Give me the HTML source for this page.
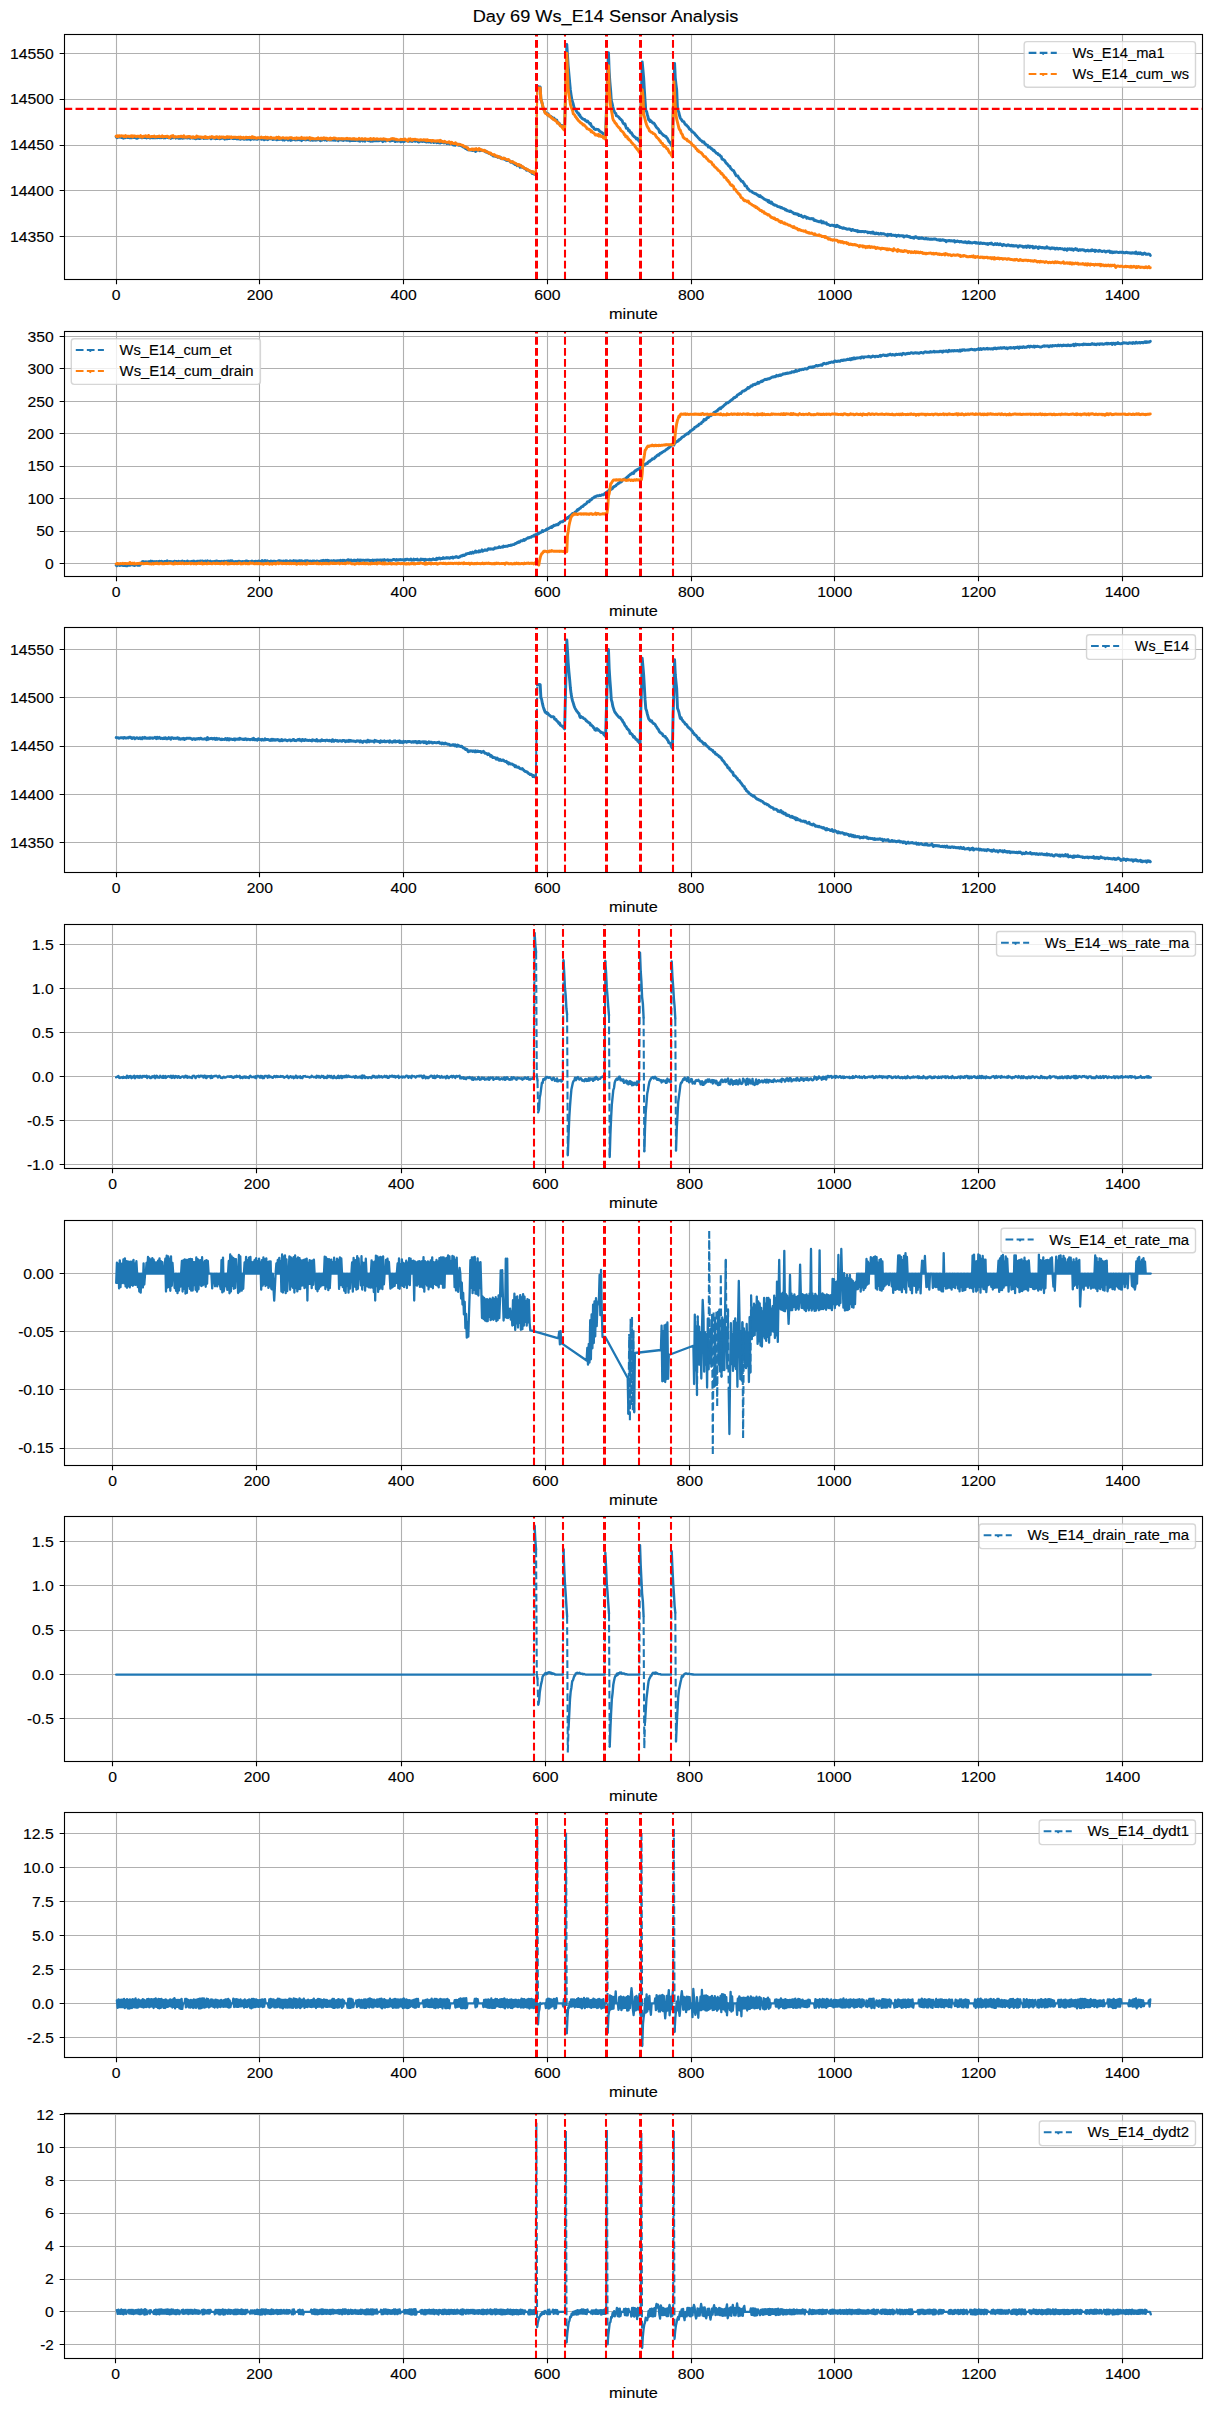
<!DOCTYPE html><html><head><meta charset="utf-8"><style>html,body{margin:0;padding:0;background:#fff;}svg{display:block;font-family:"Liberation Sans",sans-serif;} text{stroke:#000;stroke-width:0.12px;paint-order:stroke;}</style></head><body>
<svg width="1211" height="2411" viewBox="0 0 1211 2411">
<rect x="0" y="0" width="1211" height="2411" fill="#fff"/>
<text x="605.50" y="21.80" text-anchor="middle" font-size="16.67" textLength="265.62" lengthAdjust="spacingAndGlyphs" fill="#000">Day 69 Ws_E14 Sensor Analysis</text>
<g>
<defs><clipPath id="c0"><rect x="64.50" y="34.50" width="1138.00" height="245.00"/></clipPath></defs>
<path d="M116.50 34.50V279.50M259.50 34.50V279.50M403.50 34.50V279.50M547.50 34.50V279.50M691.50 34.50V279.50M834.50 34.50V279.50M978.50 34.50V279.50M1122.50 34.50V279.50M64.50 236.50H1202.50M64.50 190.50H1202.50M64.50 145.50H1202.50M64.50 99.50H1202.50M64.50 53.50H1202.50" stroke="#b0b0b0" stroke-width="1.111" fill="none"/>
<g clip-path="url(#c0)">
<path d="M116.2 136.6l.7 1.1 .7-.8 .8 .2 .7 .1 .7-.3 .7-.2 .7 .8 .7-.1 .8-.9 .7 1.7 .7-.5 .7-.7 .7 .7 .8-.6 .7 .2 .7 .3 .7-.8 .7 .8 .8 .3 .7 0 .7-.7 .7 .5 .7-1 .7 .6 .8 .3 .7-.8 .7 .6 .7 .7 .7 .3 .8-.7 .7 0 .7-.7 .7-.1 .7 0 .8 .8 .7 0 .7-.5 .7-.2 .7 .6 .7 0 .8-.2 .7 .6 .7-.5 .7 0 .7-.4 .8 .5 .7 .5 .7-.5 .7 0 .7 .1 .8 0 .7 .1 .7 0 .7 0 .7-.5 .7 .4 .8-.8 .7 .8 .7-.6 .7 .5 .7 .2 .8-.3 .7 .2 .7-.7 .7 .3 .7 .6 .7-.7 .8 .7 .7-.8 .7 .2 .7-.1 .7 .5 .8 .2 .7-.6 .7 .3 .7 .8 .7-.8 .8-.2 .7 .5 .7-.2 .7-.2 .7-.5 .7 1.1 .8-.6 .7 .3 .7-.4 .7 .9 .7-.2 .8 .1 .7-.4 .7 .2 .7 .2 .7 0 .8-.2 .7-.2 .7-.1 .7-.1 .7-.1 .7 .5 .8-.2 .7-.7 .7 .7 .7 .5 .7-.5 .8-.6 .7 .7 .7 .3 .7-.2 .7-.2 .8 .9 .7 0 .7-.8 .7 .4 .7-.2 .7 .2 .8 .3 .7-.3 .7-.2 .7-.3 .7-.1 .8 .3 .7 .5 .7-.3 .7-.1 .7 .1 .7-.1 .8 .2 .7-.6 .7-.3 .7 .6 .7-.3 .8 1.1 .7-.7 .7 0 .7-.5 .7 .7 .8-.3 .7 .7 .7-.1 .7-.6 .7 .4 .7-1.2 .8 .8 .7 .8 .7-.2 .7-.2 .7-.1 .8-.5 .7 0 .7 .7 .7 .6 .7-1.6 .8 1.2 .7 0 .7 .1 .7-.7 .7 .2 .7 .2 .8-.4 .7-.1 .7 .2 .7 .3 .7 .2 .8-.2 .7 .1 .7-.3 .7 0 .7 .7 .8-.4 .7 0 .7 .4 .7 .1 .7 .1 .7-.4 .8-.1 .7 .1 .7 0 .7 .5 .7-.5 .8 .2 .7-.3 .7 .6 .7-1.4 .7 1 .7 .2 .8-.8 .7 1.4 .7-.9 .7 0 .7-.4 .8 .8 .7-.2 .7-.4 .7 .4 .7 .2 .8 .2 .7-.4 .7-.5 .7 .2 .7-.7 .7 .7 .8 .6 .7-.1 .7-.2 .7-.1 .7 .8 .8-.5 .7 .2 .7-.2 .7-.4 .7 .9 .8-1.1 .7 0 .7 .3 .7-.1 .7 .1 .7 0 .8 .7 .7-.4 .7 .1 .7-.7 .7 .3 .8 .8 .7-.9 .7 .9 .7-.9 .7 .6 .7-.5 .8 .5 .7-.5 .7 .3 .7 .8 .7-.8 .8 1 .7-1 .7-.3 .7 .5 .7-.2 .8 .9 .7-.3 .7 .1 .7-.2 .7 .7 .7-.6 .8-.1 .7-.5 .7-.1 .7 .5 .7 .3 .8 .1 .7-.8 .7 .6 .7-.2 .7-.5 .8 .7 .7-1.1 .7 1 .7 .9 .7-1.4 .7 .4 .8-.7 .7 .5 .7 .6 .7-.7 .7 .4 .8-.1 .7 0 .7 .2 .7 .1 .7 .3 .8-.1 .7-.6 .7 .8 .7 0 .7-1.1 .7 .9 .8 0 .7 .1 .7-.2 .7-.7 .7 .4 .8-.7 .7 .8 .7 .9 .7-.5 .7 0 .7-.5 .8-.2 .7 0 .7 .5 .7-.4 .7 .1 .8 .7 .7-1.1 .7 .2 .7 .3 .7 .2 .8 0 .7-.5 .7 .6 .7-.1 .7 .2 .7-.6 .8 .6 .7 0 .7-.4 .7 .2 .7-.1 .8 .8 .7-1.8 .7 .7 .7-.1 .7 .5 .8-.1 .7 .1 .7 .5 .7-1 .7 .4 .7 .2 .8-.4 .7 .7 .7 0 .7-.4 .7-.5 .8 1.4 .7-.4 .7 0 .7-.2 .7 0 .8 .3 .7-.3 .7-.2 .7 .5 .7-.2 .7-.3 .8-.1 .7 .8 .7-.2 .7 .6 .7-1 .8-.1 .7 .5 .7 .4 .7-.3 .7-.1 .7 .6 .8-1 .7-.2 .7 .2 .7 .2 .7 .3 .8 .2 .7-.2 .7 .5 .7-1 .7 1.1 .8-1.1 .7 .8 .7-.8 .7 .5 .7-.1 .7 .2 .8 .1 .7-.3 .7 0 .7 .2 .7-.7 .8 .3 .7-.4 .7 .7 .7 .9 .7-.6 .8-.6 .7 0 .7 .7 .7-.5 .7-.5 .7 .3 .8 0 .7 0 .7 .7 .7-.3 .7-.6 .8 .4 .7-.2 .7 0 .7-.1 .7 1.3 .8-.8 .7 .3 .7 .1 .7-.4 .7 .3 .7 0 .8-.1 .7 .8 .7-.7 .7-.2 .7 .3 .8 .5 .7-.3 .7-.6 .7-.1 .7-.1 .7 .2 .8 .4 .7 .2 .7-1.2 .7 .9 .7-.5 .8 .8 .7 .1 .7-.7 .7 .1 .7-.2 .8 .6 .7-.8 .7 .2 .7 .2 .7 .8 .7 .4 .8-.9 .7-.5 .7 .6 .7-.4 .7 .6 .8-.6 .7 .4 .7 .1 .7 .3 .7-.2 .8 .6 .7-.4 .7-.8 .7 1.2 .7-.5 .7-.1 .8 .9 .7-.9 .7 .4 .7-.3 .7 .9 .8-.6 .7 .2 .7-.6 .7 1.2 .7-1 .8 .9 .7 .1 .7 .1 .7 .3 .7-1.2 .7 .7 .8-.1 .7 .2 .7 .3 .7-.4 .7-.3 .8 .5 .7 .7 .7-.9 .7 .6 .7-.3 .7 1 .8-1 .7 .7 .7 .2 .7 .2 .7 1 .8-.2 .7-.9 .7 1.4 .7-1.2 .7-.1 .8 .3 .7 .8 .7 .2 .7-.9 .7 1.2 .7-.2 .8 .9 .7-.1 .7 1 .7 .2 .7-.3 .8 1.5 .7-.1 .7 .6 .7 .6 .7-.5 .8 .8 .7-.3 .7 0 .7 .5 .7 0 .7 .4 .8 0 .7-.5 .7-.3 .7 1.6 .7-.4 .8-.9 .7-.3 .7 .2 .7 .3 .7 .4 .8-.1 .7-.2 .7-.2 .7 .2 .7 0 .7 .5 .8 .3 .7 .7 .7-.6 .7 1 .7 .4 .8 0 .7 .8 .7 0 .7 .5 .7 .6 .7 .4 .8 .1 .7 1 .7-.1 .7 .2 .7 .3 .8-.2 .7 .2 .7 .9 .7-.2 .7-.3 .8 0 .7 1.3 .7-.2 .7 .5 .7 .1 .7 .3 .8 .3 .7-.2 .7 .8 .7 .6 .7 .1 .8-.6 .7 .5 .7 .3 .7 .7 .7 .8 .8 .1 .7-.5 .7 1 .7 .7 .7-.2 .7 1.3 .8-.8 .7 1.1 .7 .8 .7-1.1 .7 .7 .8 .6 .7 1.4 .7-1.6 .7 1.4 .7 .2 .8 .2 .7 .2 .7 .5 .7 .5 .7 0 .7 1.5 .8-.6 .7 .6 .7 .3 .7 .5 .7 .6 .8 .1 .7 .6 .7 1.2 .7 .1 .7-.1 .7 .8 .8-.2 .7 .6M537.3 86.3l.7 .2 .8 .8 .7-.4 .7 .1 .7 12 .7 2.4 .8 2.8 .7 3.7 .7 1.4 .7 1.9 .7 .7 .7 1.4 .8 .6 .7 .3 .7-.4 .7 1.9 .7 .1 .8 .4 .7 .5 .7 .3 .7 1.3 .7 .4 .8-.7 .7 1 .7 .6 .7 1.1 .7-.7 .7 2.1 .8 1 .7-.1 .7 .9 .7 1.5 .7 0 .8 0 .7 .7 .7 .7 .7 .5 .7 1.2 .8-29 .7-27.3 .7-27.8 .7 10.7 .7 11 .7 7.7 .8 8.8 .7 7.3 .7 5 .7 4.4 .7 2.4 .8 2.6 .7 3 .7 1.6 .7 .3 .7 1.4 .7 1.1 .8 1.2 .7 0 .7 2.1 .7-.2 .7 1.9 .8 .7 .7 .8 .7 .6 .7 .4 .7 .3 .8 0 .7 1.2 .7 0 .7 1.1 .7-.7 .7 1.1 .8 .6 .7 1.1 .7-.3 .7 2 .7 .8 .8 .7 .7 .2 .7 1.5 .7 .2 .7 .6 .8-.3 .7 .1 .7 0 .7 .2 .7 1 .7 .7 .8 .5 .7 .3 .7 .5 .7 .5 .7 1 .8-.1 .7 .7 .7 1.1 .7-22.5 .7-21.4 .7-21.9 .8-17.2 .7 19 .7 10.4 .7 7.7 .7 10.4 .8 3 .7 3.3 .7 2.7 .7 2.1 .7 1.4 .8 .4 .7 2.7 .7 0 .7 .5 .7 .5 .7 .8 .8 1.1 .7 .4 .7 .8 .7 .6 .7 1.9 .8 1.1 .7 .6 .7-.2 .7 2.3 .7 2 .8-.2 .7 .5 .7 2.1 .7-.4 .7 1.6 .7 .9 .8 0 .7 1.5 .7 1.2 .7 .6 .7 .7 .8 .3 .7 1 .7 .9 .7-.6 .7 1 .8 1.3 .7 .8 .7 .7 .7-29.8 .7-21.3 .7-29.1 .8 8.5 .7 7.8 .7 12 .7 10.7 .7 9.4 .8 1.1 .7 2.9 .7 2.5 .7 3.1 .7-.5 .7 1.9 .8-.6 .7 1 .7 .7 .7 .6 .7-.1 .8 .9 .7 1.4 .7 1.1 .7 1.1 .7 .7 .8 .7 .7 .8 .7 2.7 .7-.9 .7 1.4 .7 .5 .8 .8 .7 .7 .7 .7 .7 .1 .7 .8 .8-.1 .7 1.4 .7 .6 .7 1.4 .7 1.6 .8 .6 .7 1.4 .7 .1 .7 2.3 .7 .6 .7-31.1 .8-22.2 .7-29.7 .7 14.7 .7 6.2 .7 5.7 .8 19.3 .7 1.5 .7 2 .7 3 .7 2.2 .8 1.2 .7 .8 .7 1.4 .7 0 .7 .4 .7 1.4 .8 1.4 .7 0 .7 1.2 .7 .4 .7 .8 .8 1.3 .7 1 .7 .2 .7 .5 .7 1.6 .7 .1 .8 .7 .7 .6 .7 .6 .7 1.2 .7 .6 .8 1 .7 .6 .7 1 .7 .4 .7 1.1 .8 .6 .7 .5 .7 .6 .7 .9 .7-.3 .7 .2 .8 1.7 .7 .2 .7 1.2 .7 0 .7 .1 .8 1.9 .7-.1 .7 .2 .7 .5 .7 1.1 .8 0 .7 1 .7 .9 .7-.4 .7 1 .7 .9 .8 1 .7 .3 .7 0 .7 1.3 .7-.1 .8 .7 .7 .9 .7 .3 .7 2.5 .7 .1 .8 .5 .7 .5 .7 .6 .7 1.5 .7 .9 .7 .5 .8 .9 .7 1.1 .7 .6 .7 .2 .7 1.8 .8 .7 .7 1 .7 .3 .7 .3 .7 1.2 .7 1.5 .8 1.5 .7 1 .7 0 .7 .2 .7 1.3 .8 1.1 .7 .9 .7 .7 .7 1.3 .7 0 .8 .3 .7 1.4 .7 .7 .7 2.2 .7-.1 .7 .3 .8 1.7 .7 1 .7 .5 .7 1 .7 .7 .8 .2 .7-.1 .7 1 .7 .5 .7 .2 .8 .6 .7 .3 .7 .1 .7 .5 .7 .7 .7 0 .8 1.1 .7 .4 .7-.9 .7 1.2 .7 .2 .8 .5 .7 .7 .7 .3 .7 .7 .7 .3 .8 .5 .7-.1 .7 .6 .7 1.1 .7-1.1 .7 2.1 .8-.5 .7 1.1 .7-1.1 .7 1.3 .7 .9 .8 .2 .7 .7 .7-.3 .7 .4 .7 .3 .7 .7 .8 .3 .7 .1 .7 .2 .7 .3 .7 .5 .8-.2 .7 .7 .7 .3 .7 .1 .7 .3 .8 1.1 .7-.5 .7 .7 .7 .6 .7 .1 .7 0 .8 .7 .7-.7 .7 .4 .7 .6 .7 .4 .8 .3 .7 1.1 .7 .2 .7-.4 .7 .5 .8-.2 .7 .8 .7-.4 .7 1.4 .7-.5 .7 .6 .8-.4 .7 1.3 .7-.1 .7 .8 .7-.5 .8-.5 .7 .6 .7 0 .7 1.4 .7-.7 .8 .2 .7 .7 .7 .1 .7 .3 .7-.1 .7-.4 .8 .5 .7-.1 .7 1.6 .7 .1 .7-.3 .8 .6 .7 .2 .7 .3 .7 .1 .7 .4 .7-.1 .8-.7 .7 0 .7 1.9 .7-.1 .7-1 .8 1.3 .7-.2 .7 .3 .7-.5 .7 1.5 .8-.1 .7 .6 .7 .2 .7 .4 .7 .3 .7-.4 .8 .1 .7-.2 .7 .7 .7-.2 .7-.2 .8 1.2 .7-.1 .7-1.2 .7 .5 .7 .9 .8-.3 .7 1.2 .7-.3 .7 .3 .7 .4 .7 .3 .8-.5 .7 .5 .7 .1 .7 .3 .7 .1 .8 .5 .7-.2 .7-.2 .7 .4 .7-.3 .8 .7 .7 .7 .7-.7 .7-.3 .7 .8 .7 0 .8 .4 .7-.1 .7 .5 .7-.4 .7 1.2 .8-.7 .7 .4 .7 .2 .7-.3 .7 .3 .7-.2 .8 0 .7 .2 .7 .3 .7-.6 .7 .2 .8 .2 .7 .1 .7 .8 .7-.4 .7 0 .8 .2 .7 .5 .7-.7 .7 .8 .7-1.2 .7 .6 .8 1.1 .7 .1 .7-.5 .7-.2 .7 .6 .8-.4 .7 .9 .7-.1 .7-.1 .7-.6 .8 .8 .7-.4 .7 .1 .7 0 .7 .2 .7 .4 .8 .2 .7 .1 .7 1.1 .7-1.5 .7 .7 .8-.6 .7 .2 .7-.3 .7 1.1 .7-.3 .7 0 .8 0 .7 .5 .7-.5 .7 .4 .7 .9 .8-.9 .7-.2 .7 0 .7 .8 .7-.2 .8-.3 .7 .1 .7 .4 .7-.3 .7 1.3 .7-.9 .8 .1 .7 .1 .7-.6 .7 .2 .7 .6 .8 .2 .7-.4 .7 1.2 .7-.4 .7 .4 .8 .1 .7-.5 .7 1.1 .7-.8 .7-.8 .7-.1 .8 1 .7 .4 .7-.2 .7 .7 .7-.7 .8 .4 .7 .1 .7-.6 .7 .6 .7 .1 .8 .4 .7 .1 .7-.1 .7-.6 .7 .7 .7 .2 .8-.4 .7 .4 .7 .1 .7 .2 .7-.4 .8 .3 .7-.1 .7 0 .7-.2 .7 .2 .7-.2 .8 .4 .7 .4 .7 .1 .7 .1 .7-.3 .8 .7 .7-.7 .7 .6 .7-.1 .7-.4 .8 .1 .7 .6 .7-.2 .7 .2 .7 1.2 .7-1 .8-.1 .7 .3 .7-.4 .7 .2 .7 .3 .8-.4 .7 .4 .7 0 .7 .1 .7-.6 .8 1.5 .7-.7 .7 .3 .7-.6 .7 0 .7 .6 .8-.1 .7 .5 .7-.6 .7 0 .7 .6 .8 .2 .7 .2 .7-.4 .7 .2 .7-.4 .8 .9 .7 0 .7 0 .7-1 .7 1.1 .7-.6 .8 .5 .7 0 .7 .4 .7-.5 .7 0 .8-.2 .7-.1 .7 .8 .7-.5 .7 .6 .7-.3 .8-.1 .7 .7 .7 0 .7-.7 .7 .4 .8 .1 .7 .3 .7-.5 .7 .2 .7 .2 .8 .4 .7 .1 .7-.5 .7 .9 .7-.4 .7-.5 .8-.2 .7 .5 .7-.7 .7 1 .7 .2 .8 .4 .7-.3 .7-.8 .7 .6 .7 .4 .8-1 .7 .5 .7 .7 .7-.2 .7-.8 .7 .7 .8 .2 .7 .9 .7-.9 .7-.2 .7 .5 .8 .1 .7 .2 .7 .4 .7-.6 .7-.4 .8 .6 .7 0 .7 .4 .7 0 .7-.5 .7 .6 .8 .2 .7-.5 .7 .6 .7-.3 .7 0 .8 0 .7 .4 .7 .9 .7-1 .7-.5 .7 .4 .8-.1 .7 .4 .7-.1 .7 1.1 .7-.7 .8 .5 .7-.9 .7 .2 .7 1 .7-1.5 .8 .8 .7-.6 .7 1.3 .7-1.1 .7 .4 .7 .2 .8-.6 .7 1.7 .7-1 .7 .8 .7-.9 .8-.3 .7 .8 .7 0 .7 1.2 .7-1.6 .8-.1 .7 .4 .7 .4 .7 .2 .7-.5 .7 .2 .8 .4 .7 .2 .7-.6 .7 .3 .7-1.1 .8 .8 .7 .6 .7-.2 .7 0 .7 .8 .8-.7 .7-.3 .7 .5 .7 .1 .7-.5 .7 .9 .8 .3 .7-.9 .7 0 .7 .3 .7 .6 .8-.7 .7 0 .7 .1 .7 .4 .7 0 .7-.1 .8 .6 .7 .4 .7-1 .7 .7 .7-.3 .8 1.1 .7-1.5 .7 .3 .7 .2 .7-.6 .8 .5 .7 .5 .7-.9 .7 .7 .7 .7 .7-.9 .8-.1 .7-.6 .7 1 .7-.5 .7 .9 .8 .5 .7-.4 .7-.5 .7 .6 .7-.4 .8-.2 .7 .3 .7 .3 .7-.2 .7 .4 .7 .7 .8-.6 .7 .1 .7-.5 .7 .8 .7-.3 .8 .3 .7-.7 .7 .5 .7-1 .7 .8 .8-.1 .7-.1 .7 1.2 .7-1.3 .7 .6 .7 .1 .8 .3 .7 .2 .7-1 .7 .5 .7-.1 .8 .6 .7 .2 .7-.5 .7 0 .7-.2 .7 .6 .8 .6 .7-.5 .7-.4 .7 0 .7 .1 .8-.3 .7 1.4 .7-.7 .7-.1 .7 1.1 .8-.8 .7 .6 .7-.5 .7 .4 .7-.4 .7-.1 .8 .4 .7 .1 .7 .2 .7-.3 .7-.1 .8 0 .7 .3 .7-.3 .7 .1 .7 .4 .8 .1 .7 0 .7-.5 .7-.2 .7 .7 .7 0 .8-.1 .7 .2 .7 .3 .7-.3 .7 .3 .8-.5 .7 .3 .7-.2 .7-.2 .7 .8 .8-1.3 .7 1.2 .7 .4 .7-.1 .7-.8 .7 .8 .8-.8 .7 .4 .7 1 .7-.4 .7 .4 .8-.9 .7-.3 .7 .6 .7 .8 .7-.1 .7 .1 .8-.4 .7 .1 .7 0 .7 1.3" fill="none" stroke="#1f77b4" stroke-width="2.90" stroke-linejoin="round" stroke-linecap="round"/>
<path d="M535.9 174.7l.7-47.1M536.6 127.6l.7-41.3" fill="none" stroke="#1f77b4" stroke-width="2.083" stroke-dasharray="7.71 3.33"/>
<path d="M116.2 136l.7 .7 .7-.8 .8 .7 .7-1 .7 .2 .7 .4 .7-.4 .7 .1 .8 .1 .7-.1 .7 .8 .7-.1 .7-1 .8 1.2 .7-.7 .7 0 .7 0 .7 .4 .8 0 .7-.5 .7 .2 .7-.5 .7 1.2 .7-1 .8 0 .7 0 .7 .4 .7 .3 .7-.5 .8 .2 .7-.2 .7 .7 .7-.4 .7-.8 .8 1.3 .7-.4 .7 .6 .7-1 .7 0 .7 .2 .8-.5 .7 .4 .7 .7 .7-.2 .7-1.3 .8 1.5 .7-.3 .7 .2 .7-.3 .7 0 .8 0 .7 0 .7-.4 .7 .8 .7-.3 .7 .1 .8-.1 .7-.2 .7 .1 .7-.5 .7 .6 .8 .1 .7-.2 .7-.6 .7 1.2 .7-.6 .7 .1 .8-.1 .7-.1 .7 .1 .7-.3 .7 .2 .8 1.1 .7-.4 .7 .4 .7-1.1 .7-.5 .8 .2 .7-.5 .7 1.5 .7 .1 .7-.4 .7 .1 .8 0 .7-.2 .7 .3 .7-.6 .7 .2 .8 .1 .7-.6 .7 .3 .7 .6 .7 0 .8-1.2 .7 1.4 .7-.2 .7 .2 .7-.4 .7 .3 .8-.7 .7 .4 .7-.3 .7 .2 .7 .7 .8 .2 .7-.7 .7-.1 .7 .5 .7-.2 .8 .6 .7-.5 .7-1.2 .7 1 .7-.1 .7-.2 .8 .4 .7-.1 .7-.1 .7 .7 .7-.4 .8 0 .7-.1 .7 .5 .7-1 .7 1 .7-.6 .8 .7 .7 0 .7-.4 .7-.3 .7 .3 .8 0 .7-.7 .7 .4 .7-.1 .7 .8 .8 .2 .7-1 .7 .1 .7-.3 .7 .6 .7 .3 .8 .4 .7-1.3 .7 .9 .7-.4 .7-.2 .8 .1 .7-.1 .7 .5 .7-.2 .7 .5 .8-.7 .7-.5 .7 .4 .7 .5 .7-.7 .7 .3 .8 .5 .7-.8 .7 .9 .7-.2 .7-.3 .8 .2 .7-.2 .7 .1 .7 0 .7 .2 .8-.1 .7-.2 .7-.1 .7 1.2 .7-1.2 .7 .3 .8 .6 .7-.1 .7-.7 .7 1.1 .7 0 .8-.9 .7-.3 .7 .7 .7-.3 .7 0 .7-.2 .8 .1 .7 .3 .7 .3 .7-1.2 .7-.1 .8 1.3 .7-.7 .7 .6 .7-.2 .7 .5 .8-.1 .7-.5 .7 0 .7 .2 .7 .2 .7-.5 .8-.4 .7 .7 .7-.1 .7 0 .7-.3 .8 .6 .7-.9 .7 .5 .7 .7 .7-.9 .8 .6 .7 0 .7 0 .7-.8 .7 1.1 .7-.4 .8 .2 .7-.1 .7-.1 .7 .5 .7 .1 .8-1.3 .7 .4 .7 .3 .7-.8 .7 1.4 .7-.8 .8 .5 .7-.1 .7-.2 .7-.3 .7 .3 .8 .2 .7 .2 .7-.3 .7-.1 .7 .1 .8 .6 .7-.4 .7-.4 .7-.2 .7 .3 .7-.2 .8 .3 .7 .7 .7-.3 .7-.2 .7 .1 .8 .6 .7-1.2 .7 .7 .7-.3 .7 .2 .8-.1 .7-.1 .7 .3 .7-1 .7 1 .7 .1 .8-.6 .7 0 .7 1.1 .7-1.1 .7 .3 .8-.2 .7 .1 .7 0 .7-.6 .7 1.8 .8-1.2 .7 .4 .7-.2 .7 .6 .7-.2 .7 .2 .8 0 .7-.1 .7-.4 .7 .4 .7-1 .8 1 .7 0 .7-.2 .7-.6 .7 1 .7-.8 .8 .6 .7-1 .7 .7 .7-.2 .7-.1 .8 .1 .7 1 .7-.7 .7 .1 .7 .8 .8-1.5 .7 1.2 .7-.7 .7-.1 .7 .1 .7-.6 .8 .2 .7 .1 .7 .3 .7 .5 .7 .1 .8-.5 .7 .3 .7 0 .7-.2 .7 .1 .8-.3 .7 .5 .7-.3 .7 .1 .7 .1 .7 0 .8-.4 .7-.2 .7 .5 .7-.2 .7 .1 .8 .1 .7-.2 .7 .5 .7 0 .7-.5 .8 .5 .7-.6 .7 .7 .7 0 .7-.2 .7 .3 .8 .1 .7-.2 .7-.9 .7 .8 .7 0 .8 .2 .7-.7 .7 .7 .7-.1 .7 0 .7-.6 .8 .1 .7 .8 .7-.1 .7-.3 .7 .4 .8-.3 .7-.2 .7-.5 .7 1.1 .7-.5 .8 .2 .7-.8 .7 .5 .7 .3 .7-.2 .7-.2 .8-.1 .7 .5 .7-.2 .7 0 .7 .1 .8-.2 .7 .2 .7-.1 .7 .2 .7-.5 .8 .1 .7 .4 .7 0 .7 .1 .7 .8 .7-.5 .8 .1 .7-.2 .7-.2 .7-.3 .7-.4 .8 .2 .7-.4 .7 .5 .7-.2 .7 .3 .8 .4 .7-.2 .7 .5 .7 .1 .7 0 .7 0 .8-.3 .7-.3 .7 .4 .7-.2 .7 0 .8 .2 .7-.5 .7-.2 .7 .7 .7 .6 .7-.2 .8 1 .7-2 .7 .3 .7-.6 .7 .5 .8 1.1 .7-.1 .7-1 .7 .3 .7-.2 .8-.2 .7 .4 .7 0 .7 .2 .7 .1 .7 .2 .8 .2 .7-.5 .7 0 .7 .1 .7 .2 .8-.1 .7-.3 .7 .2 .7 .5 .7-.6 .8 .8 .7-.9 .7 .9 .7 0 .7-.2 .7 .1 .8 0 .7 .8 .7-.8 .7-.1 .7 .5 .8 .3 .7-.2 .7-.2 .7 .5 .7-.6 .8 0 .7-.1 .7 1 .7-1.3 .7 .4 .7 .7 .8 .1 .7 .6 .7-.5 .7-.3 .7 .7 .8 .1 .7 .2 .7 .1 .7 0 .7-.7 .7 .3 .8 1.4 .7-.6 .7-.6 .7 .9 .7 .5 .8-.1 .7 0 .7-.8 .7 1.1 .7 .1 .8 .9 .7-.6 .7 .2 .7 0 .7 .2 .7 .3 .8 .2 .7 .2 .7 .3 .7 .9 .7 .2 .8 .4 .7-.1 .7 .7 .7 0 .7 1.5 .8 .7 .7-.3 .7-.2 .7 .2 .7-.7 .7 0 .8 1.1 .7-.9 .7 .4 .7-.2 .7-.7 .8 .7 .7 .6 .7 .2 .7-1.5 .7 .4 .8 .4 .7 .7 .7 .1 .7 .1 .7 .5 .7-.5 .8 .1 .7 1.2 .7-.1 .7 .4 .7 .2 .8 .4 .7 .9 .7-.4 .7 0 .7 .8 .7 .7 .8 .1 .7 .4 .7-.5 .7 .6 .7 1.1 .8-.3 .7 0 .7 1 .7-.4 .7 .7 .8 0 .7 .4 .7 .4 .7 .8 .7-.2 .7-.6 .8 .1 .7 .6 .7 .3 .7 .6 .7 0 .8 .3 .7-.4 .7 1 .7 .6 .7 .8 .8-.1 .7 .1 .7-.2 .7 .8 .7 .3 .7 .3 .8 .5 .7 .4 .7 .4 .7 1 .7-.9 .8 .1 .7 1 .7-.2 .7 .8 .7 .5 .8 .1 .7 1 .7 .3 .7 .2 .7 .6 .7 .5 .8-.1 .7 .8 .7 .2 .7 .3 .7 .2 .8 1.3 .7-.2 .7-.3 .7 1.2 .7-.9 .7 1.6 .8 .5 .7 .5M537.3 87.2l.7 1.1 .8-.2 .7 .2 .7-.4 .7 11.8 .7 1.4 .8 3.6 .7 2.4 .7 2.1 .7 2.2 .7 1.7 .7 .5 .8 0 .7 1.4 .7 .2 .7-.2 .7 1.2 .8 .1 .7 1.2 .7 .6 .7 0 .7 1.1 .8 .5 .7-.1 .7 1 .7 .4 .7 .6 .7 1.5 .8-.3 .7 .9 .7 .8 .7 1.2 .7 .5 .8 .1 .7 1.6 .7 1 .7 .8 .7-.1 .8-28.9 .7-27.7 .7-19.7 .7 19.5 .7 17.2 .7 4.4 .8 4.6 .7 5.4 .7 2.3 .7 2 .7 1.6 .8 3.6 .7 .5 .7 .6 .7 1.6 .7 .7 .7 1 .8 1.1 .7 1.1 .7 .4 .7 .9 .7 .7 .8 .6 .7 .2 .7 1 .7 .8 .7-.4 .8 1 .7 .8 .7 .6 .7 1.4 .7 .4 .7 .1 .8 .5 .7 .2 .7 .7 .7 1.4 .7-.6 .8 1.4 .7 0 .7 .7 .7 .8 .7 1 .8-.4 .7 .3 .7 .4 .7-1 .7 1.8 .7-1.2 .8 .7 .7 .8 .7-.3 .7 .2 .7 1.6 .8-.1 .7 1 .7 .3 .7-19.9 .7-19 .7-20.5 .8-14.2 .7 24 .7 7.8 .7 8.8 .7 3.8 .8 3.9 .7 4.7 .7 1.9 .7 .6 .7 1.5 .8 .8 .7 .7 .7 1.5 .7 .8 .7 .8 .7 .6 .8 .8 .7 1.6 .7 .7 .7 .5 .7 .6 .8 .9 .7 1.8 .7-.1 .7 2.1 .7-.3 .8 .4 .7 2.1 .7-.2 .7 1.4 .7 .1 .7 .9 .8 1.4 .7 .4 .7 1.2 .7 .6 .7 .3 .8 1.7 .7 .6 .7 1 .7 1.1 .7 .2 .8 1.7 .7 .9 .7 1.1 .7-35.3 .7-25 .7-3.3 .8 6.7 .7 17.9 .7 2.4 .7 2.7 .7 2.9 .8 2.5 .7 1.8 .7 1.2 .7 .8 .7 2.3 .7 .3 .8 .8 .7 .4 .7 .1 .7 1 .7 .2 .8 .3 .7 .7 .7 1.5 .7 .9 .7 .7 .8 .6 .7 1 .7 1 .7 .4 .7 1.6 .7 .6 .8 .3 .7 1.8 .7 1 .7-.5 .7 1.2 .8 .5 .7 1.4 .7-.1 .7 1.2 .7 1.6 .8 1.4 .7-.1 .7 1.6 .7 1.3 .7 1.3 .7-39.9 .8-35.4 .7 11.4 .7 13.7 .7 8.1 .7 4.4 .8 3.1 .7 2.9 .7 2.9 .7 1.7 .7 .5 .8 2.5 .7 1 .7 1.1 .7 2.5 .7 .3 .7 .9 .8 .3 .7 .6 .7-.2 .7 1.6 .7-.1 .8 .8 .7 .5 .7 .4 .7 .5 .7 1.1 .7 1.3 .8-.1 .7 .7 .7 1 .7 .4 .7 1.4 .8 .4 .7 1.5 .7-.2 .7 1.4 .7-.1 .8 .7 .7 .2 .7 1 .7 .7 .7 1.1 .7 1 .8 0 .7 .3 .7 1.3 .7 .6 .7 .6 .8 1.2 .7 .8 .7 0 .7 .7 .7-.1 .8 1.5 .7 1.3 .7 0 .7 1.4 .7 .7 .7 .6 .8 .7 .7 .5 .7 1.1 .7 .7 .7 .4 .8 .6 .7 1.2 .7 1 .7-.2 .7 1.4 .8 .6 .7 1.8 .7-.2 .7 .7 .7 .8 .7 1.6 .8 0 .7 1.6 .7 .4 .7 1.6 .7 1 .8 .7 .7-.4 .7 1.1 .7 .3 .7 3 .7-.4 .8 .9 .7 1.1 .7 1.1 .7 .5 .7 1 .8 .8 .7 .4 .7 2.1 .7 .8 .7 .2 .8 .9 .7 1.2 .7 .7 .7-.5 .7 .7 .7 0 .8 .8 .7-.7 .7 .5 .7 1.6 .7 .2 .8 .7 .7 .3 .7 .7 .7 .3 .7 .3 .8 .7 .7 0 .7 1.3 .7-.5 .7 .6 .7 1 .8 0 .7 1 .7 .6 .7 .2 .7 0 .8 1.4 .7-.2 .7-.1 .7 1.7 .7-.3 .8 .6 .7 .6 .7-.1 .7 1 .7-.4 .7 .6 .8 .7 .7 1.4 .7-.1 .7 .6 .7-.1 .8 .8 .7-.6 .7 1.1 .7 .7 .7-.1 .7-.3 .8 .5 .7 1.2 .7 .6 .7-.4 .7 1.1 .8-.8 .7 1 .7 .2 .7 .6 .7-.7 .8 1.3 .7 0 .7-.1 .7 .5 .7 .4 .7 .5 .8-.1 .7 .3 .7 .7 .7 .2 .7 .5 .8 .5 .7-.8 .7 1 .7 .5 .7 .2 .8-.1 .7 1 .7 .7 .7-.4 .7 0 .7 .8 .8 0 .7 .3 .7 .2 .7 0 .7 .4 .8-.1 .7-.3 .7 1.4 .7-.1 .7 .1 .8 .8 .7-.4 .7 .7 .7 .1 .7-.2 .7-.2 .8 .9 .7 .1 .7 .5 .7-.8 .7 .8 .8 .4 .7 .2 .7 .1 .7 .3 .7-.8 .7 1 .8 .1 .7-.2 .7 .9 .7 0 .7-.1 .8 .1 .7 .9 .7-.9 .7 1.2 .7-.2 .8 .7 .7 1 .7-.3 .7-.2 .7 .9 .7 .3 .8-.2 .7 .5 .7-.4 .7 .3 .7-.1 .8 .1 .7 .3 .7-.1 .7 .4 .7 1.2 .8-.5 .7-.2 .7 1 .7 .1 .7-.9 .7 .4 .8 1.1 .7-.4 .7 .2 .7-.1 .7-.1 .8 1.1 .7-.6 .7 .7 .7 .8 .7-.4 .8-.1 .7 .5 .7 .2 .7-.3 .7 .5 .7-.4 .8 0 .7 .6 .7-.2 .7 .5 .7 .3 .8 .2 .7 .8 .7-1.1 .7 .3 .7 .1 .7-.2 .8 1.3 .7-1 .7 .3 .7 .1 .7 1.2 .8-1.1 .7-.1 .7 .9 .7-.7 .7-.5 .8 1.4 .7 0 .7-.8 .7 .1 .7 .6 .7-.3 .8-.2 .7 .3 .7 1.3 .7-.2 .7-.8 .8 .4 .7 .2 .7-.1 .7 .2 .7 .8 .8-.9 .7 .1 .7 .3 .7-.1 .7 .2 .7 0 .8-.1 .7 1 .7-.7 .7 .9 .7-.8 .8 0 .7 .6 .7-.1 .7 .5 .7 0 .7 .8 .8-2.1 .7 .9 .7 .5 .7 0 .7 .1 .8 1.2 .7-1.9 .7 1.3 .7-.3 .7 .2 .8 .5 .7-.4 .7 .5 .7 .3 .7 0 .7-1.2 .8 .6 .7-.2 .7 .3 .7 .3 .7 1.1 .8-1.1 .7 .2 .7 .2 .7 .8 .7-.8 .8 .5 .7 .2 .7 0 .7-1 .7 .4 .7 .8 .8-.9 .7 .7 .7-.5 .7 .8 .7-.1 .8-.6 .7 .6 .7-.3 .7 .3 .7 .8 .8-.4 .7 .1 .7 .5 .7-.5 .7 .5 .7-.3 .8 0 .7-.2 .7-.1 .7-.1 .7 .1 .8 .7 .7 0 .7-.5 .7 .9 .7-.7 .7 .2 .8-.4 .7 .3 .7 .7 .7-.1 .7-.4 .8 .8 .7-.5 .7 .2 .7 .4 .7-.2 .8-.3 .7-.2 .7 1 .7-1.4 .7 .7 .7-.4 .8 .5 .7 .7 .7-.5 .7 .1 .7 .2 .8 .8 .7-.2 .7-.4 .7-.3 .7 .2 .8 .3 .7-.2 .7 .1 .7-.3 .7-.1 .7 .2 .8 .6 .7-.4 .7 1.4 .7-.7 .7 .1 .8 .2 .7-.8 .7 0 .7 .4 .7 .4 .8 .1 .7 .5 .7-.1 .7-.1 .7 .1 .7-.3 .8 .3 .7-.4 .7 0 .7 .6 .7-1 .8 1.3 .7 .3 .7-.9 .7 .5 .7-.1 .7-.5 .8 .6 .7 .2 .7 .2 .7-.5 .7 .3 .8-.3 .7 .7 .7-.4 .7 .5 .7-.6 .8 .4 .7-.4 .7 .1 .7 .8 .7-.4 .7 .1 .8 .3 .7-.5 .7 1.1 .7-1 .7 .2 .8 1.1 .7-1.5 .7 1.4 .7-.5 .7 .1 .8-.5 .7 .5 .7-.5 .7 .9 .7-.4 .7-.1 .8 .1 .7 .2 .7 .5 .7-.2 .7-.4 .8 0 .7 0 .7 .8 .7-.1 .7-.6 .8-.1 .7 .6 .7-.1 .7 .5 .7-.2 .7 .2 .8 .3 .7 .1 .7-.5 .7 .5 .7-.5 .8-.2 .7 .6 .7 .5 .7 .1 .7-.5 .7-.6 .8 .8 .7-.1 .7 .4 .7 .2 .7-.6 .8 0 .7 .2 .7-.1 .7-.1 .7 .6 .8-.4 .7 .3 .7 0 .7-.1 .7 .6 .7-.4 .8 .2 .7 .4 .7-.3 .7-.5 .7 .5 .8 0 .7 .5 .7 .5 .7-.6 .7 0 .8 .7 .7-.9 .7 .5 .7 .1 .7-.2 .7 0 .8 .2 .7 .6 .7-.4 .7-.4 .7 .4 .8 .3 .7 .4 .7-.4 .7-.2 .7 .6 .8-.2 .7-.2 .7-.3 .7 .3 .7 .4 .7-.8 .8-.1 .7 .9 .7-.8 .7 .1 .7 .5 .8 0 .7 .2 .7 .1 .7 .2 .7-.3 .7-.2 .8-.8 .7 1.7 .7-.1 .7-.1 .7-.2 .8-.3 .7 .6 .7-.2 .7-.4 .7 1 .8-1 .7 .5 .7 .9 .7-1 .7 .4 .7 .4 .8-.4 .7-.5 .7 .4 .7 .3 .7-.6 .8 1.2 .7-.4 .7 .2 .7-.1 .7 .1 .8-.3 .7-.4 .7 .9 .7-.2 .7 .7 .7-1.1 .8 .6 .7 .8 .7-1.3 .7 .1 .7 .6 .8 .6 .7-1.1 .7 .5 .7 0 .7-.1 .8 .1 .7 .7 .7-.4 .7-.6 .7 .4 .7 .3 .8-.6 .7 .4 .7 .1 .7-.6 .7 1.6 .8-1.3 .7 .7 .7-.1 .7-.1 .7 .8 .7-.5 .8-.3 .7 .9 .7-.2 .7-.6 .7-.2 .8 1 .7-.3 .7-.5 .7 .8 .7-.7 .8 .3 .7 0 .7-.4 .7 1.1 .7 1.2 .7-1.1 .8-.1 .7-.2 .7 .1 .7 .2 .7 .2 .8-.4 .7 .2 .7 0 .7 .3 .7 .2 .8 .1 .7-.6 .7 0 .7 .5 .7-.4 .7 .1 .8 .3 .7 0 .7 .4 .7-1 .7 1 .8-.6 .7 .4 .7-.7 .7 .5 .7-.2 .8 1 .7-1.1 .7 .9 .7-.8 .7-.1 .7 .6 .8 .4 .7-.4 .7 .2 .7-.1 .7-.1 .8 .6 .7-.5 .7 .4 .7-.8 .7 .4 .7 .5 .8-.5 .7-.7 .7 1.2 .7 0" fill="none" stroke="#ff7f0e" stroke-width="2.90" stroke-linejoin="round" stroke-linecap="round"/>
<path d="M535.9 174.5l.7-46.2M536.6 128.3l.7-41.1" fill="none" stroke="#ff7f0e" stroke-width="2.083" stroke-dasharray="7.71 3.33"/>
<line x1="536.50" y1="279.50" x2="536.50" y2="34.50" stroke="#ff0000" stroke-width="3.00" stroke-dasharray="7.71 3.33"/>
<line x1="565.00" y1="279.50" x2="565.00" y2="34.50" stroke="#ff0000" stroke-width="2.08" stroke-dasharray="7.71 3.33"/>
<line x1="606.50" y1="279.50" x2="606.50" y2="34.50" stroke="#ff0000" stroke-width="3.00" stroke-dasharray="7.71 3.33"/>
<line x1="640.50" y1="279.50" x2="640.50" y2="34.50" stroke="#ff0000" stroke-width="3.00" stroke-dasharray="7.71 3.33"/>
<line x1="673.00" y1="279.50" x2="673.00" y2="34.50" stroke="#ff0000" stroke-width="2.08" stroke-dasharray="7.71 3.33"/>
<line x1="64.50" y1="108.90" x2="1202.50" y2="108.90" stroke="#ff0000" stroke-width="2.08" stroke-dasharray="7.71 3.33"/>
</g>
<rect x="64.50" y="34.50" width="1138.00" height="245.00" fill="none" stroke="#000" stroke-width="1.111" stroke-linejoin="miter"/>
<text x="116.20" y="300.00" text-anchor="middle" font-size="13.89" textLength="8.75" lengthAdjust="spacingAndGlyphs" fill="#000">0</text>
<text x="259.93" y="300.00" text-anchor="middle" font-size="13.89" textLength="26.25" lengthAdjust="spacingAndGlyphs" fill="#000">200</text>
<text x="403.66" y="300.00" text-anchor="middle" font-size="13.89" textLength="26.25" lengthAdjust="spacingAndGlyphs" fill="#000">400</text>
<text x="547.38" y="300.00" text-anchor="middle" font-size="13.89" textLength="26.38" lengthAdjust="spacingAndGlyphs" fill="#000">600</text>
<text x="691.11" y="300.00" text-anchor="middle" font-size="13.89" textLength="26.38" lengthAdjust="spacingAndGlyphs" fill="#000">800</text>
<text x="834.84" y="300.00" text-anchor="middle" font-size="13.89" textLength="35.12" lengthAdjust="spacingAndGlyphs" fill="#000">1000</text>
<text x="978.57" y="300.00" text-anchor="middle" font-size="13.89" textLength="35.12" lengthAdjust="spacingAndGlyphs" fill="#000">1200</text>
<text x="1122.30" y="300.00" text-anchor="middle" font-size="13.89" textLength="35.12" lengthAdjust="spacingAndGlyphs" fill="#000">1400</text>
<text x="53.80" y="241.70" text-anchor="end" font-size="13.89" textLength="43.88" lengthAdjust="spacingAndGlyphs" fill="#000">14350</text>
<text x="53.80" y="195.95" text-anchor="end" font-size="13.89" textLength="43.88" lengthAdjust="spacingAndGlyphs" fill="#000">14400</text>
<text x="53.80" y="150.20" text-anchor="end" font-size="13.89" textLength="43.88" lengthAdjust="spacingAndGlyphs" fill="#000">14450</text>
<text x="53.80" y="104.45" text-anchor="end" font-size="13.89" textLength="43.88" lengthAdjust="spacingAndGlyphs" fill="#000">14500</text>
<text x="53.80" y="58.70" text-anchor="end" font-size="13.89" textLength="43.88" lengthAdjust="spacingAndGlyphs" fill="#000">14550</text>
<path d="M116.50 279.50v4.86M259.50 279.50v4.86M403.50 279.50v4.86M547.50 279.50v4.86M691.50 279.50v4.86M834.50 279.50v4.86M978.50 279.50v4.86M1122.50 279.50v4.86M64.50 236.50h-4.86M64.50 190.50h-4.86M64.50 145.50h-4.86M64.50 99.50h-4.86M64.50 53.50h-4.86" stroke="#000" stroke-width="1.111" fill="none"/>
<text x="633.50" y="319.00" text-anchor="middle" font-size="13.89" textLength="48.88" lengthAdjust="spacingAndGlyphs" fill="#000">minute</text>
<rect x="1024.17" y="41.60" width="171.32" height="45.70" rx="2.8" ry="2.8" fill="#fff" fill-opacity="0.8" stroke="#cccccc" stroke-opacity="0.8" stroke-width="1.39"/>
<line x1="1028.67" y1="52.85" x2="1056.77" y2="52.85" stroke="#1f77b4" stroke-width="2.083" stroke-dasharray="7.71 3.33"/>
<circle cx="1043.17" cy="53.85" r="1.15" fill="#1f77b4"/>
<text x="1072.47" y="58.00" text-anchor="start" font-size="13.89" textLength="92.25" lengthAdjust="spacingAndGlyphs" fill="#000">Ws_E14_ma1</text>
<line x1="1028.67" y1="73.95" x2="1056.77" y2="73.95" stroke="#ff7f0e" stroke-width="2.083" stroke-dasharray="7.71 3.33"/>
<circle cx="1043.17" cy="74.95" r="1.15" fill="#ff7f0e"/>
<text x="1072.47" y="79.10" text-anchor="start" font-size="13.89" textLength="116.62" lengthAdjust="spacingAndGlyphs" fill="#000">Ws_E14_cum_ws</text>
</g>
<g>
<defs><clipPath id="c1"><rect x="64.50" y="331.50" width="1138.00" height="245.00"/></clipPath></defs>
<path d="M116.50 331.50V576.50M259.50 331.50V576.50M403.50 331.50V576.50M547.50 331.50V576.50M691.50 331.50V576.50M834.50 331.50V576.50M978.50 331.50V576.50M1122.50 331.50V576.50M64.50 563.50H1202.50M64.50 531.50H1202.50M64.50 498.50H1202.50M64.50 466.50H1202.50M64.50 433.50H1202.50M64.50 401.50H1202.50M64.50 368.50H1202.50M64.50 336.50H1202.50" stroke="#b0b0b0" stroke-width="1.111" fill="none"/>
<g clip-path="url(#c1)">
<path d="M116.2 565.2l.7 .5 .7-.4 .8-.3 .7 .1 .7 .4 .7-.5 .7-.1 .7 .3 .8 .1 .7 .3 .7-.2 .7 .1 .7-.4 .8 .7 .7 .1 .7-1 .7 .4 .7-.2 .8 .2 .7-.3 .7-.1 .7-.2 .7 .3 .7 .1 .8 .4 .7-.2 .7-.3 .7-.1 .7-.3 .8 .7 .7-.2 .7 .2 .7 0 .7-1.1 .8-1.3 .7-1.1 .7-.3 .7 .1 .7 .4 .7 .6 .8-.9 .7 .2 .7 1 .7-1 .7-.2 .8 .1 .7-.1 .7-.6 .7 1 .7-.9 .8 .4 .7 0 .7 .3 .7-.2 .7-.1 .7-.1 .8 .3 .7-.2 .7-.1 .7-.2 .7 .1 .8 .4 .7-.6 .7 .6 .7 0 .7 .3 .7-.6 .8-.1 .7 .3 .7-.1 .7-.8 .7 1.3 .8-.3 .7-.1 .7-.3 .7 .4 .7-.2 .8 .6 .7-.3 .7 .3 .7-1 .7 .2 .7 .1 .8-.1 .7 .8 .7-.4 .7-.5 .7 .3 .8 .7 .7-.8 .7 .4 .7-.9 .7 .4 .8 .2 .7-.1 .7 .1 .7 .1 .7 .3 .7-1 .8 .6 .7 .3 .7-.2 .7 .3 .7-.4 .8-.2 .7-.1 .7 .6 .7-.8 .7 .3 .8 .2 .7 .2 .7-.3 .7-.3 .7 .6 .7-.6 .8 .1 .7-.4 .7 .7 .7 0 .7-.7 .8 .6 .7 .2 .7-.4 .7-.3 .7 .5 .7 .2 .8-.8 .7 .9 .7-.3 .7 .3 .7-.7 .8 .7 .7-.2 .7 .2 .7-.3 .7 .3 .8-.4 .7-.1 .7-.2 .7-.2 .7 .6 .7-.1 .8 0 .7 0 .7 .2 .7-.1 .7-.2 .8 .4 .7 .5 .7-1 .7 .1 .7 .3 .8-.4 .7 .6 .7-.6 .7-.2 .7 .1 .7 .7 .8-1.1 .7 .8 .7-.8 .7 1 .7-.1 .8 .1 .7 .5 .7-.8 .7 .4 .7-.2 .8 .2 .7-.6 .7 .6 .7-.5 .7 .7 .7-.2 .8-.3 .7 .2 .7-.1 .7-.1 .7 .9 .8-1.2 .7-.2 .7 0 .7 .4 .7 0 .7 .3 .8 .1 .7-.3 .7 0 .7-.4 .7 .7 .8 .1 .7-.5 .7 .3 .7-.5 .7 .2 .8 .1 .7 .2 .7-.8 .7 .5 .7 .3 .7-.2 .8 .1 .7-1.1 .7 .6 .7 .1 .7-.1 .8-.5 .7 1.1 .7-.2 .7-.8 .7 .5 .8 .2 .7 .3 .7-.1 .7-.6 .7 .1 .7 .3 .8 .3 .7-.5 .7-.1 .7 .4 .7-.1 .8 .4 .7-.3 .7 .2 .7-1.1 .7 .2 .7 0 .8 .3 .7 .3 .7-.2 .7 .3 .7-.5 .8 .6 .7 0 .7-.9 .7 .2 .7 .1 .8 .5 .7 0 .7 .4 .7-1.2 .7 .6 .7-.1 .8-.1 .7 .1 .7-.7 .7 .8 .7-.2 .8-.3 .7 .9 .7-.7 .7 .3 .7-.3 .8-.4 .7 .4 .7 .3 .7-.5 .7 .5 .7 .5 .8-.2 .7-.6 .7-.2 .7 .6 .7-.8 .8 .1 .7 1 .7-.5 .7 .1 .7-.3 .8 1.1 .7 .1 .7-1.2 .7 .3 .7-.4 .7 .3 .8 .3 .7 0 .7-.6 .7 .3 .7 .8 .8-.7 .7 .2 .7-.3 .7-.3 .7-.3 .7 0 .8-.3 .7 .2 .7 .1 .7 .6 .7-.9 .8 .7 .7-.8 .7 1.6 .7-1.1 .7 .2 .8 .6 .7-.7 .7 .1 .7 0 .7 .1 .7-.4 .8 .8 .7-.2 .7-.4 .7 .4 .7-.5 .8-.1 .7 .1 .7 .2 .7-.7 .7 .4 .8 .3 .7-.6 .7 .5 .7-.5 .7 .4 .7-.1 .8 .2 .7-.4 .7-.5 .7-.2 .7 2.2 .8-1.8 .7 .2 .7-.3 .7 1.1 .7-.3 .8 0 .7-.7 .7 .8 .7-.7 .7 .7 .7-.4 .8-.8 .7 .7 .7-.3 .7 1.2 .7-1.3 .8 .3 .7 0 .7-.2 .7 0 .7 .3 .7 .1 .8-.3 .7 .1 .7 0 .7-.3 .7 .2 .8 .1 .7 .4 .7-.2 .7 0 .7 .1 .8-.6 .7 .7 .7-.6 .7 .1 .7-.1 .7 .4 .8-.5 .7 .4 .7-.3 .7-.1 .7 .3 .8-.4 .7 .7 .7-.7 .7 .1 .7 .6 .8-1 .7 .8 .7-.3 .7 0 .7 0 .7-.4 .8 .9 .7-.4 .7 .1 .7 0 .7 .1 .8-.3 .7-.4 .7-.2 .7 0 .7 .3 .8 .5 .7-.8 .7 .3 .7 .3 .7-.3 .7 0 .8-.3 .7 .4 .7-.2 .7-.1 .7 .1 .8 .3 .7 .2 .7-.8 .7 .6 .7-.6 .7-.3 .8 .4 .7 .3 .7-.1 .7 .2 .7-.9 .8 1.2 .7-.2 .7 0 .7-.9 .7 .8 .8-.4 .7 0 .7 .2 .7-.6 .7 .9 .7 0 .8-.1 .7 .2 .7-1.1 .7 .5 .7 0 .8-.3 .7 .7 .7 .6 .7-1.3 .7 .6 .8-.2 .7 0 .7 0 .7 .2 .7-.5 .7 .1 .8 .7 .7-.6 .7 0 .7-.7 .7 .7 .8 0 .7-.2 .7 .4 .7-1.4 .7 1 .8-1 .7 .1 .7-.4 .7 1 .7-.4 .7-.2 .8 .1 .7-.9 .7 .5 .7 .2 .7-.3 .8 .1 .7-.6 .7 .5 .7-.2 .7 .1 .7 .4 .8-.6 .7-.3 .7 .3 .7-.6 .7 .9 .8-.7 .7-.1 .7 .1 .7-.7 .7 .4 .8-.1 .7 .7 .7-.4 .7-.1 .7-.9 .7-.2 .8 .1 .7-.8 .7-.3 .7 .6 .7-.6 .8-.2 .7-1 .7 .2 .7-.3 .7-.3 .8 .2 .7-.7 .7-.3 .7 .8 .7-.7 .7-.7 .8 1 .7-.7 .7-.2 .7-1.2 .7 1.4 .8-.6 .7 .2 .7 .1 .7-1.2 .7 1 .8-.5 .7-.4 .7-1 .7 1.4 .7-.7 .7-.1 .8-.7 .7 .5 .7-.2 .7 .2 .7-1 .8-.5 .7 .4 .7-.3 .7 .3 .7-.3 .7 0 .8 .3 .7 0 .7-.7 .7-.7 .7 .4 .8-.2 .7-.1 .7-.2 .7-.1 .7-.9 .8 .9 .7-.2 .7-.2 .7-.3 .7 .3 .7-1.1 .8 .4 .7 .1 .7-.4 .7 0 .7 .2 .8-.5 .7-.4 .7 0 .7 .1 .7-.6 .8 .3 .7-.5 .7-.2 .7 0 .7-.3 .7-.6 .8-.2 .7-.1 .7-.9 .7 .1 .7-.8 .8 .5 .7-.7 .7-.8 .7 0 .7 .1 .8-.4 .7-1 .7 .9 .7-.9 .7-.2 .7-.6 .8-.4 .7-.6 .7 .3 .7-.4 .7-.4 .8 .1 .7-.5 .7-.7 .7-.1 .7 .2 .7-1.2 .8 .9 .7-1.3 .7 .9 .7-1.1 .7-1.1 .8 .3 .7-.5 .7-.5 .7-.2 .7-.4 .8-1.5 .7 1 .7-.7 .7-.2 .7-.2 .7-.6 .8-.8 .7 .4 .7-.8 .7-.1 .7-.7 .8-.2 .7-.7 .7 .6 .7-1.3 .7 .3 .8-1.3 .7 .4 .7-.6 .7 .1 .7-.6 .7 .3 .8-.1 .7-1.6 .7 .1 .7-1 .7-.3 .8-.1 .7 0 .7-.5 .7-.8 .7 .1 .8-1.3 .7-.5 .7-.2 .7-1.2 .7 .5 .7-1 .8-.7 .7-.3 .7-1.1 .7-.2 .7-1.1 .8 0 .7-.5 .7 0 .7-1.1 .7-.1 .7-1.1 .8-1.1 .7 .3 .7-.8 .7-.8 .7 0 .8-1.3 .7-.3 .7-.2 .7-.5 .7-1.1 .8-.2 .7-.6 .7-.4 .7-.9 .7-1.2 .7 .1 .8 .1 .7-1.4 .7-.3 .7-.2 .7-1 .8-.8 .7-.2 .7-.6 .7-.5 .7 0 .8-.6 .7-.3 .7-.1 .7 .1 .7-.2 .7-.5 .8 .4 .7-.4 .7-.4 .7 .1 .7-.1 .8-.5 .7-1.1 .7 0 .7-.4 .7-.8 .7-.7 .8-.4 .7-.5 .7-1.3 .7 .7 .7-1.1 .8 .2 .7-1.2 .7-.9 .7 .1 .7-.8 .8-.2 .7-1 .7-.5 .7-.6 .7-.6 .7-.1 .8-1.1 .7 0 .7-.2 .7-1.3 .7-.3 .8-.7 .7-.4 .7-.3 .7-.3 .7-.5 .8-1 .7-.1 .7-1 .7-.7 .7-.4 .7-.9 .8 .2 .7-1.2 .7 .2 .7 .3 .7-1.8 .8-.9 .7 .3 .7-1 .7-.2 .7-.5 .8-.4 .7 .2 .7-1.3 .7-.4 .7-.7 .7-.7 .8-.5 .7-.6 .7 .2 .7-.9 .7-.2 .8-.6 .7 .1 .7-1.3 .7-.2 .7-1 .7 .2 .8-1 .7-.4 .7-1 .7 .1 .7-.1 .8-.6 .7-1.3 .7 .1 .7-1 .7-.8 .8-.4 .7 .4 .7-1.1 .7-.8 .7 0 .7-.5 .8-.7 .7-.2 .7-.8 .7 0 .7-.6 .8-.8 .7-.4 .7-.3 .7-.9 .7-.2 .8-.8 .7-.5 .7-1.1 .7-.3 .7-.4 .7-.2 .8 .4 .7-1.8 .7-.4 .7-.9 .7-.2 .8-.5 .7-.2 .7-1.3 .7 .1 .7-.7 .8-.7 .7-.9 .7-.5 .7-.3 .7-.3 .7-.8 .8-.8 .7-.2 .7-1 .7 .1 .7 .2 .8-1.8 .7 0 .7-1.3 .7-.2 .7-.4 .7-.3 .8-1 .7-.1 .7-1.4 .7-.2 .7-.5 .8-.5 .7-.7 .7 .2 .7-1.4 .7-.1 .8-.7 .7 0 .7-1.4 .7-.2 .7-.6 .7-1.9 .8 .7 .7-.3 .7-.4 .7-1.5 .7-.3 .8 0 .7-1.4 .7-.4 .7 .1 .7-.7 .8-.3 .7-.6 .7-.9 .7-1 .7-.3 .7-.4 .8-.4 .7-.6 .7-.3 .7-1.1 .7-.4 .8-.8 .7 .6 .7-1.3 .7-.1 .7-.5 .8-.8 .7-.7 .7-.7 .7-.4 .7-1.1 .7-.1 .8-.1 .7-.7 .7-.3 .7-.6 .7-.5 .8-.8 .7-.5 .7-.3 .7-1 .7-.8 .7 .2 .8-.8 .7-.2 .7-1.1 .7-.9 .7 0 .8-.7 .7-.7 .7 .4 .7-.9 .7-1 .8-.7 .7 0 .7-.2 .7-.6 .7-.2 .7-.8 .8-.5 .7-1.2 .7 .7 .7-1 .7 .1 .8-1.3 .7-.2 .7 .3 .7-1.3 .7 .1 .8-.6 .7 .3 .7-.7 .7 0 .7-.7 .7-.9 .8 1 .7-1.1 .7-.1 .7-.3 .7-.8 .8 .5 .7-.7 .7-.7 .7-.2 .7-.6 .8 .3 .7-.1 .7-.5 .7 0 .7-.4 .7 .1 .8-.5 .7-.3 .7-.5 .7-.4 .7-.2 .8 .2 .7-.6 .7 .4 .7-.4 .7-1 .7 .5 .8 .1 .7-.8 .7 .4 .7-.8 .7 .6 .8-.6 .7-.4 .7-.7 .7 .4 .7-.4 .8 .2 .7-.7 .7 .3 .7-.5 .7 .2 .7-.1 .8-.4 .7-.1 .7 .1 .7-.9 .7 .3 .8-.3 .7 .3 .7-.8 .7 .2 .7-1.1 .8 .9 .7-.5 .7-.2 .7 0 .7-.9 .7 .2 .8-.1 .7-.3 .7-.3 .7 .4 .7-.5 .8-.3 .7-.1 .7 .3 .7 0 .7-.5 .8-.4 .7-.8 .7 .1 .7-.3 .7-.2 .7 .6 .8-.8 .7 .5 .7-.6 .7-.3 .7-.2 .8-.6 .7 .2 .7 .3 .7-.3 .7-.3 .7 0 .8-.4 .7-.1 .7 .5 .7-.9 .7-.9 .8-.3 .7 .3 .7 .2 .7 .1 .7-.6 .8-.1 .7 0 .7-.7 .7 .1 .7-.1 .7-.3 .8-.3 .7 .4 .7 .1 .7-.5 .7-1 .8 .4 .7 0 .7 .2 .7-.4 .7-.1 .8 .4 .7-.1 .7-.5 .7-.5 .7-.2 .7 .5 .8-.6 .7 .2 .7-.2 .7 0 .7-.1 .8-.6 .7 0 .7 .2 .7-.2 .7-.6 .8 1.1 .7-1.3 .7 .7 .7-1 .7 .8 .7-1.1 .8 .8 .7-.4 .7 .1 .7-.6 .7 .2 .8-.1 .7-.1 .7-.3 .7 .6 .7-1.2 .7 0 .8 0 .7 .9 .7-.9 .7 0 .7 0 .8 0 .7 0 .7-.1 .7-.5 .7 .6 .8-.2 .7 .5 .7-.5 .7-.2 .7-.5 .7 .4 .8 .1 .7 .4 .7-.6 .7 .1 .7-.1 .8 .3 .7-.3 .7-.4 .7-.6 .7 1 .8-.6 .7-.4 .7-.3 .7-.1 .7 .6 .7-.2 .8 .1 .7 .3 .7-.8 .7 .3 .7-.4 .8-.1 .7-.6 .7 .5 .7 .5 .7-.6 .7 .2 .8-.1 .7 .6 .7-.2 .7-.9 .7 .1 .8 .4 .7-.3 .7-.2 .7 .4 .7-.3 .8-.2 .7 1 .7-1 .7-.7 .7 .6 .7-.1 .8 .5 .7-.5 .7-.4 .7 .3 .7-.6 .8 .2 .7 .3 .7-.5 .7-.5 .7 .3 .8 .1 .7 .4 .7-.4 .7 .1 .7-.4 .7 .3 .8-.2 .7 .3 .7-.1 .7 .4 .7-.4 .8-.4 .7-.2 .7 .3 .7 .2 .7 .2 .8-.8 .7-.3 .7-.2 .7 .2 .7 .3 .7-.1 .8 0 .7 0 .7 .1 .7-.8 .7 .6 .8-.1 .7-.1 .7-.1 .7-.6 .7 .8 .7-.4 .8 .1 .7 .1 .7-.1 .7 .1 .7-.1 .8-.5 .7-.1 .7 .7 .7-.6 .7 .9 .8-1.2 .7 .4 .7-.1 .7 .1 .7-.5 .7 .4 .8 .6 .7-1 .7-.6 .7 1 .7-.2 .8 .1 .7-.6 .7 .4 .7 .1 .7-.5 .8 .2 .7 .1 .7 0 .7-.4 .7 .1 .7 .6 .8 0 .7-1.1 .7 1.1 .7-1 .7 .5 .8-.9 .7 .3 .7-.2 .7 .5 .7-.2 .8 0 .7-.1 .7-.1 .7 .2 .7-.3 .7-.1 .8-.3 .7-.1 .7 .1 .7 .3 .7 .2 .8-.5 .7 .7 .7-.3 .7-.4 .7 0 .7-.1 .8-.7 .7 .9 .7-.2 .7-.7 .7 .8 .8-.5 .7 .1 .7-.6 .7 .6 .7 .1 .8-.3 .7 .1 .7-.7 .7 .8 .7-.2 .7-.1 .8 .2 .7 .1 .7-.4 .7 .3 .7 .3 .8-1 .7 .3 .7-.6 .7 .7 .7 .3 .8-.6 .7-.4 .7 .2 .7 .3 .7-.7 .7 0 .8 .6 .7-.6 .7 .4 .7-.4 .7-.2 .8 .8 .7 .1 .7-.7 .7 1 .7-.8 .8 .1 .7-.1 .7-.5 .7 .7 .7-.3 .7 .1 .8-.2 .7-.2 .7 .9 .7-.7 .7-.3 .8 .3 .7-.7 .7 .5 .7 .8 .7-1.2 .7 .4 .8-.6 .7 .4 .7 .3 .7-.8 .7 0 .8 .7 .7-.3 .7 .1 .7-.1 .7-.7 .8-.2 .7-.1 .7 .9 .7-.8 .7-.1 .7 .4 .8 .1 .7 .1 .7-.8 .7 1.1 .7-.8 .8 .3 .7-.1 .7-.3 .7 .4 .7 0 .8 .2 .7 .3 .7 0 .7-.5 .7-.1 .7-.4 .8-.4 .7 .6 .7-.4 .7 .1 .7-.1 .8 .3 .7-.3 .7 .9 .7-.5 .7-.6 .8 .3 .7 .3 .7-.9 .7 .5 .7-.3 .7 .1 .8-.2 .7 .2 .7 .1 .7 0 .7-.8 .8 .8 .7-.3 .7-.3 .7 .2 .7 .6 .7-.7 .8-.3 .7 .6 .7-.4 .7 .3 .7-.2 .8 .4 .7-.7 .7 0 .7 .5 .7 .2 .8-.5 .7 .3 .7-.3 .7-.2 .7-.6 .7 1.3 .8-.4 .7-1.2 .7 1 .7-.5 .7-.2 .8 .2 .7 .4 .7-.3 .7-.1 .7 0 .8-.1 .7 .3 .7-.9 .7 .2 .7 .4 .7-.4 .8 .4 .7-.2 .7 .3 .7-.3 .7 .3 .8-.3 .7 .3 .7-.4 .7-.6 .7 .6 .8 0 .7-.2 .7 .5 .7-.2 .7 .4 .7-.7 .8-.1 .7 .3 .7 .3 .7-.8 .7 .4 .8-.2 .7-.1 .7 .4 .7 0 .7-.1 .7-.5 .8 .2 .7-.6 .7 .7 .7-.7 .7 .4 .8 .3 .7-.4 .7 .1 .7-.3 .7 1.2 .8-1.4 .7 .2 .7 .1 .7 1 .7-1.2 .7 .2 .8 .2 .7-1 .7 1 .7-.2 .7 .4 .8 0 .7-.4 .7 .2 .7-.7 .7-.2 .8 .3 .7 .1 .7-.2 .7 .3 .7 0 .7 .4 .8-.7 .7-.1 .7 .3 .7-.2 .7 .1 .8 .4 .7-.9 .7 .5 .7 .2 .7 0 .8-1 .7 .3 .7 .6 .7-.5 .7 .1 .7-.2 .8 .5 .7-.4 .7-.2 .7 .1 .7 .4 .8-.4 .7-.7 .7-.2 .7 .9 .7-.8 .7 .6 .8-.4 .7 .3 .7-.3 .7-.6" fill="none" stroke="#1f77b4" stroke-width="2.90" stroke-linejoin="round" stroke-linecap="round"/>
<path d="M116.2 563.9l.7-.4 .7 0 .8 .5 .7-.3 .7 .1 .7-.3 .7 .1 .7 0 .8-.3 .7 .5 .7-.2 .7-.2 .7 0 .8 .4 .7-.3 .7 .1 .7 0 .7-.1 .8-1 .7 1.1 .7 .2 .7-.5 .7 0 .7 .5 .8-.7 .7 .8 .7-.2 .7 .2 .7-.4 .8 0 .7 .1 .7-.5 .7 .2 .7 .5 .8-.5 .7-.1 .7 .4 .7 .3 .7-.4 .7-.1 .8 .1 .7 .1 .7-.6 .7 .6 .7 0 .8 .2 .7 0 .7-.1 .7 .4 .7-.6 .8 0 .7 .5 .7-.4 .7-.3 .7 .1 .7 .1 .8-.4 .7 .7 .7-.2 .7 .3 .7-.7 .8 .2 .7-.1 .7 .4 .7-.1 .7 .1 .7 0 .8-.5 .7 .4 .7-.1 .7 0 .7 .2 .8-.7 .7 .3 .7 .1 .7-.1 .7-.1 .8 .6 .7 0 .7 .2 .7-.8 .7-.4 .7 .9 .8-.3 .7-.2 .7 .5 .7-.2 .7-.5 .8 .5 .7-.5 .7 .7 .7-.6 .7-.1 .8 .7 .7 .1 .7-.4 .7-.3 .7 .6 .7-.2 .8 .1 .7-.2 .7-.4 .7 .3 .7 .6 .8-.6 .7 .1 .7 .1 .7 .3 .7-.2 .8-.2 .7 .6 .7-.5 .7 .1 .7-.3 .7-.3 .8 .6 .7-.2 .7 .2 .7-.8 .7 1.2 .8-.5 .7 .2 .7-.5 .7 .3 .7 0 .7 .3 .8-.1 .7-.8 .7 .7 .7-.1 .7-.1 .8 .2 .7 .1 .7 .1 .7-.7 .7 .1 .8 .3 .7 .2 .7-.5 .7 .3 .7-.4 .7 .4 .8-.1 .7 .2 .7 .3 .7-.6 .7 .3 .8-.6 .7 .6 .7 .4 .7-1 .7 .3 .8-.8 .7 1.1 .7 .5 .7-.9 .7 .4 .7 .3 .8-.6 .7 .3 .7-.3 .7 .1 .7 .1 .8 .3 .7-.2 .7-.1 .7-.1 .7 .4 .8-.2 .7 0 .7-.7 .7 .5 .7-.2 .7 .8 .8-.3 .7 .2 .7-.6 .7-.3 .7 .3 .8 .4 .7-.4 .7 .4 .7 .2 .7-.5 .7 .4 .8-1 .7 .3 .7 .2 .7 .1 .7-.3 .8 .3 .7 .4 .7 0 .7-.2 .7-.4 .8 .7 .7-.2 .7-.5 .7 .6 .7-.4 .7 .3 .8-.1 .7 .1 .7 .3 .7 .3 .7-.7 .8 0 .7-.1 .7 .2 .7 0 .7-.6 .8 .5 .7 .6 .7-.4 .7 .1 .7-.4 .7 .7 .8-.5 .7-.3 .7-.1 .7 .4 .7 .4 .8-.8 .7-.1 .7-.4 .7 .9 .7-.5 .7 .1 .8-.1 .7 .1 .7 .5 .7-.5 .7 .3 .8-.3 .7 .1 .7 .3 .7 0 .7-.5 .8 .3 .7-.3 .7 .5 .7-.4 .7-.1 .7 .6 .8-.5 .7 .2 .7 .2 .7-.4 .7 .1 .8 .3 .7 .5 .7-.5 .7 0 .7-.2 .8 0 .7 .5 .7-.7 .7 0 .7 .7 .7-.7 .8-.2 .7 .6 .7 .1 .7 .2 .7 .2 .8-1.4 .7 .6 .7 0 .7 .2 .7-.3 .8 .2 .7 .1 .7 0 .7-.3 .7 .3 .7-.4 .8 .1 .7 .1 .7 .3 .7-.8 .7 .6 .8 .4 .7-.3 .7-.3 .7 .3 .7 .4 .7-.5 .8-.2 .7 .4 .7-.3 .7-.1 .7 .5 .8-.5 .7 .1 .7 .5 .7-.3 .7 .3 .8-.9 .7 0 .7 .3 .7 .2 .7-.6 .7 .7 .8-.3 .7 0 .7 .2 .7-.1 .7-.3 .8 .3 .7-.3 .7 .8 .7-.5 .7 0 .8-.1 .7 .2 .7 .1 .7-.1 .7-.3 .7 .6 .8-.3 .7-.6 .7-.1 .7 .4 .7-.1 .8-.1 .7 .2 .7 .4 .7 .3 .7-.3 .8 0 .7 .2 .7 .4 .7-.4 .7-.1 .7-.2 .8-.3 .7 .4 .7 .3 .7-.3 .7-.3 .8 .4 .7-.2 .7-.2 .7-.4 .7 .8 .7-.4 .8 .5 .7-.5 .7 .2 .7-.2 .7 .7 .8-.1 .7-.4 .7 .4 .7-.8 .7 .6 .8-.4 .7 .2 .7-.1 .7 .3 .7-.7 .7 .4 .8 .5 .7-1.1 .7 .6 .7-.3 .7-.4 .8 .9 .7-.2 .7 .5 .7-1 .7 .7 .8 .4 .7-1.1 .7 .8 .7 0 .7-.1 .7 .3 .8-.2 .7-.4 .7 0 .7 .2 .7 .5 .8-.5 .7 .3 .7-.3 .7 .2 .7 0 .8 .2 .7 .2 .7-.7 .7-.2 .7 .3 .7 0 .8 .1 .7 .2 .7-.4 .7 .1 .7 0 .8 .4 .7-.5 .7 .5 .7 .2 .7-.6 .7 .5 .8-.3 .7-.2 .7 .6 .7-.2 .7-.5 .8 .3 .7-.4 .7-.2 .7 .8 .7-.4 .8 .5 .7-.4 .7 0 .7-.1 .7 .1 .7-.3 .8 .2 .7-.5 .7 0 .7 .1 .7 .2 .8 .2 .7 0 .7 .4 .7 .4 .7-1.5 .8 1.2 .7-.2 .7-.5 .7 .3 .7-.7 .7 .6 .8 .5 .7-.8 .7 .1 .7 .3 .7 .1 .8-.2 .7-.1 .7 .3 .7-.4 .7 .9 .8-.3 .7-.3 .7-.3 .7 0 .7 0 .7 .1 .8 .2 .7-.5 .7 .5 .7-.1 .7-.3 .8 .7 .7-.2 .7-.1 .7-.3 .7 0 .7 .2 .8-.4 .7 .5 .7-.4 .7 .3 .7 .2 .8-.3 .7-.1 .7 0 .7 .2 .7-.3 .8 .3 .7 .3 .7-.9 .7 .4 .7 .3 .7-.4 .8 0 .7-.1 .7 .7 .7-1 .7 .7 .8-.1 .7 .1 .7-.2 .7 .2 .7-.2 .8-.1 .7 1.1 .7-.5 .7-.6 .7 .1 .7 .3 .8 .3 .7-.5 .7 .3 .7-.2 .7 .3 .8-.5 .7 0 .7 .3 .7 0 .7-.1 .8 .4 .7-.2 .7-.2 .7-.4 .7 .6 .7 0 .8-.4 .7 .2 .7-.3 .7 .3 .7-.1 .8-.4 .7 .5 .7-.1 .7 0 .7 .4 .7-.2 .8 .2 .7-.4 .7 .5 .7-.6 .7 .4 .8-.7 .7 .6 .7-.4 .7-.1 .7 .6 .8-.1 .7 0 .7-.1 .7 .1 .7-.1 .7-.1 .8 .1 .7 .7 .7-1 .7-.2 .7 .2 .8 .1 .7 .4 .7 .1 .7 0 .7-.4 .8 .3 .7 .4 .7-.4 .7 .2 .7-.7 .7 .6 .8 0 .7-.7 .7 .4 .7 .2 .7-.5 .8 .6 .7 0 .7-.2 .7-.1 .7 0 .8 .1 .7 .3 .7-.8 .7 .5 .7 0 .7-.4 .8-.1 .7 .3 .7-.4 .7 .6 .7-.2 .8-.2 .7 .3 .7-.3 .7 .1 .7 .6 .7-.6 .8-.6 .7 .9 .7-.4 .7 0 .7 .8 .8 1 .7-4.1 .7-3.3 .7-2.2 .7-1.7 .8-.5 .7-1.1 .7-.9 .7 .3 .7-.4 .7 .2 .8 .2 .7 .4 .7-.6 .7 .5 .7-.9 .8 .4 .7 .1 .7-.8 .7 .4 .7 .1 .8 .3 .7-.3 .7 .1 .7-.1 .7 .3 .7-.1 .8 0 .7-.1 .7 .3 .7-.4 .7 .2 .8 0 .7 .1 .7 .2 .7-.2 .7-.5 .8 .7 .7 .1 .7 0 .7-16.4 .7-4 .7-5.1 .8-3.9 .7-2.7 .7-2.4 .7-1.1 .7-1.1 .8 0 .7-1.3 .7 .3 .7 .3 .7-.6 .7 .7 .8 .2 .7-.4 .7-.3 .7 0 .7-.2 .8 .5 .7-.5 .7 .4 .7-.4 .7 .5 .8-.6 .7 .4 .7-.2 .7 .5 .7-.4 .7 .1 .8 .4 .7-.7 .7 0 .7 .3 .7-.3 .8 .8 .7-.4 .7 0 .7-.2 .7-.8 .8 1.3 .7-.4 .7-.6 .7 .3 .7 .3 .7 .4 .8-.3 .7 0 .7 0 .7-.4 .7 .1 .8 .2 .7-.4 .7 .4 .7 .2 .7-.9 .7-5.5 .8-11.9 .7-2.4 .7-4.3 .7-5.6 .7-.2 .8-1.6 .7-1 .7-.9 .7 .2 .7-.1 .8 .2 .7-.5 .7 .1 .7 .2 .7 .2 .7-.6 .8 .3 .7-.1 .7 .3 .7 .2 .7-.7 .8 .1 .7 .2 .7-.2 .7 .7 .7 .1 .8-.3 .7 0 .7-.5 .7 0 .7 .4 .7 .4 .8-.6 .7 .2 .7 .4 .7 0 .7-.8 .8 .4 .7 .1 .7-.7 .7 .4 .7 .2 .8-.3 .7 .4 .7-.3 .7-.4 .7 .1 .7-6 .8-12 .7-2.2 .7-4.2 .7-5.1 .7-.5 .8-1.8 .7-.9 .7-.9 .7 .5 .7-.5 .7-.2 .8 .1 .7-.4 .7-.4 .7 .7 .7-.3 .8 .3 .7-.6 .7 .1 .7 .4 .7-.2 .8 .2 .7-.5 .7 .1 .7 .2 .7 0 .7-.3 .8 0 .7-.1 .7-.1 .7 0 .7 .1 .8-.5 .7 .3 .7-.3 .7 .2 .7-.1 .8 .1 .7-.2 .7 0 .7-.4 .7 .8 .7-.9 .8-.2 .7-3.3 .7-7.3 .7-5.4 .7-4.3 .8-3.5 .7-1.6 .7-2.2 .7 .4 .7-2.1 .8-.6 .7 .2 .7-.1 .7 .3 .7-.4 .7 .2 .8-.4 .7 .8 .7-.4 .7-.2 .7 .3 .8 .2 .7-.1 .7-.3 .7 .2 .7 .1 .7 0 .8-.2 .7 .3 .7-.6 .7 .4 .7-.3 .8 .3 .7-.2 .7 .4 .7-.3 .7 .4 .8-.6 .7 .6 .7-.6 .7-.5 .7 .5 .7 .5 .8-.2 .7 .1 .7-.2 .7 .2 .7-.4 .8 .8 .7 0 .7-.4 .7-.3 .7 0 .8 .4 .7-.1 .7-.4 .7 .5 .7 .1 .7-.1 .8-.1 .7 0 .7-.1 .7-.1 .7-.1 .8 .6 .7-.9 .7 .5 .7 .3 .7 .4 .8-.8 .7 .5 .7 0 .7-.1 .7 .3 .7-1.1 .8 .8 .7-.3 .7 .2 .7-.2 .7-.2 .8-.3 .7 .7 .7-.2 .7-.4 .7 .4 .7-.3 .8 .1 .7 .3 .7 .2 .7-.9 .7 .6 .8 .2 .7-.6 .7 .3 .7 .2 .7 .2 .8-.6 .7-.2 .7 .3 .7 .1 .7 .1 .7 0 .8-.6 .7 .8 .7-.7 .7 .6 .7 .1 .8-.1 .7 0 .7 0 .7-.3 .7 0 .8 .8 .7-.1 .7-.1 .7-.1 .7-.8 .7 1.1 .8-.7 .7 .1 .7 .2 .7-.4 .7 .6 .8-1.1 .7 1.1 .7-.2 .7-.5 .7 .6 .8 .1 .7-.2 .7 .1 .7-.4 .7 .4 .7 0 .8 .1 .7-.2 .7-.7 .7 .7 .7-.6 .8 .2 .7 .2 .7 0 .7-.1 .7 .2 .7 0 .8-.1 .7 0 .7 .1 .7 .1 .7-.5 .8-.2 .7 .8 .7-.3 .7-.7 .7 1 .8 0 .7-.9 .7 .2 .7 .2 .7-.2 .7 .2 .8 .1 .7 .4 .7-1.1 .7 .8 .7 .3 .8-1.1 .7 .9 .7-.2 .7-.1 .7 .4 .8 .2 .7-.1 .7 .3 .7-.8 .7-.5 .7 .5 .8 .2 .7 .3 .7-.2 .7-.3 .7 .6 .8-.3 .7 0 .7-.2 .7 .2 .7 .1 .8-.2 .7-.7 .7 .4 .7 .4 .7 .4 .7-.2 .8 0 .7 .2 .7-.3 .7 .2 .7-.1 .8-.2 .7-.4 .7-.2 .7 .6 .7-.5 .7 .4 .8 .2 .7-.4 .7 .5 .7-.3 .7-.3 .8 .5 .7 0 .7-.3 .7 .3 .7-.5 .8 .3 .7 .1 .7-.4 .7 .3 .7 .5 .7-.7 .8-.1 .7-.1 .7 .2 .7-.1 .7-.2 .8 .5 .7 .1 .7-.4 .7 .3 .7 .3 .8-.2 .7 0 .7 .1 .7-.4 .7 .5 .7 .3 .8-.8 .7-.4 .7 .4 .7-.1 .7 .4 .8 .3 .7-.2 .7 .4 .7-.4 .7-.2 .8-.6 .7 .7 .7-.3 .7 .1 .7 0 .7 .6 .8-.2 .7-.3 .7-.4 .7 .3 .7 0 .8 .4 .7-.1 .7 0 .7-.5 .7 .6 .7 .6 .8-1.3 .7 .1 .7 .3 .7 .3 .7-.2 .8 0 .7 .4 .7-.8 .7-.3 .7 .1 .8 .8 .7 0 .7-.4 .7-.3 .7 .1 .7 .4 .8 .2 .7-.5 .7-.1 .7 0 .7 .1 .8 .4 .7-.1 .7 0 .7-.1 .7 .1 .8-.5 .7 .1 .7 .4 .7 0 .7 .2 .7-.3 .8-.3 .7 .2 .7 0 .7 .3 .7-.3 .8 .3 .7 0 .7 0 .7 0 .7-.5 .7 .7 .8 .1 .7-.2 .7 .2 .7-.3 .7-.3 .8 .3 .7-.2 .7 0 .7 .5 .7-.7 .8 .6 .7-.5 .7-.4 .7 .8 .7-.2 .7 0 .8 0 .7 .3 .7-.2 .7-.2 .7 0 .8 .2 .7-.3 .7 .3 .7-.7 .7 .5 .8 .1 .7 .2 .7-.6 .7 .3 .7 .2 .7 .7 .8-.8 .7 .2 .7-.4 .7 .8 .7-.7 .8 0 .7 .1 .7-.4 .7 .1 .7 .2 .8-.2 .7 .6 .7-.5 .7 .8 .7-.6 .7-.3 .8 .3 .7 .2 .7-.2 .7 .1 .7-.2 .8-.2 .7 .2 .7 .6 .7-.7 .7 .1 .7-.4 .8 .2 .7 .3 .7-.2 .7 .5 .7-.1 .8-.4 .7 .1 .7 .2 .7-.1 .7-.2 .8-.4 .7 .9 .7-.4 .7 .1 .7-.3 .7 .7 .8-.5 .7 .1 .7-.7 .7 .5 .7 .1 .8 .1 .7 .1 .7-.2 .7 .3 .7-.3 .8 0 .7 0 .7-.5 .7-.1 .7 1.2 .7-1.1 .8 .3 .7 .4 .7-.4 .7 .5 .7-.9 .8 .6 .7 .2 .7 .5 .7-.3 .7-.6 .8 .5 .7-.2 .7-.5 .7 .3 .7 .4 .7-.4 .8-.2 .7 .1 .7-.2 .7-.1 .7 .6 .8 0 .7 .2 .7-.8 .7 .2 .7 .4 .7-.1 .8-.1 .7-.3 .7 .3 .7-.3 .7 .8 .8-.2 .7-.5 .7 .7 .7-.7 .7 .5 .8-.2 .7-.1 .7 .5 .7-.9 .7 .4 .7 0 .8-.4 .7 0 .7 .5 .7 .1 .7-.4 .8 .4 .7 0 .7 .1 .7-.3 .7 .1 .8 .2 .7-.4 .7-.1 .7-.1 .7 .5 .7 .3 .8-1 .7 .5 .7 .3 .7 .2 .7-.3 .8-.3 .7 .4 .7 .5 .7-.6 .7 .1 .8 .3 .7-.9 .7 .7 .7 .2 .7-.2 .7-.2 .8-.2 .7 0 .7-.2 .7 .2 .7-.2 .8 .3 .7 0 .7-.1 .7 0 .7 .2 .7-.4 .8 .5 .7-.1 .7 .1 .7-.3 .7 .1 .8 .1 .7 0 .7-.2 .7 0 .7 0 .8 0 .7-.1 .7 0 .7-.1 .7 .7 .7-.6 .8 .2 .7-.2 .7 .3 .7 .3 .7-.6 .8 .3 .7-.1 .7 .3 .7-.3 .7 0 .8 0 .7-.5 .7 .8 .7 .2 .7-.7 .7 .5 .8-.3 .7 .5 .7-.6 .7 .3 .7 .2 .8-.2 .7-.1 .7-.1 .7-.1 .7 .2 .8-.3 .7 .7 .7-.3 .7-.2 .7-.4 .7 .8 .8 0 .7-.2 .7 .1 .7 0 .7-.2 .8-.1 .7 .1 .7 .3 .7-.5 .7-.3 .7 .5 .8 0 .7-.1 .7 .1 .7-.4 .7 .1 .8 .2 .7 0 .7 .2 .7 .1 .7-.2 .8-.1 .7-.2 .7 .1 .7-.3 .7 .3 .7 .3 .8 0 .7-.4 .7 .6 .7-1 .7 .8 .8-.1 .7-.1 .7 .2 .7-.3 .7 .8 .8-.8 .7 .1 .7 .1 .7-.6 .7 .5 .7-.4 .8 .8 .7-.5 .7 .1 .7-.5 .7 1.1 .8-1 .7 0 .7 .2 .7-.4 .7 .3 .8 .2 .7 .4 .7 0 .7-.6 .7 .2 .7 .3 .8 .2 .7-.6 .7 .2 .7 0 .7 .1 .8-.1 .7 .5 .7-.5 .7 .4 .7-.2 .7 .8 .8-.5 .7-1 .7 .7 .7-.7 .7 .9 .8-.4 .7-.6 .7 .3 .7 .2 .7 .5 .8-.3 .7 .1 .7-.4 .7 .1 .7-.3 .7 .3 .8 0 .7 .1 .7-.2 .7 .1 .7 0 .8 .2 .7-.3 .7 0 .7-.1 .7 .1 .8 .1 .7-.2 .7 .6 .7 0 .7-.2 .7 .1 .8-.6 .7 .2 .7 .1 .7 .2 .7 .1 .8 0 .7-.6 .7 .4 .7 .3 .7-.4 .8 .2 .7-.6 .7 .5 .7-.1 .7-.5 .7 .8 .8 .2 .7-.2 .7-.3 .7 .1 .7-.2 .8 .4 .7-.1 .7 .3 .7-.4 .7 .3 .7-.4 .8-.1 .7 .2 .7-.3 .7 0" fill="none" stroke="#ff7f0e" stroke-width="2.90" stroke-linejoin="round" stroke-linecap="round"/>
<line x1="536.50" y1="576.50" x2="536.50" y2="331.50" stroke="#ff0000" stroke-width="3.00" stroke-dasharray="7.71 3.33"/>
<line x1="565.00" y1="576.50" x2="565.00" y2="331.50" stroke="#ff0000" stroke-width="2.08" stroke-dasharray="7.71 3.33"/>
<line x1="606.50" y1="576.50" x2="606.50" y2="331.50" stroke="#ff0000" stroke-width="3.00" stroke-dasharray="7.71 3.33"/>
<line x1="640.50" y1="576.50" x2="640.50" y2="331.50" stroke="#ff0000" stroke-width="3.00" stroke-dasharray="7.71 3.33"/>
<line x1="673.00" y1="576.50" x2="673.00" y2="331.50" stroke="#ff0000" stroke-width="2.08" stroke-dasharray="7.71 3.33"/>
</g>
<rect x="64.50" y="331.50" width="1138.00" height="245.00" fill="none" stroke="#000" stroke-width="1.111" stroke-linejoin="miter"/>
<text x="116.20" y="597.00" text-anchor="middle" font-size="13.89" textLength="8.75" lengthAdjust="spacingAndGlyphs" fill="#000">0</text>
<text x="259.93" y="597.00" text-anchor="middle" font-size="13.89" textLength="26.25" lengthAdjust="spacingAndGlyphs" fill="#000">200</text>
<text x="403.66" y="597.00" text-anchor="middle" font-size="13.89" textLength="26.25" lengthAdjust="spacingAndGlyphs" fill="#000">400</text>
<text x="547.38" y="597.00" text-anchor="middle" font-size="13.89" textLength="26.38" lengthAdjust="spacingAndGlyphs" fill="#000">600</text>
<text x="691.11" y="597.00" text-anchor="middle" font-size="13.89" textLength="26.38" lengthAdjust="spacingAndGlyphs" fill="#000">800</text>
<text x="834.84" y="597.00" text-anchor="middle" font-size="13.89" textLength="35.12" lengthAdjust="spacingAndGlyphs" fill="#000">1000</text>
<text x="978.57" y="597.00" text-anchor="middle" font-size="13.89" textLength="35.12" lengthAdjust="spacingAndGlyphs" fill="#000">1200</text>
<text x="1122.30" y="597.00" text-anchor="middle" font-size="13.89" textLength="35.12" lengthAdjust="spacingAndGlyphs" fill="#000">1400</text>
<text x="53.80" y="568.70" text-anchor="end" font-size="13.89" textLength="8.75" lengthAdjust="spacingAndGlyphs" fill="#000">0</text>
<text x="53.80" y="536.27" text-anchor="end" font-size="13.89" textLength="17.50" lengthAdjust="spacingAndGlyphs" fill="#000">50</text>
<text x="53.80" y="503.84" text-anchor="end" font-size="13.89" textLength="26.38" lengthAdjust="spacingAndGlyphs" fill="#000">100</text>
<text x="53.80" y="471.41" text-anchor="end" font-size="13.89" textLength="26.38" lengthAdjust="spacingAndGlyphs" fill="#000">150</text>
<text x="53.80" y="438.99" text-anchor="end" font-size="13.89" textLength="26.25" lengthAdjust="spacingAndGlyphs" fill="#000">200</text>
<text x="53.80" y="406.56" text-anchor="end" font-size="13.89" textLength="26.25" lengthAdjust="spacingAndGlyphs" fill="#000">250</text>
<text x="53.80" y="374.13" text-anchor="end" font-size="13.89" textLength="26.25" lengthAdjust="spacingAndGlyphs" fill="#000">300</text>
<text x="53.80" y="341.70" text-anchor="end" font-size="13.89" textLength="26.25" lengthAdjust="spacingAndGlyphs" fill="#000">350</text>
<path d="M116.50 576.50v4.86M259.50 576.50v4.86M403.50 576.50v4.86M547.50 576.50v4.86M691.50 576.50v4.86M834.50 576.50v4.86M978.50 576.50v4.86M1122.50 576.50v4.86M64.50 563.50h-4.86M64.50 531.50h-4.86M64.50 498.50h-4.86M64.50 466.50h-4.86M64.50 433.50h-4.86M64.50 401.50h-4.86M64.50 368.50h-4.86M64.50 336.50h-4.86" stroke="#000" stroke-width="1.111" fill="none"/>
<text x="633.50" y="616.00" text-anchor="middle" font-size="13.89" textLength="48.88" lengthAdjust="spacingAndGlyphs" fill="#000">minute</text>
<rect x="71.30" y="338.70" width="189.10" height="45.70" rx="2.8" ry="2.8" fill="#fff" fill-opacity="0.8" stroke="#cccccc" stroke-opacity="0.8" stroke-width="1.39"/>
<line x1="75.80" y1="349.95" x2="103.90" y2="349.95" stroke="#1f77b4" stroke-width="2.083" stroke-dasharray="7.71 3.33"/>
<circle cx="90.30" cy="350.95" r="1.15" fill="#1f77b4"/>
<text x="119.60" y="355.10" text-anchor="start" font-size="13.89" textLength="112.12" lengthAdjust="spacingAndGlyphs" fill="#000">Ws_E14_cum_et</text>
<line x1="75.80" y1="371.05" x2="103.90" y2="371.05" stroke="#ff7f0e" stroke-width="2.083" stroke-dasharray="7.71 3.33"/>
<circle cx="90.30" cy="372.05" r="1.15" fill="#ff7f0e"/>
<text x="119.60" y="376.20" text-anchor="start" font-size="13.89" textLength="134.00" lengthAdjust="spacingAndGlyphs" fill="#000">Ws_E14_cum_drain</text>
</g>
<g>
<defs><clipPath id="c2"><rect x="64.50" y="627.50" width="1138.00" height="245.00"/></clipPath></defs>
<path d="M116.50 627.50V872.50M259.50 627.50V872.50M403.50 627.50V872.50M547.50 627.50V872.50M691.50 627.50V872.50M834.50 627.50V872.50M978.50 627.50V872.50M1122.50 627.50V872.50M64.50 842.50H1202.50M64.50 794.50H1202.50M64.50 746.50H1202.50M64.50 697.50H1202.50M64.50 649.50H1202.50" stroke="#b0b0b0" stroke-width="1.111" fill="none"/>
<g clip-path="url(#c2)">
<path d="M116.2 737.6l.7 .2 .7-.2 .8 .4 .7 .3 .7-.4 .7-.1 .7-.2 .7 .2 .8-.2 .7 .7 .7-.9 .7 .2 .7 .4 .8 0 .7 0 .7-.3 .7 .3 .7-.7 .8-.1 .7 .1 .7 .8 .7 .4 .7-.8 .7 0 .8 .1 .7 1 .7-.7 .7-.1 .7-.3 .8 .5 .7 .4 .7-.5 .7-.4 .7 .9 .8-.6 .7 .8 .7-1.2 .7 .4 .7 .2 .7-.9 .8 .8 .7 .3 .7-.4 .7 .3 .7-.1 .8-.5 .7 .7 .7-.6 .7 .2 .7-.2 .8 .6 .7-.5 .7 0 .7-.7 .7 .8 .7 .6 .8-1.3 .7 1.1 .7-.2 .7-.8 .7 .6 .8 .6 .7-.4 .7 .2 .7 .3 .7-.6 .7 .5 .8-.9 .7 .2 .7 1 .7 0 .7-.2 .8-1.1 .7 .6 .7-.3 .7 1.3 .7-1.5 .8 .1 .7 .3 .7 .4 .7-.4 .7 .1 .7 .3 .8-.1 .7-.8 .7 .2 .7 1.3 .7-.7 .8 .8 .7-.1 .7-.2 .7-.4 .7 .6 .8-.8 .7 1.2 .7-.7 .7 0 .7-.5 .7 0 .8 .1 .7-.1 .7-.1 .7-.1 .7 .5 .8 .5 .7 .4 .7-.6 .7-.3 .7 .3 .8 .5 .7-.7 .7 .4 .7-.3 .7-.1 .7-.3 .8 .6 .7-.7 .7-.1 .7 .7 .7 .2 .8 0 .7 0 .7-.5 .7 .1 .7 .6 .7 .4 .8-2.1 .7 1.7 .7-.4 .7-.1 .7-.3 .8 .1 .7-.3 .7 .7 .7-.5 .7 .3 .8-.6 .7 1.3 .7-.3 .7-.8 .7 .8 .7-.4 .8-.2 .7 .4 .7 .4 .7 .3 .7-.6 .8 .5 .7-.2 .7 0 .7 .1 .7-1 .8 .4 .7 .9 .7-1.3 .7 .3 .7 1.2 .7-1.3 .8 .5 .7 .1 .7-.2 .7 .5 .7 0 .8-.7 .7 1.1 .7-1.1 .7 .2 .7 .1 .8 .2 .7-.6 .7 .6 .7-1.1 .7 .8 .7-.2 .8 .1 .7 .3 .7 .2 .7-.5 .7 .4 .8-.7 .7 .5 .7 .6 .7-.7 .7 .2 .7 .1 .8 .4 .7-.2 .7-.2 .7-.4 .7 .6 .8-1.4 .7 1.5 .7-.5 .7 .6 .7-.3 .8 .7 .7-.9 .7-.6 .7 .9 .7-.2 .7 .2 .8 .6 .7-1 .7 .7 .7 .2 .7 0 .8-1.3 .7 1 .7-.4 .7 .2 .7-.2 .8 .2 .7 .6 .7 .3 .7-.4 .7-.8 .7 1.1 .8-1.1 .7 .4 .7 .6 .7-.7 .7 .6 .8-.4 .7-.4 .7 .6 .7-.3 .7 1 .7 .1 .8-.2 .7-1.1 .7 1.3 .7-.7 .7 .1 .8-.1 .7-.3 .7 .3 .7 .3 .7 .4 .8-.5 .7-.2 .7-.2 .7 .1 .7 .8 .7-.4 .8-.1 .7-.9 .7 0 .7 1.1 .7 0 .8 .2 .7-.4 .7-.4 .7-.4 .7 .4 .8-.7 .7 1.2 .7 .1 .7 .4 .7-1.4 .7 .2 .8 .9 .7-.1 .7-1 .7 .5 .7 .4 .8-.2 .7 .4 .7-.2 .7-.2 .7 .4 .8-.2 .7 .6 .7-1.2 .7 .6 .7-.2 .7 .2 .8 .3 .7 .1 .7-1.2 .7 1.4 .7-.2 .8 0 .7-.2 .7 .4 .7-.2 .7-1 .7 .5 .8 .2 .7-.1 .7 0 .7 .5 .7-.8 .8 .2 .7-.1 .7 .5 .7 .2 .7-.6 .8 .6 .7-.4 .7 .9 .7-1.7 .7 1 .7 .6 .8-.7 .7-.3 .7 .1 .7 .6 .7-.4 .8 .7 .7-.5 .7-.2 .7 .1 .7 .4 .8 .2 .7-.8 .7-.1 .7 0 .7 .7 .7 .6 .8-1 .7 .5 .7-.4 .7 .6 .7-1.1 .8 1 .7-.9 .7 .2 .7 .6 .7-.3 .8 .1 .7 .3 .7-.2 .7 .6 .7-.3 .7-.7 .8 .4 .7-.2 .7 0 .7 1 .7-1.1 .8 .9 .7 .1 .7 .6 .7-1.2 .7 .1 .7 0 .8-.2 .7 .9 .7 .1 .7-1.9 .7 .9 .8 .7 .7-1 .7 .2 .7 .3 .7 0 .8-.1 .7 .1 .7 .9 .7-1.9 .7 .8 .7-.3 .8 .7 .7-.3 .7 .4 .7-.2 .7 1.1 .8-1.7 .7 .4 .7 .6 .7-.5 .7 .2 .8-.7 .7 1 .7-.4 .7 .4 .7-.7 .7 .2 .8-.2 .7 1.2 .7-1.5 .7 1 .7-.1 .8 .5 .7-.5 .7-.6 .7 .7 .7-1 .8 1.3 .7-.5 .7-.3 .7 .1 .7 .5 .7-1 .8 1.6 .7-1.1 .7 1 .7-.6 .7 .8 .8-1.4 .7 .9 .7-.4 .7-.2 .7 .7 .7-.5 .8-.2 .7 .2 .7-.2 .7 .2 .7 .1 .8 .5 .7-.5 .7-.3 .7 .7 .7-.5 .8-.2 .7-.1 .7 1.3 .7-.8 .7 .8 .7-1.2 .8 0 .7 1.2 .7-.8 .7 .1 .7 0 .8-.3 .7 .9 .7-.9 .7 .9 .7-.8 .8 1.7 .7-.8 .7 .2 .7-1.2 .7 1 .7-.4 .8-.1 .7 .1 .7 .8 .7-.3 .7-.3 .8 0 .7 .1 .7 .1 .7 .1 .7-.3 .8 .1 .7-.5 .7 1 .7 .3 .7-.4 .7 .9 .8-1 .7 .4 .7 .6 .7-.4 .7-.4 .8 .7 .7-.2 .7 .8 .7 0 .7-.3 .7 .5 .8 .7 .7-.2 .7 0 .7-.3 .7 0 .8 0 .7 1 .7-.9 .7 .9 .7 .6 .8-1.3 .7 1 .7-.4 .7 .5 .7 .4 .7-.5 .8 .3 .7 .9 .7 .7 .7 .1 .7 .2 .8 1.2 .7-.4 .7 .2 .7 1.2 .7 1.3 .8-.8 .7 .2 .7-.4 .7 .2 .7-.2 .7 .7 .8-.5 .7 0 .7 .8 .7-1.1 .7 1.1 .8-.4 .7-.4 .7 .5 .7-.1 .7 .2 .8-.2 .7 1 .7-.4 .7 .1 .7-.8 .7 .8 .8 1.1 .7 .1 .7 .1 .7 .4 .7 .9 .8-1 .7 .9 .7 .2 .7 1.5 .7-.7 .7 .9 .8 1 .7-.4 .7 .5 .7 .1 .7 .6 .8 .9 .7-1.2 .7 .7 .7 1.1 .7 .5 .8-.9 .7 1 .7-.1 .7 .3 .7-.7 .7 .2 .8 1 .7 .2 .7 .2 .7-.2 .7 1.4 .8-.3 .7 1.6 .7-1 .7 .6 .7 .5 .8-.1 .7 0 .7 .6 .7 .6 .7 .1 .7 1.4 .8-.8 .7 1 .7 .3 .7 .1 .7-.3 .8 1.1 .7 .5 .7 .1 .7 .4 .7-.6 .8 .9 .7 .8 .7 .6 .7 .7 .7-.1 .7 .7 .8-.2 .7 1.2 .7 .5 .7 0 .7 .9 .8-.2 .7 .4 .7 .5 .7 1.4 .7-1.2 .7 1.3 .8 .1 .7 .5M537.3 684.9l.7 0 .8-.5 .7 0 .7 .2 .7 13.2 .7 1.4 .8 4.2 .7 3 .7 2.2 .7 1.8 .7 1.9 .7-.2 .8 1.3 .7-.5 .7 .6 .7 1.4 .7 .5 .8 .4 .7 .9 .7 .1 .7 .1 .7-.2 .8 .3 .7 2 .7 .4 .7 .1 .7 1.4 .7 .4 .8 .9 .7 1.2 .7-.4 .7 2 .7 .5 .8 .3 .7 .9 .7 0 .7 1.3 .7 .9 .8-30.3 .7-29.8 .7-28.9 .7 10.6 .7 12.4 .7 8.8 .8 8.1 .7 8.2 .7 5.8 .7 4 .7 2.9 .8 2.4 .7 2.4 .7 2 .7 1.5 .7 1 .7 1.2 .8 .8 .7 1.2 .7 .4 .7 2.6 .7 1.3 .8-.9 .7 .8 .7 0 .7 .7 .7 .5 .8 .2 .7 .9 .7 1.1 .7 .2 .7 1 .7 .2 .8 .6 .7 .3 .7 1.8 .7-.2 .7 1.1 .8 .4 .7 1.5 .7 .1 .7 1.8 .7 .7 .8-.7 .7-1 .7 1.5 .7-.3 .7 .8 .7 .5 .8 .9 .7 .5 .7 .1 .7 .1 .7 1 .8 1.3 .7-.4 .7 1.8 .7-23.9 .7-21.9 .7-22.9 .8-18.2 .7 19.3 .7 11 .7 8.8 .7 11 .8 2.6 .7 4.1 .7 2.1 .7 2.1 .7 1.6 .8 1.2 .7 .8 .7 1.2 .7 .4 .7 1.1 .7 .7 .8-.2 .7 1 .7 1.1 .7 .5 .7 1.7 .8 .9 .7 1.3 .7 1.6 .7 .8 .7 .8 .8 1.9 .7 .1 .7 1.1 .7 .6 .7 2.7 .7-.3 .8 1 .7 .4 .7 1.4 .7 1.3 .7-.6 .8 1.3 .7 1.2 .7 .7 .7-.1 .7 1.6 .8-.2 .7 2 .7 .5 .7-32.3 .7-21.6 .7-31.6 .8 8.9 .7 8.3 .7 12.1 .7 12.5 .7 8.9 .8 1.9 .7 3.2 .7 2.4 .7 2.6 .7 .7 .7 1.2 .8 .5 .7-.6 .7 1.7 .7 .5 .7 .7 .8 .2 .7 .9 .7 1.4 .7 .8 .7 1.3 .8 .9 .7 1.2 .7 1.5 .7 .6 .7 .7 .7 .4 .8 .5 .7 1.7 .7 .3 .7 .4 .7 .1 .8 1.6 .7 .2 .7 1.5 .7 .9 .7 2.1 .8 0 .7 .6 .7 1.6 .7 2.2 .7 1.1 .7-33.7 .8-23.5 .7-31.5 .7 14.9 .7 7.5 .7 6.3 .8 20.1 .7 1.6 .7 2.2 .7 3.3 .7 3 .8-.9 .7 1.9 .7 .7 .7 1.3 .7 .4 .7 .9 .8 1.6 .7-.2 .7 .9 .7 1.2 .7 1 .8 .5 .7 .8 .7 .6 .7 .4 .7 1.1 .7 .7 .8 1.8 .7 .2 .7 1.3 .7 .3 .7 .5 .8 1.3 .7 .8 .7 1.4 .7-.8 .7 1.9 .8 .8 .7 0 .7 1 .7 .4 .7 1.4 .7 .6 .8-1 .7 .9 .7 .9 .7 1 .7 .5 .8 .5 .7 1.1 .7 .7 .7 .3 .7 .4 .8 .7 .7 .2 .7 1.4 .7 .6 .7-.2 .7 1.7 .8-.1 .7 1 .7 .2 .7 .6 .7 1 .8-.1 .7 1.1 .7 .4 .7 1.7 .7 .6 .8 .8 .7 .8 .7 1.5 .7 .7 .7 .7 .7 .7 .8 2 .7 .7 .7-.3 .7 2 .7 .6 .8 .8 .7 .9 .7 .1 .7 2.6 .7 .8 .7-.1 .8 .9 .7 1 .7 .5 .7 1.4 .7 .7 .8 .4 .7 1.2 .7 .8 .7 .9 .7 1 .8 1.3 .7 .5 .7 .3 .7 2.3 .7 0 .7 1.8 .8 .3 .7 1.1 .7 .2 .7 1.4 .7 .2 .8 .6 .7 .7 .7 .1 .7 .9 .7-.5 .8 .6 .7 1.1 .7 .5 .7 .7 .7 .7 .7-.1 .8 .6 .7 .2 .7 .4 .7 .3 .7 .5 .8 .2 .7 .6 .7 .9 .7 .3 .7 .7 .8-.3 .7 .5 .7 .8 .7-.1 .7 .4 .7 1.1 .8 .1 .7 .9 .7 .1 .7 .2 .7 .2 .8 1.5 .7-.2 .7 0 .7 .1 .7 .4 .7 .7 .8 1.1 .7-.7 .7 .9 .7 .3 .7-1.3 .8 1.2 .7 1.3 .7-1 .7 1.7 .7-.2 .8-.4 .7 1.9 .7-.6 .7 1.1 .7-.3 .7-.1 .8 1.1 .7 .7 .7 0 .7-.8 .7 1.2 .8-.5 .7 .5 .7 1.2 .7-.9 .7 2.1 .8-1.5 .7 .4 .7 1.2 .7-.1 .7 .4 .7-.2 .8 1.1 .7 0 .7 .1 .7-.1 .7-.1 .8 .9 .7-.7 .7 .9 .7 .8 .7 .3 .8-.3 .7-.7 .7 1.6 .7 .4 .7-.1 .7 .8 .8 .1 .7-1 .7 .9 .7 .1 .7 1.2 .8 0 .7-.2 .7 .4 .7 .4 .7-.5 .7 .5 .8 .3 .7 .1 .7 .3 .7 .5 .7-.5 .8 .3 .7 1.1 .7 .6 .7 .4 .7-1.4 .8 1.2 .7-.3 .7 .2 .7 .4 .7 .5 .7 .2 .8-1.2 .7 1.1 .7 .9 .7-.3 .7-.6 .8 .5 .7 .2 .7 1.1 .7 .5 .7-1.2 .8 1 .7-.2 .7 .5 .7-.2 .7-.2 .7 .4 .8 .2 .7 1.1 .7-.8 .7 .8 .7-.5 .8 .3 .7 .5 .7-.1 .7 1.3 .7-.1 .8-1 .7 1 .7 .6 .7-1.1 .7 .6 .7 1 .8-.9 .7 .9 .7-.1 .7 .2 .7-.5 .8 .5 .7-.1 .7 1.1 .7-.4 .7-.2 .7 .1 .8 .4 .7-1 .7 .4 .7 .1 .7 .1 .8-.3 .7 1.1 .7-.4 .7 .9 .7-.6 .8 0 .7 .5 .7 0 .7-.2 .7 .5 .7 .4 .8-.7 .7 .9 .7-.6 .7 .5 .7-.3 .8-.1 .7 .4 .7-.5 .7-.2 .7 .8 .8 0 .7-.3 .7 1.6 .7-.7 .7-.5 .7 .7 .8 .1 .7-.4 .7 .2 .7-.7 .7 1.1 .8 .8 .7-.3 .7 .1 .7-.7 .7-.1 .7 1 .8-.2 .7-.2 .7 .1 .7 .6 .7 0 .8-.5 .7 .3 .7-.6 .7 .3 .7 .9 .8-.4 .7-.1 .7 .6 .7 .5 .7-.9 .7 .4 .8 .1 .7 1.3 .7-.6 .7-.2 .7-.7 .8 1 .7 0 .7-.2 .7-.2 .7 .2 .8-.4 .7 .6 .7 .1 .7-.1 .7 .3 .7-.5 .8 1.3 .7-.5 .7-.4 .7 1 .7-.1 .8-.4 .7-.3 .7 .7 .7 .3 .7 .1 .8 .2 .7 .1 .7-1 .7 .8 .7-.9 .7 1.4 .8-.2 .7 .3 .7-.3 .7 0 .7-.1 .8-1 .7 1.3 .7 1.3 .7-.5 .7-.6 .7 .3 .8 .1 .7-.4 .7 .4 .7 .2 .7-.3 .8 .5 .7 .4 .7-.1 .7-.2 .7-.1 .8 .5 .7-.5 .7 0 .7 .9 .7-.6 .7-.4 .8 1.1 .7 0 .7 .2 .7-.4 .7 .6 .8-.5 .7-.3 .7 .4 .7 .3 .7-.5 .8 .4 .7 .3 .7-.2 .7 .3 .7 0 .7-.3 .8 .6 .7 .2 .7-1.1 .7 .6 .7 .8 .8-.1 .7-1 .7 1 .7 .6 .7-.2 .8 0 .7-.4 .7 .2 .7-.5 .7 .6 .7 1.1 .8-1 .7-.4 .7 .7 .7-1.1 .7 2 .8-.7 .7-.3 .7 0 .7-.2 .7 .5 .7 0 .8-.6 .7 1.2 .7-.6 .7-.2 .7 .9 .8 0 .7-.5 .7 0 .7 .8 .7-.6 .8 .3 .7 .6 .7-1.1 .7-.1 .7 .4 .7 .2 .8 .3 .7 .5 .7-.6 .7 1 .7-.6 .8-.9 .7 .9 .7 .4 .7 .2 .7-.7 .8 .3 .7 1.1 .7-.9 .7-.4 .7-.2 .7 .5 .8 .4 .7-.6 .7 1.2 .7-.9 .7-.5 .8 1.2 .7-.2 .7-.1 .7 .8 .7-.8 .8 .6 .7-.5 .7 1.1 .7-.7 .7 .1 .7 .3 .8-.3 .7 .3 .7-.2 .7 .4 .7-.2 .8-.2 .7 .5 .7 .1 .7-.7 .7 .4 .7-.5 .8 .8 .7 .4 .7 .8 .7-.9 .7 .4 .8 .2 .7-.3 .7-1.1 .7 .7 .7 .4 .8 0 .7 0 .7-.4 .7-.4 .7 1.1 .7 .4 .8-.7 .7 .5 .7-.4 .7 .2 .7-.1 .8 .7 .7-.7 .7 .5 .7 .4 .7-.4 .8-.4 .7 .7 .7-.2 .7-.4 .7 .5 .7 0 .8 .4 .7-.4 .7 .3 .7 .3 .7-1.1 .8 1.3 .7-.4 .7-.4 .7 .6 .7 .4 .8-.7 .7 .1 .7 .9 .7 .2 .7 .2 .7-.8 .8-.4 .7 0 .7 .3 .7-.2 .7 .7 .8 .4 .7-1 .7 1.2 .7-1.1 .7 .2 .7-.3 .8 1 .7-.3 .7 .1 .7-1.3 .7 1.1 .8 .4 .7-1.3 .7 2.2 .7-.7 .7 .4 .8-.6 .7 .6 .7 .2 .7 .6 .7-1.5 .7 1.4 .8-1.4 .7 .6 .7-.2 .7 .2 .7-.8 .8 .8 .7-.3 .7 .5 .7 .2 .7 0 .8-.1 .7 .8 .7-.5 .7 .2 .7 .4 .7-.6 .8 .1 .7 .3 .7-.4 .7 .8 .7-.8 .8 .2 .7 .1 .7-.1 .7 .2 .7-.1 .8-.9 .7 1.7 .7-.7 .7 .6 .7-.8 .7 .8 .8-.8 .7 1.3 .7-.7 .7-.1 .7-1 .8 .3 .7 .8 .7 0 .7 0 .7 .1 .7 .7 .8-.5 .7 0 .7-.1 .7-.1 .7 .7 .8-.3 .7 0 .7 .4 .7-.1 .7 .4 .8 0 .7-.8 .7 .2 .7 .9 .7-.6 .7 .5 .8-.6 .7-.7 .7 .2 .7 .7 .7 .2 .8 1.3 .7-.7 .7 0 .7 .2 .7-1.1 .8 .8 .7-.1 .7 1 .7-1.1 .7-.3 .7 .7 .8 0 .7 .1 .7 .1 .7 .1 .7-.3 .8 .1 .7 1.3 .7-1.3 .7 .6 .7-.7 .8-.2 .7 1.2 .7-.3 .7 .6 .7-.1 .7-.3 .8-.4 .7 1.3 .7-.8 .7 1 .7-.6 .8 .1 .7-.1 .7 0 .7-.2 .7 1.2 .7-1.4 .8-.2 .7 .8 .7-.4 .7 .8" fill="none" stroke="#1f77b4" stroke-width="2.90" stroke-linejoin="round" stroke-linecap="round"/>
<path d="M535.9 777.3l.7-49.7M536.6 727.6l.7-42.7" fill="none" stroke="#1f77b4" stroke-width="2.083" stroke-dasharray="7.71 3.33"/>
<line x1="536.50" y1="872.50" x2="536.50" y2="627.50" stroke="#ff0000" stroke-width="3.00" stroke-dasharray="7.71 3.33"/>
<line x1="565.00" y1="872.50" x2="565.00" y2="627.50" stroke="#ff0000" stroke-width="2.08" stroke-dasharray="7.71 3.33"/>
<line x1="606.50" y1="872.50" x2="606.50" y2="627.50" stroke="#ff0000" stroke-width="3.00" stroke-dasharray="7.71 3.33"/>
<line x1="640.50" y1="872.50" x2="640.50" y2="627.50" stroke="#ff0000" stroke-width="3.00" stroke-dasharray="7.71 3.33"/>
<line x1="673.00" y1="872.50" x2="673.00" y2="627.50" stroke="#ff0000" stroke-width="2.08" stroke-dasharray="7.71 3.33"/>
</g>
<rect x="64.50" y="627.50" width="1138.00" height="245.00" fill="none" stroke="#000" stroke-width="1.111" stroke-linejoin="miter"/>
<text x="116.20" y="893.00" text-anchor="middle" font-size="13.89" textLength="8.75" lengthAdjust="spacingAndGlyphs" fill="#000">0</text>
<text x="259.93" y="893.00" text-anchor="middle" font-size="13.89" textLength="26.25" lengthAdjust="spacingAndGlyphs" fill="#000">200</text>
<text x="403.66" y="893.00" text-anchor="middle" font-size="13.89" textLength="26.25" lengthAdjust="spacingAndGlyphs" fill="#000">400</text>
<text x="547.38" y="893.00" text-anchor="middle" font-size="13.89" textLength="26.38" lengthAdjust="spacingAndGlyphs" fill="#000">600</text>
<text x="691.11" y="893.00" text-anchor="middle" font-size="13.89" textLength="26.38" lengthAdjust="spacingAndGlyphs" fill="#000">800</text>
<text x="834.84" y="893.00" text-anchor="middle" font-size="13.89" textLength="35.12" lengthAdjust="spacingAndGlyphs" fill="#000">1000</text>
<text x="978.57" y="893.00" text-anchor="middle" font-size="13.89" textLength="35.12" lengthAdjust="spacingAndGlyphs" fill="#000">1200</text>
<text x="1122.30" y="893.00" text-anchor="middle" font-size="13.89" textLength="35.12" lengthAdjust="spacingAndGlyphs" fill="#000">1400</text>
<text x="53.80" y="847.80" text-anchor="end" font-size="13.89" textLength="43.88" lengthAdjust="spacingAndGlyphs" fill="#000">14350</text>
<text x="53.80" y="799.50" text-anchor="end" font-size="13.89" textLength="43.88" lengthAdjust="spacingAndGlyphs" fill="#000">14400</text>
<text x="53.80" y="751.20" text-anchor="end" font-size="13.89" textLength="43.88" lengthAdjust="spacingAndGlyphs" fill="#000">14450</text>
<text x="53.80" y="702.90" text-anchor="end" font-size="13.89" textLength="43.88" lengthAdjust="spacingAndGlyphs" fill="#000">14500</text>
<text x="53.80" y="654.60" text-anchor="end" font-size="13.89" textLength="43.88" lengthAdjust="spacingAndGlyphs" fill="#000">14550</text>
<path d="M116.50 872.50v4.86M259.50 872.50v4.86M403.50 872.50v4.86M547.50 872.50v4.86M691.50 872.50v4.86M834.50 872.50v4.86M978.50 872.50v4.86M1122.50 872.50v4.86M64.50 842.50h-4.86M64.50 794.50h-4.86M64.50 746.50h-4.86M64.50 697.50h-4.86M64.50 649.50h-4.86" stroke="#000" stroke-width="1.111" fill="none"/>
<text x="633.50" y="912.00" text-anchor="middle" font-size="13.89" textLength="48.88" lengthAdjust="spacingAndGlyphs" fill="#000">minute</text>
<rect x="1086.55" y="634.80" width="108.95" height="24.60" rx="2.8" ry="2.8" fill="#fff" fill-opacity="0.8" stroke="#cccccc" stroke-opacity="0.8" stroke-width="1.39"/>
<line x1="1091.05" y1="646.05" x2="1119.15" y2="646.05" stroke="#1f77b4" stroke-width="2.083" stroke-dasharray="7.71 3.33"/>
<circle cx="1105.55" cy="647.05" r="1.15" fill="#1f77b4"/>
<text x="1134.85" y="651.20" text-anchor="start" font-size="13.89" textLength="54.25" lengthAdjust="spacingAndGlyphs" fill="#000">Ws_E14</text>
</g>
<g>
<defs><clipPath id="c3"><rect x="64.50" y="924.50" width="1138.00" height="244.00"/></clipPath></defs>
<path d="M112.50 924.50V1168.50M256.50 924.50V1168.50M401.50 924.50V1168.50M545.50 924.50V1168.50M689.50 924.50V1168.50M834.50 924.50V1168.50M978.50 924.50V1168.50M1122.50 924.50V1168.50M64.50 1164.50H1202.50M64.50 1120.50H1202.50M64.50 1076.50H1202.50M64.50 1032.50H1202.50M64.50 988.50H1202.50M64.50 944.50H1202.50" stroke="#b0b0b0" stroke-width="1.111" fill="none"/>
<g clip-path="url(#c3)">
<path d="M116.2 1077.3l.7-.4 .8-.5 .7-.5 .7 1.8 .7 .3 .7-.4 .8-.2 .7-.1 .7 .7 .7-1.3 .7 1 .8-.4 .7 .4 .7 .3 .7-2.3 .8 1 .7 1 .7-1.5 .7 .7 .7-.9 .8 2.2 .7-1.3 .7 .7 .7-1.5 .7-.3 .8 2.4 .7-1.8 .7 .6 .7-1 .8 1.5 .7-1.3 .7 1.5 .7-1.8 .7 .3 .8 1.4 .7 0 .7-1.7 .7 .5 .7-.5 .8 .8 .7 .1 .7-1.1 .7 2.3 .8-1.5 .7 .1 .7-.2 .7 1.6 .7 .1 .8-.8 .7-1.1 .7 1.1 .7-.5 .7-1 .8 2.4 .7-1 .7-1.4 .7 .3 .8 1.5 .7-.1 .7 .2 .7-1.9 .7 .7 .8 1 .7 .2 .7-1.8 .7 1.9 .7-.7 .8-1.2 .7 2 .7-1.1 .7 .1 .8-.6 .7-.1 .7 .6 .7 .5 .7-1.5 .8 2.1 .7-.4 .7-1.7 .7 1.5 .7 .7 .8-1.9 .7 .7 .7-.6 .7 1.5 .8-1.5 .7 .2 .7 1.4 .7 0 .7-.7 .8-.4 .7-.3 .7 0 .7 1.2 .7-.5 .8-1.4 .7 1.6 .7-1.2 .7 1.7 .8-1 .7-.2 .7 .9 .7-.1 .7 .1 .8 .6 .7-2.2 .7 0 .7-.1 .7 .7 .8 1.6 .7-1.3 .7-.7 .7 .1 .8-.5 .7 1.4 .7-.8 .7-.6 .7 .6 .8-.5 .7 .6 .7 1.1 .7-1.9 .7 .1 .8 2 .7 .4 .7-2 .7 .8 .8-.7 .7 0 .7-.1 .7 2 .7-2.3 .8 2 .7-1.1 .7-.4 .7 .1 .7-.6 .8 .3 .7-.3 .7 .6 .7 1 .8-1.1 .7-.6 .7 1.2 .7 1 .7 0 .8 .1 .7-.5 .7-.8 .7 .9 .7 0 .8-.2 .7-.6 .7-.2 .7-.2 .8 .2 .7 .3 .7-.7 .7 .6 .7-.6 .8 1.3 .7 .2 .7 0 .7-1.3 .7 0 .8 .8 .7-1.4 .7 1 .7-.1 .8-.3 .7-.6 .7 2.2 .7-1 .7 .4 .8 .7 .7-1.4 .7 .5 .7-.8 .7 1.3 .8-1.1 .7 1 .7-.5 .7 .4 .8 .6 .7-1.8 .7-.5 .7 .8 .7 .6 .8-.2 .7-.2 .7 .1 .7 .6 .7-1.3 .8 2 .7-1.9 .7-.4 .7 .1 .8 .6 .7 .9 .7-1.6 .7 1.5 .7-1.4 .8 2.2 .7-1.5 .7 1.2 .7-2 .7 .1 .8 0 .7 .4 .7 1.3 .7-2 .8 0 .7 1.5 .7-.6 .7 .3 .7 .6 .8 .3 .7-1 .7-.7 .7 .5 .7 .6 .8-1.3 .7 1 .7-.7 .7 .7 .8-.3 .7 .3 .7-.9 .7 .7 .7-.2 .8-.3 .7 1.2 .7 .3 .7-.7 .7-.2 .8-.1 .7-1 .7 1.2 .7 1.2 .8-1 .7-.6 .7-.3 .7 1.3 .7-.4 .8-.6 .7 1.7 .7-.6 .7-.1 .7-1.8 .8 .6 .7 1.7 .7-1.2 .7-.2 .8 .8 .7-1.1 .7 1.6 .7-.5 .7 .8 .8-1.8 .7-.3 .7 .3 .7-.4 .7 .8 .8 .1 .7-.1 .7 .1 .7 0 .8 .7 .7-.7 .7 .2 .7-1.3 .7 .7 .8 .3 .7 .4 .7-.3 .7 .1 .7 .8 .8-2 .7 .5 .7 .9 .7-1.2 .8 1.4 .7 .3 .7-1.1 .7-.8 .7 1 .8-.7 .7 1.9 .7-1 .7 0 .7 .9 .8 .1 .7-2.3 .7 1.4 .7-.9 .8-.3 .7 1.5 .7-1.5 .7 .8 .7 1.4 .8-.1 .7-2.1 .7 1.7 .7 0 .7 .6 .8-.3 .7-1.6 .7-.5 .7 2.2 .8-.4 .7-1.4 .7-.3 .7 2.2 .7-1.8 .8 .9 .7-1.2 .7 1.2 .7-.2 .7-1.4 .8 1.5 .7-1.2 .7-.1 .7 1 .8-.3 .7 .4 .7 .2 .7-.3 .7 .3 .8-.7 .7 .2 .7 1.2 .7-1.8 .7 .4 .8 1.2 .7 0 .7-.2 .7-.8 .8 .9 .7 .2 .7-1.9 .7 2.4 .7-2.6 .8 1.6 .7-1.4 .7 2.2 .7-.8 .7-.1 .8 .4 .7 .6 .7-.6 .7-.4 .8 .3 .7 .4 .7 .3 .7-1.5 .7-.9 .8 1.2 .7-.8 .7 1.5 .7-.1 .7-1 .8 1 .7-.6 .7-1.2 .7 1.6 .8-.2 .7-.9 .7 .2 .7 1.2 .7-.7 .8-.4 .7-.7 .7 1.3 .7-.4 .7-.8 .8 1.9 .7 .1 .7-.3 .7-1.7 .8 .7 .7 0 .7-.8 .7-.1 .7 1.2 .8-.3 .7-.6 .7 1.6 .7-1.3 .7 .6 .8-.2 .7-.9 .7 2.1 .7-1 .8 .1 .7 .1 .7-.6 .7 1.1 .7-1.1 .8 .3 .7 .6 .7-.7 .7-1 .7 .2 .8 .1 .7 1.8 .7-1.2 .7-.3 .8 .4 .7 1.2 .7-2.2 .7 .6 .7 .1 .8-.2 .7 .5 .7 .9 .7-.9 .7-.7 .8 .4 .7 0 .7-.7 .7 .7 .8-.6 .7 0 .7 1.2 .7 1.1 .7-2.3 .8 0 .7 1.4 .7 1 .7-1.3 .7 0 .8 1.2 .7-.1 .7-1.3 .7 0 .8-1 .7 0 .7 .4 .7 1.7 .7-.1 .8-1.9 .7 2.3 .7-.5 .7-1.2 .7-.8 .8 1.1 .7-.4 .7 0 .7 1.4 .8-.5 .7-1.1 .7 1.4 .7 0 .7-.6 .8-.2 .7 .5 .7 1 .7-2 .7-.2 .8 1.7 .7 .4 .7-1.1 .7-.2 .8-.7 .7-.2 .7 1.6 .7-1.6 .7 .1 .8 .8 .7 1.1 .7-1.8 .7-.2 .7 .8 .8-.4 .7 .1 .7-.7 .7 2.7 .8-1.2 .7 1.1 .7-.7 .7-.4 .7 1.6 .8-1 .7 .7 .7 .7 .7-1.1 .7-.7 .8 0 .7 .7 .7-1 .7 1 .8-.3 .7 1.7 .7-1.9 .7 2.2 .7-1.4 .8-.4 .7 1.4 .7 0 .7-.1 .7-.3 .8-2 .7 1.1 .7 1.7 .7-1.1 .8 .5 .7-1.6 .7 .3 .7 .9 .7-1 .8 1.9 .7-.4 .7-.7 .7 .7 .7-1 .8-.7 .7 2.2 .7-1 .7-1.3 .8 .3 .7 .4 .7-.8 .7 2.4 .7-1 .8 0 .7 .1 .7-1.4 .7 1.3 .7-1.1 .8-.1 .7 1.9 .7 0 .7-.5 .8-.7 .7 .4 .7 .7 .7-1.3 .7-.7 .8 2.4 .7-2.1 .7 1.4 .7-1.8 .7 1.1 .8 .8 .7 .5 .7-.6 .7 .6 .8-2.4 .7 2 .7-1.5 .7-.5 .7 .9 .8 0 .7 1.2 .7 .3 .7-1.9 .7 .2 .8 .4 .7-.1 .7 .1 .7 .3 .8-.5 .7 1.5 .7-1.3 .7 .6 .7-1.3 .8-.3 .7 .9 .7 .6 .7-.3 .7-1.3 .8 2.2 .7-.2 .7 .3 .7-1.1 .8 .4 .7 0 .7-1.5 .7-.2M534.6 932.9l.8 12.9 .7 6.1M536.8 1076.2l.7 4.2M538.2 1112.3l.8-3.2 .7-11.6 .7-3.3 .7-5.3 .8-6.1 .7 .3 .7-4 .7 .8 .7-1.3 .8 .6 .7-2.3 .7 .6 .7-.5 .7 .8 .8-.2 .7-.4 .7 .9 .7 .6 .8 1.2 .7-1.4 .7-.8 .7 .5 .7 2.5 .8-.6 .7 .8 .7-2.4 .7 2.9 .7-.3 .8-.9 .7 .4 .7-.5 .7 1.3 .8-.4 .7-2.5M563.5 960.3l.7 12.3 .7 14.7 .8 8.1 .7 13.1 .7 6M567.8 1155.3l.8-21 .7-17.4 .7-10.8 .7-9 .7-7.6 .8-3.7 .7-3.4 .7-1.5 .7-.2 .7-3 .8 2.4 .7-.8 .7-1.8 .7-.4 .8 1.3 .7 1.2 .7-.5 .7-.9 .7 .9 .8 1.6 .7-.4 .7 .4 .7 .6 .7-2.2 .8-.1 .7 1.9 .7-1.1 .7 1 .8-2.6 .7 2.4 .7-1.9 .7-.3 .7 1.2 .8-1 .7 2.2 .7-.6 .7-2.4 .7 1.6 .8-2.4 .7 1.7 .7-.7 .7 1.7 .8-.8 .7 0 .7-.5 .7-1 .7-.5 .8 0 .7-.4 .7-1 .7 9.5M605.3 960.9l.8 12.2 .7 14.8 .7 8.1 .7 10.2 .8 9.2M609.7 1157l.7-22.8 .7-16.3 .7-12.9 .8-8 .7-6.8 .7-2.2 .7-5.3 .7-2 .8-1.4 .7-.9 .7 1.4 .7-1.2 .8-1.8 .7-.1 .7 3.6 .7-.6 .7-.2 .8 1.6 .7-1.6 .7 3.4 .7-1.1 .7 .5 .8-1.8 .7 2.9 .7-1.8 .7 2.8 .8-2.7 .7-.6 .7 2.8 .7-2.1 .7 3.4 .8-2.5 .7 2.2 .7-.4 .7-1.7 .7 .5 .8 1.8 .7-3.6 .7 3.2 .7-1.6 .8-3.3M640 952.6l.7 18.6 .7 10.2 .7 15.7 .8 6.9 .7 13.6M644.3 1151.4l.7-23.1 .7-15.8 .8-9.7 .7-9 .7-3.5 .7-4.3 .8-4.2 .7-1.4 .7-1.4 .7-1.1 .7-.4 .8-.6 .7 1.6 .7-.3 .7-1.4 .7 1.7 .8-.2 .7 1.6 .7-.2 .7-.6 .8 1.3 .7 .1 .7-.5 .7 2.4 .7-1.1 .8-1 .7 1.1 .7 0 .7-1 .7 2.5 .8 0 .7-4.1 .7 1.8 .7 .7 .8-1.6 .7 2.5 .7-.4M671.7 961.4l.7 14.9 .8 10.7 .7 11.8 .7 7.7 .7 12M676 1150.6l.8-23 .7-12.5 .7-13 .7-5.2 .8-6 .7-6 .7-2.2 .7-.2 .7-1.8 .8-1.7 .7 .8 .7-2.1 .7 1.4 .7 .5 .8 1.4 .7-3.6 .7 .3 .7 4.7 .8-1.6 .7 .7 .7-2.4 .7 .3 .7 4.1 .8-1.4 .7 .1 .7 1.4 .7-2.9 .7-.6 .8 .6 .7 .1 .7-1 .7 1.6 .8-.2 .7 3.1 .7-2.1 .7-.9 .7 3.6 .8 0 .7-2.8 .7 1.5 .7-3.1 .7 1.9 .8-2.3 .7-.6 .7 2.2 .7-2.3 .8 1.3 .7 1.4 .7-.6 .7-1.4 .7 3.4 .8-3.4 .7 1.4 .7-.9 .7 2.8 .7-2.6 .8 2.8 .7 1.4 .7 0 .7-2.6 .8 2.3 .7-4 .7-.9 .7-.1 .7 2.3 .8-1 .7 .5 .7-1.9 .7 2.3 .7-1.4 .8-1 .7-1 .7 5 .7-1.7 .8 2.5 .7-4.7 .7 .1 .7 1.7 .7 3.3 .8-3.6 .7 2.7 .7-3.1 .7 3.4 .7-4 .8 2.3 .7 2 .7-2.3 .7-2.6 .8 4 .7-.2 .7 .7 .7-.8 .7-4.6 .8 1.3 .7 1.6 .7-.7 .7 4 .7-5.7 .8-.4 .7 5.6 .7-3.9 .7-1 .8 3.5 .7 .6 .7-.4 .7-4.2 .7 5.5 .8-1.1 .7 1.6 .7-2.1 .7-3.3 .7 4.6 .8 0 .7-3.1 .7-1.1 .7 2.5 .8-.8 .7-.3 .7-.9 .7 1.9 .7-.1 .8-1.1 .7-1.4 .7 2.2 .7 .5 .7-2.7 .8 2.4 .7 .4 .7-2.6 .7 1.4 .8-.9 .7 1.3 .7 0 .7-1.1 .7 1.4 .8-2.6 .7 1.2 .7 .5 .7 .4 .7-.5 .8-.7 .7 .7 .7 .3 .7-.8 .8-.8 .7 2.2 .7-3.2 .7 1.1 .7-.6 .8 1 .7 1.4 .7-.9 .7-2.1 .7-.3 .8 2.2 .7 .6 .7-2.6 .7-.4 .8 .5 .7 2.8 .7-1.3 .7 .4 .7-1.2 .8 .7 .7 .3 .7-1.5 .7 1.8 .7-2.7 .8 1.6 .7 .6 .7 .7 .7-1.1 .8-1.8 .7 1.8 .7-1.3 .7 0 .7 2.4 .8-.9 .7-1.4 .7 .1 .7 1.2 .7-1.8 .8 2.2 .7 .1 .7-.8 .7-.9 .8-.1 .7 1.4 .7 .4 .7-.2 .7-1 .8-2.5 .7 1.6 .7-.9 .7 2.4 .7-1.6 .8 .7 .7-2.4 .7 1.3 .7 .2 .8 0 .7 1.8 .7-2.4 .7-.6 .7 2.2 .8-.7 .7-1.4 .7 2.7 .7-1.9 .7-1.7 .8 0 .7 1.4 .7-.9 .7-.3 .8-.1 .7 1.9 .7-1.1 .7 .5 .7-.8 .8-.4 .7 1.8 .7-1.8 .7 .3 .7 .5 .8 .6 .7-.7 .7-.7 .7 .3 .8 1.4 .7-.4 .7-.8 .7 1.3 .7-1.3 .8 1.2 .7-.7 .7 0 .7-.2 .7 .5 .8 .1 .7-.8 .7 1.4 .7-.4 .8-.5 .7 .8 .7-1.8 .7 1.7 .7-.2 .8-.5 .7-1.1 .7 .8 .7-.1 .7 .5 .8-.3 .7-.8 .7 1.5 .7-.2 .8-.7 .7 1.1 .7-.7 .7-.7 .7-.3 .8 1.8 .7-.6 .7 .1 .7 .1 .7-.8 .8-.2 .7 .5 .7-.6 .7 .7 .8-.5 .7-.7 .7 .3 .7 1.8 .7-.8 .8 .4 .7-1.5 .7 .5 .7 .7 .7-.9 .8 .7 .7-1.1 .7 .9 .7-.5 .8-.2 .7 1.6 .7-1.2 .7-.3 .7 .8 .8 .1 .7-.7 .7 .6 .7 .9 .7-1.8 .8 0 .7-.1 .7 .9 .7-.6 .8 1.5 .7 0 .7-.3 .7-.9 .7 .3 .8-.7 .7 1.5 .7-.2 .7-.8 .7-.6 .8 1.1 .7 .5 .7 .2 .7-.6 .8-.6 .7 1.3 .7-.4 .7-.1 .7-1 .8 1.5 .7-1 .7 .9 .7-2 .7 1.2 .8-.1 .7 .9 .7-.1 .7-.5 .8-.6 .7 .6 .7-1 .7 1.1 .7-.5 .8-.3 .7 .6 .7-.1 .7-1 .7 1.8 .8-1.5 .7 1.3 .7 .1 .7-.8 .8 .8 .7 .1 .7-2 .7 1 .7 .5 .8 .6 .7-.5 .7 .5 .7-1.1 .7 .5 .8-1.2 .7 .5 .7-.4 .7 1.6 .8-.3 .7 .2 .7-1.2 .7 .9 .7-1.2 .8 .7 .7 .2 .7 0 .7 .5 .7-1.3 .8 1.1 .7-.5 .7-.5 .7 1.2 .8-1.4 .7 .2 .7 0 .7 .7 .7-1.1 .8 1.6 .7-1.1 .7-.4 .7 0 .7 1.6 .8-.4 .7-.4 .7-.2 .7 1.1 .8-2 .7 1 .7 .6 .7 .4 .7-.6 .8 0 .7 .4 .7 0 .7-1.1 .7-.1 .8 0 .7 1.5 .7-1.9 .7 1 .8-.5 .7 .9 .7 .1 .7-1.5 .7 1.1 .8-1.2 .7-.2 .7 .1 .7 2 .7-1.7 .8 1.8 .7-1.1 .7-.6 .7 1.5 .8-.8 .7-.7 .7 .2 .7-.4 .7 1.4 .8-.3 .7 .5 .7-1.4 .7 1.3 .7 .1 .8-1.8 .7 .9 .7 1 .7-2 .8 .3 .7 1.7 .7-.9 .7-.3 .7 1.4 .8-1.8 .7 1.2 .7-.3 .7-.1 .7 .7 .8 .1 .7-.1 .7-.6 .7-.6 .8-.3 .7-.3 .7 .9 .7 1.1 .7-1.5 .8-.5 .7 1.6 .7-.4 .7-.9 .7 .4 .8 0 .7 .9 .7-1.7 .7 .6 .8 .8 .7-.2 .7-.5 .7 .6 .7 .1 .8 .1 .7-1.1 .7 1.4 .7-1.7 .7 1 .8-.4 .7 .5 .7 .9 .7 .1 .8-1.2 .7 .5 .7 0 .7-1 .7-.3 .8 .7 .7 0 .7 .8 .7-1.6 .8 .6 .7 .7 .7 .8 .7-1.9 .7 .5 .8 1.3 .7-1.8 .7 1.1 .7 0 .7 .7 .8-.9 .7 1 .7-.8 .7-.9 .8 1 .7 .6 .7-1.3 .7 .7 .7-1.2 .8 .2 .7 .3 .7 1.1 .7-.7 .7-.6 .8 .2 .7 .1 .7 1 .7 0 .8 .2 .7-.4 .7-1.6 .7 .3 .7 1.5 .8-.8 .7-.1 .7 1.1 .7-.6 .7 .2 .8 .5 .7-.5 .7-.5 .7 .1 .8-1.3 .7 2 .7-.9 .7-.4 .7-.1 .8-.2 .7 0 .7 0 .7 1.2 .7-.9 .8 .7 .7 .8 .7-.7 .7 .5 .8-1.2 .7 1.2 .7-1 .7-.6 .7 1.7 .8-.1 .7-.6 .7-.8 .7 .9 .7-1 .8 1.7 .7-2.1 .7 0 .7 1.7 .8 0 .7 .3 .7-1.5 .7 .3 .7 .1 .8-.9 .7 1.9 .7-2 .7 2.2 .7-2.1 .8 1.8 .7-.3 .7-1.2 .7-.1 .8 .6 .7-.3 .7 .8 .7-.9 .7-.4 .8 .4 .7-.4 .7 .8 .7 .4 .7-.9 .8 1.7 .7-.1 .7-1.4 .7-.1 .8 0 .7 0 .7 1.4 .7-.4 .7 .6 .8-.7 .7 .7 .7 0 .7-.8 .7-1.2 .8 1.1 .7-.5 .7 1 .7-.1 .8-1.4 .7 1.8 .7-.5 .7-.6 .7-.8 .8 1.8 .7-1.5 .7 .3 .7-.5 .7 .6 .8 1.2 .7-.9 .7-.5 .7 .7 .8-.1 .7 0 .7 .5 .7-.3 .7-.5 .8-.7 .7 1.9 .7 0 .7-1.6 .7 .4 .8-.4 .7 1.6 .7-1.3 .7 .1 .8 .5 .7-1.2 .7-.1 .7 1.6 .7-.8 .8 .2 .7-.1 .7-.7 .7 .8 .7-.1 .8-.4 .7 1 .7-.7 .7-.7 .8 0 .7 1.4 .7-1.3 .7 .4 .7 .4 .8 0 .7-.6 .7 1.7 .7-.4 .7-.2 .8 .3 .7-.7 .7 .2 .7 0 .8-1.3 .7 1 .7 .7 .7-.4 .7-.1 .8 .4 .7-.5 .7-.3 .7 .4 .7-1.1 .8 1.3 .7-1.2 .7 1.3 .7-.7 .8 .5" fill="none" stroke="#1f77b4" stroke-width="2.40" stroke-linejoin="round" stroke-linecap="round"/>
<path d="M533.9 1077.2l.7-144.3M536.1 951.9l.7 124.3M537.5 1080.4l.7 31.9M562.8 1078.5l.7-118.2M567.1 1014.5l.7 140.8M604.6 1085l.7-124.1M609 1015.4l.7 141.6M639.3 1079.8l.7-127.2M643.6 1017.6l.7 133.8M671 1081.8l.7-120.4M675.3 1018.5l.7 132.1" fill="none" stroke="#1f77b4" stroke-width="2.083" stroke-dasharray="7.71 3.33"/>
<line x1="534.00" y1="1168.50" x2="534.00" y2="924.50" stroke="#ff0000" stroke-width="2.08" stroke-dasharray="7.71 3.33"/>
<line x1="563.00" y1="1168.50" x2="563.00" y2="924.50" stroke="#ff0000" stroke-width="2.08" stroke-dasharray="7.71 3.33"/>
<line x1="604.50" y1="1168.50" x2="604.50" y2="924.50" stroke="#ff0000" stroke-width="3.00" stroke-dasharray="7.71 3.33"/>
<line x1="639.00" y1="1168.50" x2="639.00" y2="924.50" stroke="#ff0000" stroke-width="2.08" stroke-dasharray="7.71 3.33"/>
<line x1="671.00" y1="1168.50" x2="671.00" y2="924.50" stroke="#ff0000" stroke-width="2.08" stroke-dasharray="7.71 3.33"/>
</g>
<rect x="64.50" y="924.50" width="1138.00" height="244.00" fill="none" stroke="#000" stroke-width="1.111" stroke-linejoin="miter"/>
<text x="112.60" y="1189.00" text-anchor="middle" font-size="13.89" textLength="8.75" lengthAdjust="spacingAndGlyphs" fill="#000">0</text>
<text x="256.89" y="1189.00" text-anchor="middle" font-size="13.89" textLength="26.25" lengthAdjust="spacingAndGlyphs" fill="#000">200</text>
<text x="401.18" y="1189.00" text-anchor="middle" font-size="13.89" textLength="26.25" lengthAdjust="spacingAndGlyphs" fill="#000">400</text>
<text x="545.46" y="1189.00" text-anchor="middle" font-size="13.89" textLength="26.38" lengthAdjust="spacingAndGlyphs" fill="#000">600</text>
<text x="689.75" y="1189.00" text-anchor="middle" font-size="13.89" textLength="26.38" lengthAdjust="spacingAndGlyphs" fill="#000">800</text>
<text x="834.04" y="1189.00" text-anchor="middle" font-size="13.89" textLength="35.12" lengthAdjust="spacingAndGlyphs" fill="#000">1000</text>
<text x="978.33" y="1189.00" text-anchor="middle" font-size="13.89" textLength="35.12" lengthAdjust="spacingAndGlyphs" fill="#000">1200</text>
<text x="1122.62" y="1189.00" text-anchor="middle" font-size="13.89" textLength="35.12" lengthAdjust="spacingAndGlyphs" fill="#000">1400</text>
<text x="53.80" y="1169.70" text-anchor="end" font-size="13.89" textLength="26.88" lengthAdjust="spacingAndGlyphs" fill="#000">-1.0</text>
<text x="53.80" y="1125.66" text-anchor="end" font-size="13.89" textLength="26.75" lengthAdjust="spacingAndGlyphs" fill="#000">-0.5</text>
<text x="53.80" y="1081.62" text-anchor="end" font-size="13.89" textLength="21.88" lengthAdjust="spacingAndGlyphs" fill="#000">0.0</text>
<text x="53.80" y="1037.58" text-anchor="end" font-size="13.89" textLength="21.88" lengthAdjust="spacingAndGlyphs" fill="#000">0.5</text>
<text x="53.80" y="993.54" text-anchor="end" font-size="13.89" textLength="22.00" lengthAdjust="spacingAndGlyphs" fill="#000">1.0</text>
<text x="53.80" y="949.50" text-anchor="end" font-size="13.89" textLength="22.00" lengthAdjust="spacingAndGlyphs" fill="#000">1.5</text>
<path d="M112.50 1168.50v4.86M256.50 1168.50v4.86M401.50 1168.50v4.86M545.50 1168.50v4.86M689.50 1168.50v4.86M834.50 1168.50v4.86M978.50 1168.50v4.86M1122.50 1168.50v4.86M64.50 1164.50h-4.86M64.50 1120.50h-4.86M64.50 1076.50h-4.86M64.50 1032.50h-4.86M64.50 988.50h-4.86M64.50 944.50h-4.86" stroke="#000" stroke-width="1.111" fill="none"/>
<text x="633.50" y="1208.00" text-anchor="middle" font-size="13.89" textLength="48.88" lengthAdjust="spacingAndGlyphs" fill="#000">minute</text>
<rect x="996.55" y="931.50" width="198.95" height="24.60" rx="2.8" ry="2.8" fill="#fff" fill-opacity="0.8" stroke="#cccccc" stroke-opacity="0.8" stroke-width="1.39"/>
<line x1="1001.05" y1="942.75" x2="1029.15" y2="942.75" stroke="#1f77b4" stroke-width="2.083" stroke-dasharray="7.71 3.33"/>
<circle cx="1015.55" cy="943.75" r="1.15" fill="#1f77b4"/>
<text x="1044.85" y="947.90" text-anchor="start" font-size="13.89" textLength="144.25" lengthAdjust="spacingAndGlyphs" fill="#000">Ws_E14_ws_rate_ma</text>
</g>
<g>
<defs><clipPath id="c4"><rect x="64.50" y="1220.50" width="1138.00" height="245.00"/></clipPath></defs>
<path d="M112.50 1220.50V1465.50M256.50 1220.50V1465.50M401.50 1220.50V1465.50M545.50 1220.50V1465.50M689.50 1220.50V1465.50M834.50 1220.50V1465.50M978.50 1220.50V1465.50M1122.50 1220.50V1465.50M64.50 1448.50H1202.50M64.50 1389.50H1202.50M64.50 1331.50H1202.50M64.50 1273.50H1202.50" stroke="#b0b0b0" stroke-width="1.111" fill="none"/>
<g clip-path="url(#c4)">
<path d="M116.2 1282.9l.7-20.2 .8 20.2 .7-19.1 .7 24.6 .7-28.1 .7 26.8 .8-23.5 .7 19.6 .7-9.6 .7-14.1 .7 23.8 .8-25 .7 28.1 .7-25.2 .7 26.6 .8-26.3 .7 24.5 .7-24.2 .7 25.6 .7-25.7 .8 23.2 .7-23.3 .7 24.2 .7-26 .7 24.8 .8-21 .7 21.3 .7-23.7 .7 12.4 .8 13.6 .7-13.6 .7 17.9 .7-17.9 .7 19.1 .8-19.1 .7 13.4 .7 .4 .7-24 .7 21.1 .8-10.9 .7 0 .7-10.7 .7 10.7 .8-16.6 .7 16.6 .7-15.1 .7 15.1 .7-13.9 .8 13.9 .7-15.4 .7 15.4 .7-13.9 .7 13.9 .8-11.1 .7 11.1 .7-11.2 .7 11.2 .8-13 .7 13 .7-15.2 .7 15.2 .7-12.5 .8 12.5 .7-11.5 .7 11.5 .7 0 .7 0 .8-14.9 .7 32.9 .7-35.9 .7 31.8 .8-31.2 .7 30.7 .7-28.1 .7 31.9 .7-34.4 .8 29.4 .7-22.9 .7 10.7 .7 0 .7 14.4 .8-14.4 .7 17.3 .7-17.3 .7 19.5 .8-19.5 .7 16.9 .7-16.9 .7 13 .7-13 .8-12.8 .7 30.7 .7-31 .7 28.3 .7-29.4 .8 34.2 .7-33.7 .7 33 .7-32.9 .8 26 .7-26.9 .7 29.8 .7-30 .7 31.8 .8-31.6 .7 31.4 .7-28.3 .7 22.8 .7-22.8 .8 27.6 .7-32.3 .7 34.2 .7-32.5 .8 30.1 .7-29 .7 24.3 .7-24.4 .7 25.8 .8-28.8 .7 28.1 .7-22.6 .7 21.7 .7-23.6 .8 26 .7-26.7 .7 23.6 .7-22.7 .8 12.6 .7 0 .7 0 .7 0 .7 0 .8 14.8 .7-14.8 .7 9.5 .7-9.5 .7 12.7 .8-12.7 .7 0 .7 12.8 .7-12.8 .8 10.5 .7-10.5 .7 12.3 .7 3.3 .7-29.1 .8 32.3 .7-34.8 .7 33.7 .7-4.4 .7-13.3 .8 12.5 .7-12.5 .7 16.3 .7-16.3 .8-12.6 .7 32.3 .7-38.9 .7 37.2 .7-35.2 .8 29.4 .7-27.9 .7 30.9 .7-30 .7 29.2 .8-28.8 .7 14.4 .7 0 .7 19.4 .8-38 .7 36.7 .7-35.2 .7 30.9 .7 3.2 .8-17 .7 15.2 .7-15.2 .7-11.3 .7 11.3 .8-16.6 .7 16.6 .7-13.4 .7 13.4 .8-15.9 .7 15.9 .7-16.7 .7 16.7 .7-11.2 .8 11.2 .7-11.8 .7 11.8 .7-13.8 .7 13.8 .8-15.4 .7 15.4 .7-12.4 .7 12.4 .8-15 .7 15 .7-10.9 .7 27 .7-29.6 .8 25.6 .7-28.2 .7 26.3 .7-24.5 .7 26.7 .8-27.6 .7 26.5 .7-22.7 .7 25.7 .8-26.5 .7 24.9 .7-24.9 .7 27.3 .7 .6 .8-15.7 .7 14.9 .7 12.1 .7-13.4 .7-13.6 .8-10.3 .7 10.3 .7-13.8 .7 13.8 .8-15.7 .7 15.7 .7-12.2 .7 30.1 .7-37 .8 38.1 .7-35.9 .7 33.3 .7-34.5 .7 37.7 .8-33.9 .7 31.9 .7-17.6 .7 0 .8-17.3 .7 33.5 .7-32.5 .7 29.1 .7-27.7 .8 29.2 .7-30.8 .7 35.4 .7-37.2 .7 32.8 .8-29.2 .7 32.5 .7-34 .7 31.6 .8-30.9 .7 31 .7-28.6 .7 25.2 .7-25.2 .8 24.9 .7-25.6 .7 28.3 .7-28.7 .7 27.8 .8-28.6 .7 42 .7-37.6 .7 21 .8-23.8 .7 23.7 .7-22.9 .7 27.2 .7-27.6 .8 24.2 .7-25.2 .7 14 .7 0 .7 15.4 .8-15.4 .7 17.7 .7-17.7 .7 15.2 .8-15.2 .7 13.1 .7-13.1 .7 11.8 .7-11.8 .8 11.5 .7-11.5 .7-17 .7 32.4 .7-31.5 .8 29 .7-27.4 .7 31.1 .7-31.1 .8 29 .7-14.5 .7-14 .7 14 .7-11.5 .8 11.5 .7-15.9 .7 15.9 .7-11.5 .7 11.5 .8-15 .7 15 .7-13.7 .7 29 .8-31.6 .7 27.9 .7-26.7 .7 15.1 .7 13.4 .8-13.4 .7 17.2 .7-17.2 .7 19.3 .7-19.3 .8 12.3 .7-12.3 .7 19 .7-19 .8 15.1 .7-15.1 .7 0 .7-11.1 .7 29.1 .8-33.6 .7 15.6 .7 13.2 .7-26.7 .7 29.6 .8-33.5 .7 32.6 .7-30.5 .7 15.3 .8 0 .7 11.8 .7-29.2 .7 33.4 .7-26.9 .8 22.1 .7-22 .7 27.9 .7-32 .7 14.9 .8 12.8 .7-12.8 .7 13.7 .7-13.7 .8 14 .7-14 .7-13.3 .7 27.4 .7-25.2 .8 29.5 .7-30.4 .7 39 .7-45 .7 30.5 .8-29.6 .7 35.4 .7-34 .7 31.2 .8-32.3 .7 30.7 .7-30 .7 31.7 .7-32.8 .8 28 .7-10.8 .7 0 .7-13.6 .7 13.6 .8-14.9 .7 14.9 .7-11.7 .7 11.7 .8 15.1 .7-15.1 .7 14 .7-14 .7 13 .8-13 .7 12.3 .7-12.3 .7 9.5 .7-9.5 .8-10.1 .7 24.7 .7-29.7 .7 30.3 .8-24.7 .7 21.2 .7-26 .7 26.6 .7-22.9 .8 24.2 .7-23.5 .7 21 .7-24 .7 27.3 .8-25.3 .7 21.3 .7-25.8 .7 26.9 .8-26.5 .7 15 .7-12.5 .7 12.5 .7-13 .8 40 .7-39.2 .7 23.7 .7-22.7 .7 23.2 .8-24 .7 22.6 .7-23.1 .7 25.8 .8-25.2 .7 24.9 .7-25.4 .7 26.3 .7-30.4 .8 34.5 .7-30.4 .7 23 .7-21.9 .7 23.4 .8-24.4 .7 28.1 .7-27 .7 24.3 .8-26.4 .7 26.5 .7-29.5 .7 31 .7-26.2 .8 21.7 .7-21.3 .7 22.3 .7-24.8 .7 25.5 .8-23.8 .7 25.7 .7-29.2 .7 25.4 .8-26.1 .7 26.3 .7-26.5 .7 30.5 .7-30.3 .8 30.1 .7-28.9 .7 14.9 .7-15.8 .7 15.8 .8-18.2 .7 18.2 .7-17.2 .7 17.2 .8-12.4 .7 12.4 .7-17.6 .7 17.6 .7-16.9 .8 30.5 .7-27.4 .7 30.7 .7-32.9 .7 28.3 .8 5.9 .7-18.2 .7-5.8 .7 5.6 .8 25.1 .7-15.8 .7 21.8 .7-11.5 .7 21.4 .8-12.5 .7 26.4 .7-14.3 .7 23.6 .7-15.1 .8 14.2 .7-22.9 .7-21.8 .7-31.8 .8 27.7 .7-30.6 .7 35.9 .7-35.9 .7 32.5 .8-32.9 .7 36.8 .7-31 .7 31.3 .7-35.7 .8 37.3 .7-32.9 .7 25.3 .7-25.8 .8 27.4 .7 28.4 .7-21.3 .7 22.1 .7-20.9 .8 22.5 .7-21 .7 21.7 .7-22 .7 22.1 .8-21.4 .7 17 .7-18.1 .7 21.5 .8-20.5 .7 19.5 .7-21.5 .7 22.1 .7-20.6 .8 19.5 .7-21.5 .7 23.9 .7-21.6 .7 20.4 .8-24.6 .7 22.9 .7-18.3 .7-29.6 .8 25.7 .7-25.9 .7 26.5 .7 23.9 .7-11.9 .8 8.5 .7-58.5 .7 59.2 .7-59.2 .7 59.5 .8-9.5 .7 8.6 .7-8.6 .7 11.1 .8-8.1 .7 13.9 .7-25.4 .7 24.7 .7-31.1 .8 36.2 .7-32.6 .7 26.1 .7-27 .7 31.1 .8-27.2 .7 22.5 .7-27.7 .7 34.7 .8-32.3 .7 31.7 .7-35.1 .7 31.6 .7-29.1 .8 25.3 .7-20.7 .7 24.4 .7-26.4 .7 23.2 .8-22.5 .7 22.7 .7 7.7 .7 0 26.7 7.9 .7 0 .8-6.5 .7 12.7 .7-13.3 .7 12.5 .8 0 24.5 16.9 .7-12.7 .7 16.9 .8-20.9 .7 18.8 .7-42.4 .7 39.1 .7-44.8 .8 33.8 .7-43.7 .7 38.5 .7-41.7 .7 35 .8-38.2 .7 28 .7-20 .7-3.3 .8-3.4 .7-24.7 .7 40.4 .7-45.3 .7 37.1 .8 30 .7 0 .7 0 .7 0 .7 0 22.4 41 .7 35.9M634.2 1412.3l.7-59.3 26-3 .7-24.4 .7 55.7 .8-50.2 .7 49.7 .7-55.5 .7 56.8 .7-57.4 .8 54.3 .7-56.6 .7 56.4 .7-23.8 23.8-9 .8 0 .7 38 .7-69.4 .7 55.7 .7-43.8 .8 68.5M697.7 1316.5l.7 48 .7-37.9 .8 38.2 .7-32.5 .7 46.2 .7-50.4 .7-28.1 .8 16.7 .7 55 .7-39.6 .7 32.4 .7-30 .8 53 .7-68.9 .7 50.8M710 1363.3l.7-34.7 .7 38.1 .7-51.9M714.3 1386.6l.7-69 .7 67.7M717.9 1312l.7 52.5 .7-54.8 .8 61.8M721.5 1376.8l.7-59.4 .7 52.8 .8-50.4 .7 50.3 .7-58.1 .7-52M726.5 1333.3l.8 35.1 .7-58.9M728.7 1388.8l.7 45.2 .8-68.9 .7-41.9 .7 40.9 .7-30 .7 36.8 .8-49.8 .7 44.9 .7-47.6 .7 50.7 .7-46.1 .8 63.8 .7-68.7 .7-37.1 .7 36.4 .8 61.8 .7-48 .7 49.3 .7-58.3M743.9 1328.3l.7 38.5 .7-34.8 .7 36.2 .7-44.3 .8 42.2 .7-33.3 .7 49.3 .7-65 .8 55.4M751.1 1295.5l.7 43.7 .7-31.2 .7 27.9 .8-32.2 .7 31.4 .7-29.5 .7 24.9 .7-33.9 .8 47.3 .7-42.4 .7 39.8 .7-38 .8 42.3 .7-37.8 .7 38.7 .7-34.9 .7 24.7 .8-38.3 .7 40.4 .7-34.4 .7 36.9 .7-43.1 .8 39 .7-39 .7 44.9 .7-43.1 .8 35.4 .7-26 .7 22 .7-24.9 .7 25.5 .8-36 .7 42.5 .7-39.7 .7 36.9 .7-53.7 .8 60.3 .7-44 .7-37.9 .7 42 .8 7.4 .7-15.4 .7 15.9 .7-17.2 .7 18.1 .8-60 .7 60.5 .7-17.5 .7 14.6 .7-12.8 .8 12.1 .7 16.2 .7-15.4 .7-33.5 .8 35.1 .7-16.4 .7 16.4 .7-13.7 .7 10.8 .8-12.9 .7 7.7 .7 7.8 .7-12.9 .7 11.3 .8-12 .7 13.3 .7-15.3 .7-29.6 .8 31.8 .7 11.5 .7-13.7 .7 13.9 .7-13.2 .8 14.9 .7-14.4 .7 15.7 .7-16.8 .7 13.9 .8-12 .7 14.2 .7-16.7 .7 14.5 .8-59.3 .7 61.6 .7-17 .7 15 .7-12.4 .8 14.8 .7-17.1 .7 16.7 .7-14.9 .7 12.5 .8-11.8 .7 14 .7-60 .7 59 .8-15.2 .7 14.9 .7-15.6 .7 15.7 .7-14.5 .8 13.6 .7-12.9 .7 14.5 .7-15.3 .7 13.1 .8-12.5 .7 13.1 .7-12.5 .7 12.5 .8-13.2 .7 15.2 .7-31.3 .7 25.2 .7-25 .8 29.1 .7-26 .7 22.3 .7-23.1 .7 22.6 .8-49 .7 50.6 .7-27.2 .7 24.7 .8-54.1 .7 26.6 .7 4.2 .7 27.8 .7-34.5 .8 37.4 .7-32.4 .7 32 .7-35.3 .7 35.3 .8-31.6 .7 30.6 .7-34.3 .7 29.3 .8-24.8 .7 27.9 .7-26.3 .7 26.8 .7-24.5 .8 20.9 .7-22.5 .7 7.8 .7-15.8 .7 15.6 .8-15.6 .7 13.4 .7-13.4 .7 18.1 .8-18.1 .7 13.7 .7-13.7 .7 16.6 .7-16.6 .8 14.5 .7-1.9 .7-27.2 .7 25.6 .7-22.9 .8 21.9 .7-20.2 .7 10.2 .7-16.4 .8 16.4 .7-15.3 .7 15.3 .7-16.5 .7 16.5 .8-17.2 .7 32 .7-31.3 .7 32.6 .7-26.7 .8 22.9 .7-26 .7 30.2 .7-31 .8 31.6 .7-29.2 .7 27.4 .7-15.3 .7 12.7 .8-12.7 .7 11.1 .7-11.1 .7 10.1 .7-10.1 .8 11.5 .7-11.5 .7 0 .7 0 .8 12.8 .7-12.8 .7 19.3 .7-19.3 .7 0 .8 16.3 .7-16.3 .7 15.6 .7-15.6 .7-18.1 .8 34.2 .7-34.3 .7 34.3 .7-32.8 .8 35.2 .7-31.9 .7 27 .7-31.3 .7 33.3 .8-36.1 .7 39.6 .7-35.9 .7 16.8 .7 0 .8 12.9 .7-12.9 .7 16.3 .7-16.3 .8 19.7 .7-19.7 .7 12.1 .7-12.1 .7 12.3 .8-12.3 .7 19 .7-19 .7 16.3 .7-16.3 .8 13.6 .7-13.6 .7 19.8 .7-19.8 .8-13 .7 13 .7-12.1 .7 12.1 .7-17.6 .8 17.6 .7 13.6 .7-13.6 .7 12.9 .7-12.9 .8 16.1 .7-16.1 .7 0 .7 0 .8 0 .7 14.4 .7-14.4 .7 12.9 .7-12.9 .8 13.5 .7-13.5 .7 13.4 .7-13.4 .7 16.1 .8-16.1 .7 16 .7-16 .7 17.7 .8-17.7 .7 17.9 .7-38.4 .7 32.7 .7-12.2 .8 15 .7-15 .7 14.7 .7-14.7 .7 14 .8-14 .7 14.2 .7-14.2 .7 16 .8-16 .7 0 .7 13.5 .7-13.5 .7 14.5 .8-14.5 .7 11 .7-11 .7 15.1 .7-15.1 .8 17.8 .7-17.8 .7 13.2 .7-13.2 .8 17.3 .7-17.3 .7 16.8 .7-16.8 .7 16.3 .8-16.3 .7 13.3 .7-13.3 .7 13.1 .7-13.1 .8 14.4 .7-14.4 .7 10.5 .7 4.1 .8-32.6 .7 36.2 .7-37.2 .7 32 .7-24.9 .8 29.8 .7-30.4 .7 29.2 .7-35.9 .7 32.4 .8-31.5 .7 37.4 .7-33.8 .7 27.8 .8-30.8 .7 33.1 .7-29.3 .7 29.6 .7-29.7 .8 32.5 .7-8 .7-10.5 .7 11.5 .7-11.5 .8 10.7 .7-10.7 .7 13.3 .7-13.3 .8 15.9 .7-15.9 .7 14.3 .7-14.3 .7 13.9 .8-13.9 .7 13.9 .7-13.9 .7-12.9 .7 31.2 .8-33.6 .7 31.9 .7-34 .7 33.8 .8-35.1 .7 32.8 .7-25.7 .7 23.5 .7-29.1 .8 28.7 .7-26.5 .7 15 .7 18 .7-18 .8 11.1 .7-11.1 .7 16 .7-16 .8 15.2 .7 .2 .7-33.6 .7 37.8 .7-37.8 .8 30.7 .7-24.9 .7 26.1 .7-26.9 .8 31.8 .7-32.2 .7 31 .7-31.7 .7 31.7 .8-29.5 .7 28.1 .7-31.9 .7 31.3 .7-27.7 .8 28.1 .7-27.9 .7 29.2 .7-30.2 .8 13.1 .7 13.3 .7-13.3 .7 13.4 .7-13.4 .8 15.4 .7-15.4 .7 15.6 .7-15.6 .7 14.8 .8-14.8 .7 11.3 .7 5.8 .7-36.1 .8 34.4 .7-28.9 .7 29.7 .7-29.2 .7 27.1 .8-30.4 .7 35.7 .7-31.9 .7 27.2 .7-28.1 .8 13.4 .7-13.6 .7 13.6 .7-13.1 .8 13.1 .7-15.1 .7 15.1 .7-16.3 .7 16.3 .8 13.1 .7-13.1 .7 17.2 .7-17.2 .7-17 .8 17 .7-12.7 .7 12.7 .7-17.7 .8 17.7 .7-18.3 .7 18.3 .7-14.4 .7 14.4 .8-17.8 .7 17.8 .7-15.1 .7 15.1 .7-11 .8 11 .7-14.1 .7 14.1 .7-16.1 .8 16.1 .7-16 .7 16 .7-11.2 .7 27 .8-30.1 .7 26.5 .7-23.5 .7 22.2 .7-26 .8 29.5 .7-26.5 .7 22.7 .7-24.3 .8 46.7 .7-15.7 .7-17.3 .7 13.9 .7-13.9 .8 16.1 .7-16.1 .7 12 .7-12 .7 12.1 .8-12.1 .7 14.3 .7-14.3 .7 11.7 .8-11.7 .7 15.1 .7-15.1 .7 14.1 .7-14.1 .8 14 .7-14 .7-18.1 .7 33.2 .7-30.8 .8 33.3 .7-29.1 .7 26.1 .7-29.8 .8 30.8 .7-30.4 .7 28.2 .7-26.2 .7 29.2 .8-28.1 .7 28.7 .7-29.4 .7 23.5 .7-24.1 .8 30.7 .7-4.2 .7-13.5 .7 14.1 .8-14.1 .7 13.4 .7-13.4 .7 15.6 .7-15.6 .8 0 .7 16.1 .7-16.1 .7 12.2 .7-12.2 .8 13.7 .7-13.7 .7 15 .7-15 .8 15.7 .7-15.7 .7 16.1 .7-16.1 .7 10.1 .8-10.1 .7 13.6 .7-13.6 .7 10.1 .7-10.1 .8 14.7 .7-14.7 .7 0 .7 0 .8 0 .7 0 .7 12.4 .7-12.4 .7 13.7 .8-13.7 .7 16 .7-4.5 .7-23.7 .7 22.2 .8-25.1 .7 15.1 .7-16.7 .7 16.7 .8-11.8 .7 11.8 .7-14 .7 14 .7-15.4 .8 15.4 .7-12 .7 12 .7 0 .7 0 .8 0 .7 0 .7 0 .7 0 .8 0" fill="none" stroke="#1f77b4" stroke-width="2.30" stroke-linejoin="round" stroke-linecap="round"/>
<path d="M628.4 1413.9l.8-80M629.2 1333.9l.7 86.3M629.9 1420.2l.7-101.5M630.6 1318.7l.7 86.3M631.3 1405l.7-87.9M632 1317.1l.8 93.1M632.8 1410.2l.7-80M633.5 1330.2l.7 82.1M697 1395l.7-78.5M708.5 1369.4l.7-138.4M709.2 1231l.8 132.3M712.1 1314.8l.7 139.2M712.8 1454l.8-141.5M713.6 1312.5l.7 74.1M715.7 1385.3l.7-73.5M716.4 1311.8l.8 94.2M717.2 1406l.7-94M720.1 1371.5l.7-96.2M720.8 1275.3l.7 101.5M725.8 1260l.7 73.3M728 1309.5l.7 79.3M742.4 1322.2l.7 115.8M743.1 1438l.8-109.7M750.4 1372.5l.7-77" fill="none" stroke="#1f77b4" stroke-width="2.083" stroke-dasharray="7.71 3.33"/>
<line x1="534.00" y1="1465.50" x2="534.00" y2="1220.50" stroke="#ff0000" stroke-width="2.08" stroke-dasharray="7.71 3.33"/>
<line x1="563.00" y1="1465.50" x2="563.00" y2="1220.50" stroke="#ff0000" stroke-width="2.08" stroke-dasharray="7.71 3.33"/>
<line x1="604.50" y1="1465.50" x2="604.50" y2="1220.50" stroke="#ff0000" stroke-width="3.00" stroke-dasharray="7.71 3.33"/>
<line x1="639.00" y1="1465.50" x2="639.00" y2="1220.50" stroke="#ff0000" stroke-width="2.08" stroke-dasharray="7.71 3.33"/>
<line x1="671.00" y1="1465.50" x2="671.00" y2="1220.50" stroke="#ff0000" stroke-width="2.08" stroke-dasharray="7.71 3.33"/>
</g>
<rect x="64.50" y="1220.50" width="1138.00" height="245.00" fill="none" stroke="#000" stroke-width="1.111" stroke-linejoin="miter"/>
<text x="112.60" y="1486.00" text-anchor="middle" font-size="13.89" textLength="8.75" lengthAdjust="spacingAndGlyphs" fill="#000">0</text>
<text x="256.89" y="1486.00" text-anchor="middle" font-size="13.89" textLength="26.25" lengthAdjust="spacingAndGlyphs" fill="#000">200</text>
<text x="401.18" y="1486.00" text-anchor="middle" font-size="13.89" textLength="26.25" lengthAdjust="spacingAndGlyphs" fill="#000">400</text>
<text x="545.46" y="1486.00" text-anchor="middle" font-size="13.89" textLength="26.38" lengthAdjust="spacingAndGlyphs" fill="#000">600</text>
<text x="689.75" y="1486.00" text-anchor="middle" font-size="13.89" textLength="26.38" lengthAdjust="spacingAndGlyphs" fill="#000">800</text>
<text x="834.04" y="1486.00" text-anchor="middle" font-size="13.89" textLength="35.12" lengthAdjust="spacingAndGlyphs" fill="#000">1000</text>
<text x="978.33" y="1486.00" text-anchor="middle" font-size="13.89" textLength="35.12" lengthAdjust="spacingAndGlyphs" fill="#000">1200</text>
<text x="1122.62" y="1486.00" text-anchor="middle" font-size="13.89" textLength="35.12" lengthAdjust="spacingAndGlyphs" fill="#000">1400</text>
<text x="53.80" y="1453.25" text-anchor="end" font-size="13.89" textLength="35.62" lengthAdjust="spacingAndGlyphs" fill="#000">-0.15</text>
<text x="53.80" y="1395.10" text-anchor="end" font-size="13.89" textLength="35.62" lengthAdjust="spacingAndGlyphs" fill="#000">-0.10</text>
<text x="53.80" y="1336.95" text-anchor="end" font-size="13.89" textLength="35.50" lengthAdjust="spacingAndGlyphs" fill="#000">-0.05</text>
<text x="53.80" y="1278.80" text-anchor="end" font-size="13.89" textLength="30.62" lengthAdjust="spacingAndGlyphs" fill="#000">0.00</text>
<path d="M112.50 1465.50v4.86M256.50 1465.50v4.86M401.50 1465.50v4.86M545.50 1465.50v4.86M689.50 1465.50v4.86M834.50 1465.50v4.86M978.50 1465.50v4.86M1122.50 1465.50v4.86M64.50 1448.50h-4.86M64.50 1389.50h-4.86M64.50 1331.50h-4.86M64.50 1273.50h-4.86" stroke="#000" stroke-width="1.111" fill="none"/>
<text x="633.50" y="1505.00" text-anchor="middle" font-size="13.89" textLength="48.88" lengthAdjust="spacingAndGlyphs" fill="#000">minute</text>
<rect x="1001.05" y="1228.20" width="194.45" height="24.60" rx="2.8" ry="2.8" fill="#fff" fill-opacity="0.8" stroke="#cccccc" stroke-opacity="0.8" stroke-width="1.39"/>
<line x1="1005.55" y1="1239.45" x2="1033.65" y2="1239.45" stroke="#1f77b4" stroke-width="2.083" stroke-dasharray="7.71 3.33"/>
<circle cx="1020.05" cy="1240.45" r="1.15" fill="#1f77b4"/>
<text x="1049.35" y="1244.60" text-anchor="start" font-size="13.89" textLength="139.75" lengthAdjust="spacingAndGlyphs" fill="#000">Ws_E14_et_rate_ma</text>
</g>
<g>
<defs><clipPath id="c5"><rect x="64.50" y="1516.50" width="1138.00" height="245.00"/></clipPath></defs>
<path d="M112.50 1516.50V1761.50M256.50 1516.50V1761.50M401.50 1516.50V1761.50M545.50 1516.50V1761.50M689.50 1516.50V1761.50M834.50 1516.50V1761.50M978.50 1516.50V1761.50M1122.50 1516.50V1761.50M64.50 1718.50H1202.50M64.50 1674.50H1202.50M64.50 1630.50H1202.50M64.50 1585.50H1202.50M64.50 1541.50H1202.50" stroke="#b0b0b0" stroke-width="1.111" fill="none"/>
<g clip-path="url(#c5)">
<path d="M116.2 1674.6l.7 0 .8 0 .7 0 .7 0 .7 0 .7 0 .8 0 .7 0 .7 0 .7 0 .7 0 .8 0 .7 0 .7 0 .7 0 .8 0 .7 0 .7 0 .7 0 .7 0 .8 0 .7 0 .7 0 .7 0 .7 0 .8 0 .7 0 .7 0 .7 0 .8 0 .7 0 .7 0 .7 0 .7 0 .8 0 .7 0 .7 0 .7 0 .7 0 .8 0 .7 0 .7 0 .7 0 .8 0 .7 0 .7 0 .7 0 .7 0 .8 0 .7 0 .7 0 .7 0 .7 0 .8 0 .7 0 .7 0 .7 0 .8 0 .7 0 .7 0 .7 0 .7 0 .8 0 .7 0 .7 0 .7 0 .7 0 .8 0 .7 0 .7 0 .7 0 .8 0 .7 0 .7 0 .7 0 .7 0 .8 0 .7 0 .7 0 .7 0 .7 0 .8 0 .7 0 .7 0 .7 0 .8 0 .7 0 .7 0 .7 0 .7 0 .8 0 .7 0 .7 0 .7 0 .7 0 .8 0 .7 0 .7 0 .7 0 .8 0 .7 0 .7 0 .7 0 .7 0 .8 0 .7 0 .7 0 .7 0 .7 0 .8 0 .7 0 .7 0 .7 0 .8 0 .7 0 .7 0 .7 0 .7 0 .8 0 .7 0 .7 0 .7 0 .7 0 .8 0 .7 0 .7 0 .7 0 .8 0 .7 0 .7 0 .7 0 .7 0 .8 0 .7 0 .7 0 .7 0 .7 0 .8 0 .7 0 .7 0 .7 0 .8 0 .7 0 .7 0 .7 0 .7 0 .8 0 .7 0 .7 0 .7 0 .7 0 .8 0 .7 0 .7 0 .7 0 .8 0 .7 0 .7 0 .7 0 .7 0 .8 0 .7 0 .7 0 .7 0 .7 0 .8 0 .7 0 .7 0 .7 0 .8 0 .7 0 .7 0 .7 0 .7 0 .8 0 .7 0 .7 0 .7 0 .7 0 .8 0 .7 0 .7 0 .7 0 .8 0 .7 0 .7 0 .7 0 .7 0 .8 0 .7 0 .7 0 .7 0 .7 0 .8 0 .7 0 .7 0 .7 0 .8 0 .7 0 .7 0 .7 0 .7 0 .8 0 .7 0 .7 0 .7 0 .7 0 .8 0 .7 0 .7 0 .7 0 .8 0 .7 0 .7 0 .7 0 .7 0 .8 0 .7 0 .7 0 .7 0 .7 0 .8 0 .7 0 .7 0 .7 0 .8 0 .7 0 .7 0 .7 0 .7 0 .8 0 .7 0 .7 0 .7 0 .7 0 .8 0 .7 0 .7 0 .7 0 .8 0 .7 0 .7 0 .7 0 .7 0 .8 0 .7 0 .7 0 .7 0 .7 0 .8 0 .7 0 .7 0 .7 0 .8 0 .7 0 .7 0 .7 0 .7 0 .8 0 .7 0 .7 0 .7 0 .7 0 .8 0 .7 0 .7 0 .7 0 .8 0 .7 0 .7 0 .7 0 .7 0 .8 0 .7 0 .7 0 .7 0 .7 0 .8 0 .7 0 .7 0 .7 0 .8 0 .7 0 .7 0 .7 0 .7 0 .8 0 .7 0 .7 0 .7 0 .7 0 .8 0 .7 0 .7 0 .7 0 .8 0 .7 0 .7 0 .7 0 .7 0 .8 0 .7 0 .7 0 .7 0 .7 0 .8 0 .7 0 .7 0 .7 0 .8 0 .7 0 .7 0 .7 0 .7 0 .8 0 .7 0 .7 0 .7 0 .7 0 .8 0 .7 0 .7 0 .7 0 .8 0 .7 0 .7 0 .7 0 .7 0 .8 0 .7 0 .7 0 .7 0 .7 0 .8 0 .7 0 .7 0 .7 0 .8 0 .7 0 .7 0 .7 0 .7 0 .8 0 .7 0 .7 0 .7 0 .7 0 .8 0 .7 0 .7 0 .7 0 .8 0 .7 0 .7 0 .7 0 .7 0 .8 0 .7 0 .7 0 .7 0 .7 0 .8 0 .7 0 .7 0 .7 0 .8 0 .7 0 .7 0 .7 0 .7 0 .8 0 .7 0 .7 0 .7 0 .7 0 .8 0 .7 0 .7 0 .7 0 .8 0 .7 0 .7 0 .7 0 .7 0 .8 0 .7 0 .7 0 .7 0 .7 0 .8 0 .7 0 .7 0 .7 0 .8 0 .7 0 .7 0 .7 0 .7 0 .8 0 .7 0 .7 0 .7 0 .7 0 .8 0 .7 0 .7 0 .7 0 .8 0 .7 0 .7 0 .7 0 .7 0 .8 0 .7 0 .7 0 .7 0 .7 0 .8 0 .7 0 .7 0 .7 0 .8 0 .7 0 .7 0 .7 0 .7 0 .8 0 .7 0 .7 0 .7 0 .7 0 .8 0 .7 0 .7 0 .7 0 .8 0 .7 0 .7 0 .7 0 .7 0 .8 0 .7 0 .7 0 .7 0 .7 0 .8 0 .7 0 .7 0 .7 0 .8 0 .7 0 .7 0 .7 0 .7 0 .8 0 .7 0 .7 0 .7 0 .7 0 .8 0 .7 0 .7 0 .7 0 .8 0 .7 0 .7 0 .7 0 .7 0 .8 0 .7 0 .7 0 .7 0 .7 0 .8 0 .7 0 .7 0 .7 0 .8 0 .7 0 .7 0 .7 0 .7 0 .8 0 .7 0 .7 0 .7 0 .7 0 .8 0 .7 0 .7 0 .7 0 .8 0 .7 0 .7 0 .7 0 .7 0 .8 0 .7 0 .7 0 .7 0 .7 0 .8 0 .7 0 .7 0 .7 0 .8 0 .7 0 .7 0 .7 0 .7 0 .8 0 .7 0 .7 0 .7 0 .7 0 .8 0 .7 0 .7 0 .7 0 .8 0 .7 0 .7 0 .7 0 .7 0 .8 0 .7 0 .7 0 .7 0 .7 0 .8 0 .7 0 .7 0 .7 0 .8 0 .7 0 .7 0 .7 0 .7 0 .8 0 .7 0 .7 0 .7 0 .7 0 .8 0 .7 0 .7 0 .7 0 .8 0 .7 0 .7 0 .7 0 .7 0 .8 0 .7 0 .7 0 .7 0 .7 0 .8 0 .7 0 .7 0 .7 0 .8 0 .7 0 .7 0 .7 0 .7 0 .8 0 .7 0 .7 0 .7 0 .7 0 .8 0 .7 0 .7 0 .7 0 .8 0 .7 0 .7 0 .7 0M534.6 1525.8l.8 15.4 .7 8.3M536.8 1675l.7 3.6M538.2 1704.7l.8-3.4 .7-8.5 .7-4.8 .7-3.9 .8-3.3 .7-4 .7-1.4 .7-.5 .7-1 .8-1 .7 1.4 .7-1.2 .7 .3 .7-1.1 .8 .3 .7-.3 .7 .9 .7-.5 .8 1.2 .7-.6 .7 .4 .7 0 .7 .8 .8 0 .7 .1 .7 0 .7 0 .7 0 .8 0 .7 0 .7 0 .7 0 .8 0 .7 0M563.5 1549.1l.7 18.7 .7 14.9 .8 11.2 .7 11.8 .7 10.4M568.6 1726.7l.7-13.7 .7-13.8 .7-7.7 .7-3.8 .8-6.6 .7-.6 .7-2.4 .7-2.1 .7-.5 .8-2 .7-.2 .7-.5 .7 .5 .8-.2 .7-.3 .7 .5 .7 .4 .7 .1 .8-.1 .7 .6 .7-.3 .7 .2 .7 .2 .8 .2 .7 0 .7 0 .7 0 .8 0 .7 0 .7 0 .7 0 .7 0 .8 0 .7 0 .7 0 .7 0 .7 0 .8 0 .7 0 .7 0 .7 0 .8 0 .7 0 .7 0 .7 0 .7 0 .8 0 .7 0 .7 0 .7 0M605.3 1552.8l.8 14.5 .7 16.8 .7 7.6 .7 10.8 .8 11.1M609.7 1746.7l.7-18.6 .7-15.5 .7-13 .8-6.8 .7-8 .7-3.9 .7-3.1 .7-1.9 .8-.1 .7-2.1 .7 1.3 .7-1.8 .8 .4 .7-1 .7 .4 .7-.5 .7 1.2 .8-.2 .7 0 .7 0 .7 .4 .7 .5 .8-.2 .7 .2 .7 .2 .7 0 .8 0 .7 0 .7 0 .7 0 .7 0 .8 0 .7 0 .7 0 .7 0 .7 0 .8 0 .7 0 .7 0 .7 0 .8 0M640 1545.1l.7 20 .7 14.2 .7 14 .8 8.5 .7 14.4M645 1722.5l.7-11.5 .8-12.6 .7-6.1 .7-6 .7-5.1 .8-2.6 .7-1.1 .7-1.9 .7 .1 .7-2 .8-.9 .7 .5 .7-.6 .7 1.1 .7-1.3 .8 .3 .7 .8 .7 .2 .7 .2 .8 .1 .7 0 .7 .4 .7 .1 .7 0 .8 0 .7 0 .7 0 .7 0 .7 0 .8 0 .7 0 .7 0 .7 0 .8 0 .7 0 .7 0M671.7 1551.3l.7 16.1 .8 16.2 .7 9.7 .7 12.8 .7 6.5M676 1741.5l.8-18.6 .7-12.9 .7-13 .7-7 .8-3.8 .7-3.5 .7-3 .7-3.5 .7 .8 .8-1.1 .7-1.6 .7-.2 .7-.6 .7-.1 .8 .3 .7 .3 .7-.2 .7-.2 .8 .5 .7 0 .7 .1 .7 0 .7 .3 .8 0 .7 .1 .7 0 .7 0 .7 0 .8 0 .7 0 .7 0 .7 0 .8 0 .7 0 .7 0 .7 0 .7 0 .8 0 .7 0 .7 0 .7 0 .7 0 .8 0 .7 0 .7 0 .7 0 .8 0 .7 0 .7 0 .7 0 .7 0 .8 0 .7 0 .7 0 .7 0 .7 0 .8 0 .7 0 .7 0 .7 0 .8 0 .7 0 .7 0 .7 0 .7 0 .8 0 .7 0 .7 0 .7 0 .7 0 .8 0 .7 0 .7 0 .7 0 .8 0 .7 0 .7 0 .7 0 .7 0 .8 0 .7 0 .7 0 .7 0 .7 0 .8 0 .7 0 .7 0 .7 0 .8 0 .7 0 .7 0 .7 0 .7 0 .8 0 .7 0 .7 0 .7 0 .7 0 .8 0 .7 0 .7 0 .7 0 .8 0 .7 0 .7 0 .7 0 .7 0 .8 0 .7 0 .7 0 .7 0 .7 0 .8 0 .7 0 .7 0 .7 0 .8 0 .7 0 .7 0 .7 0 .7 0 .8 0 .7 0 .7 0 .7 0 .7 0 .8 0 .7 0 .7 0 .7 0 .8 0 .7 0 .7 0 .7 0 .7 0 .8 0 .7 0 .7 0 .7 0 .7 0 .8 0 .7 0 .7 0 .7 0 .8 0 .7 0 .7 0 .7 0 .7 0 .8 0 .7 0 .7 0 .7 0 .7 0 .8 0 .7 0 .7 0 .7 0 .8 0 .7 0 .7 0 .7 0 .7 0 .8 0 .7 0 .7 0 .7 0 .7 0 .8 0 .7 0 .7 0 .7 0 .8 0 .7 0 .7 0 .7 0 .7 0 .8 0 .7 0 .7 0 .7 0 .7 0 .8 0 .7 0 .7 0 .7 0 .8 0 .7 0 .7 0 .7 0 .7 0 .8 0 .7 0 .7 0 .7 0 .7 0 .8 0 .7 0 .7 0 .7 0 .8 0 .7 0 .7 0 .7 0 .7 0 .8 0 .7 0 .7 0 .7 0 .7 0 .8 0 .7 0 .7 0 .7 0 .8 0 .7 0 .7 0 .7 0 .7 0 .8 0 .7 0 .7 0 .7 0 .7 0 .8 0 .7 0 .7 0 .7 0 .8 0 .7 0 .7 0 .7 0 .7 0 .8 0 .7 0 .7 0 .7 0 .7 0 .8 0 .7 0 .7 0 .7 0 .8 0 .7 0 .7 0 .7 0 .7 0 .8 0 .7 0 .7 0 .7 0 .7 0 .8 0 .7 0 .7 0 .7 0 .8 0 .7 0 .7 0 .7 0 .7 0 .8 0 .7 0 .7 0 .7 0 .7 0 .8 0 .7 0 .7 0 .7 0 .8 0 .7 0 .7 0 .7 0 .7 0 .8 0 .7 0 .7 0 .7 0 .7 0 .8 0 .7 0 .7 0 .7 0 .8 0 .7 0 .7 0 .7 0 .7 0 .8 0 .7 0 .7 0 .7 0 .7 0 .8 0 .7 0 .7 0 .7 0 .8 0 .7 0 .7 0 .7 0 .7 0 .8 0 .7 0 .7 0 .7 0 .7 0 .8 0 .7 0 .7 0 .7 0 .8 0 .7 0 .7 0 .7 0 .7 0 .8 0 .7 0 .7 0 .7 0 .7 0 .8 0 .7 0 .7 0 .7 0 .8 0 .7 0 .7 0 .7 0 .7 0 .8 0 .7 0 .7 0 .7 0 .7 0 .8 0 .7 0 .7 0 .7 0 .8 0 .7 0 .7 0 .7 0 .7 0 .8 0 .7 0 .7 0 .7 0 .7 0 .8 0 .7 0 .7 0 .7 0 .8 0 .7 0 .7 0 .7 0 .7 0 .8 0 .7 0 .7 0 .7 0 .7 0 .8 0 .7 0 .7 0 .7 0 .8 0 .7 0 .7 0 .7 0 .7 0 .8 0 .7 0 .7 0 .7 0 .7 0 .8 0 .7 0 .7 0 .7 0 .8 0 .7 0 .7 0 .7 0 .7 0 .8 0 .7 0 .7 0 .7 0 .7 0 .8 0 .7 0 .7 0 .7 0 .8 0 .7 0 .7 0 .7 0 .7 0 .8 0 .7 0 .7 0 .7 0 .7 0 .8 0 .7 0 .7 0 .7 0 .8 0 .7 0 .7 0 .7 0 .7 0 .8 0 .7 0 .7 0 .7 0 .7 0 .8 0 .7 0 .7 0 .7 0 .8 0 .7 0 .7 0 .7 0 .7 0 .8 0 .7 0 .7 0 .7 0 .7 0 .8 0 .7 0 .7 0 .7 0 .8 0 .7 0 .7 0 .7 0 .7 0 .8 0 .7 0 .7 0 .7 0 .7 0 .8 0 .7 0 .7 0 .7 0 .8 0 .7 0 .7 0 .7 0 .7 0 .8 0 .7 0 .7 0 .7 0 .7 0 .8 0 .7 0 .7 0 .7 0 .8 0 .7 0 .7 0 .7 0 .7 0 .8 0 .7 0 .7 0 .7 0 .8 0 .7 0 .7 0 .7 0 .7 0 .8 0 .7 0 .7 0 .7 0 .7 0 .8 0 .7 0 .7 0 .7 0 .8 0 .7 0 .7 0 .7 0 .7 0 .8 0 .7 0 .7 0 .7 0 .7 0 .8 0 .7 0 .7 0 .7 0 .8 0 .7 0 .7 0 .7 0 .7 0 .8 0 .7 0 .7 0 .7 0 .7 0 .8 0 .7 0 .7 0 .7 0 .8 0 .7 0 .7 0 .7 0 .7 0 .8 0 .7 0 .7 0 .7 0 .7 0 .8 0 .7 0 .7 0 .7 0 .8 0 .7 0 .7 0 .7 0 .7 0 .8 0 .7 0 .7 0 .7 0 .7 0 .8 0 .7 0 .7 0 .7 0 .8 0 .7 0 .7 0 .7 0 .7 0 .8 0 .7 0 .7 0 .7 0 .7 0 .8 0 .7 0 .7 0 .7 0 .8 0 .7 0 .7 0 .7 0 .7 0 .8 0 .7 0 .7 0 .7 0 .7 0 .8 0 .7 0 .7 0 .7 0 .8 0 .7 0 .7 0 .7 0 .7 0 .8 0 .7 0 .7 0 .7 0 .7 0 .8 0 .7 0 .7 0 .7 0 .8 0 .7 0 .7 0 .7 0 .7 0 .8 0 .7 0 .7 0 .7 0 .7 0 .8 0 .7 0 .7 0 .7 0 .8 0 .7 0 .7 0 .7 0 .7 0 .8 0 .7 0 .7 0 .7 0 .7 0 .8 0 .7 0 .7 0 .7 0 .8 0 .7 0 .7 0 .7 0 .7 0 .8 0 .7 0 .7 0 .7 0 .7 0 .8 0 .7 0 .7 0 .7 0 .8 0 .7 0 .7 0 .7 0 .7 0 .8 0 .7 0 .7 0 .7 0 .7 0 .8 0 .7 0 .7 0 .7 0 .8 0 .7 0 .7 0 .7 0 .7 0 .8 0 .7 0 .7 0 .7 0 .7 0 .8 0 .7 0 .7 0 .7 0 .8 0" fill="none" stroke="#1f77b4" stroke-width="2.40" stroke-linejoin="round" stroke-linecap="round"/>
<path d="M533.9 1674.6l.7-148.8M536.1 1549.5l.7 125.5M537.5 1678.6l.7 26.1M562.8 1674.6l.7-125.5M567.1 1616.1l.7 136.4M567.8 1752.5l.8-25.8M604.6 1674.6l.7-121.8M609 1613.6l.7 133.1M639.3 1674.6l.7-129.5M643.6 1616.2l.7 131.9M644.3 1748.1l.7-25.6M671 1674.6l.7-123.3M675.3 1612.6l.7 128.9" fill="none" stroke="#1f77b4" stroke-width="2.083" stroke-dasharray="7.71 3.33"/>
<line x1="534.00" y1="1761.50" x2="534.00" y2="1516.50" stroke="#ff0000" stroke-width="2.08" stroke-dasharray="7.71 3.33"/>
<line x1="563.00" y1="1761.50" x2="563.00" y2="1516.50" stroke="#ff0000" stroke-width="2.08" stroke-dasharray="7.71 3.33"/>
<line x1="604.50" y1="1761.50" x2="604.50" y2="1516.50" stroke="#ff0000" stroke-width="3.00" stroke-dasharray="7.71 3.33"/>
<line x1="639.00" y1="1761.50" x2="639.00" y2="1516.50" stroke="#ff0000" stroke-width="2.08" stroke-dasharray="7.71 3.33"/>
<line x1="671.00" y1="1761.50" x2="671.00" y2="1516.50" stroke="#ff0000" stroke-width="2.08" stroke-dasharray="7.71 3.33"/>
</g>
<rect x="64.50" y="1516.50" width="1138.00" height="245.00" fill="none" stroke="#000" stroke-width="1.111" stroke-linejoin="miter"/>
<text x="112.60" y="1782.00" text-anchor="middle" font-size="13.89" textLength="8.75" lengthAdjust="spacingAndGlyphs" fill="#000">0</text>
<text x="256.89" y="1782.00" text-anchor="middle" font-size="13.89" textLength="26.25" lengthAdjust="spacingAndGlyphs" fill="#000">200</text>
<text x="401.18" y="1782.00" text-anchor="middle" font-size="13.89" textLength="26.25" lengthAdjust="spacingAndGlyphs" fill="#000">400</text>
<text x="545.46" y="1782.00" text-anchor="middle" font-size="13.89" textLength="26.38" lengthAdjust="spacingAndGlyphs" fill="#000">600</text>
<text x="689.75" y="1782.00" text-anchor="middle" font-size="13.89" textLength="26.38" lengthAdjust="spacingAndGlyphs" fill="#000">800</text>
<text x="834.04" y="1782.00" text-anchor="middle" font-size="13.89" textLength="35.12" lengthAdjust="spacingAndGlyphs" fill="#000">1000</text>
<text x="978.33" y="1782.00" text-anchor="middle" font-size="13.89" textLength="35.12" lengthAdjust="spacingAndGlyphs" fill="#000">1200</text>
<text x="1122.62" y="1782.00" text-anchor="middle" font-size="13.89" textLength="35.12" lengthAdjust="spacingAndGlyphs" fill="#000">1400</text>
<text x="53.80" y="1724.10" text-anchor="end" font-size="13.89" textLength="26.75" lengthAdjust="spacingAndGlyphs" fill="#000">-0.5</text>
<text x="53.80" y="1679.75" text-anchor="end" font-size="13.89" textLength="21.88" lengthAdjust="spacingAndGlyphs" fill="#000">0.0</text>
<text x="53.80" y="1635.40" text-anchor="end" font-size="13.89" textLength="21.88" lengthAdjust="spacingAndGlyphs" fill="#000">0.5</text>
<text x="53.80" y="1591.05" text-anchor="end" font-size="13.89" textLength="22.00" lengthAdjust="spacingAndGlyphs" fill="#000">1.0</text>
<text x="53.80" y="1546.70" text-anchor="end" font-size="13.89" textLength="22.00" lengthAdjust="spacingAndGlyphs" fill="#000">1.5</text>
<path d="M112.50 1761.50v4.86M256.50 1761.50v4.86M401.50 1761.50v4.86M545.50 1761.50v4.86M689.50 1761.50v4.86M834.50 1761.50v4.86M978.50 1761.50v4.86M1122.50 1761.50v4.86M64.50 1718.50h-4.86M64.50 1674.50h-4.86M64.50 1630.50h-4.86M64.50 1585.50h-4.86M64.50 1541.50h-4.86" stroke="#000" stroke-width="1.111" fill="none"/>
<text x="633.50" y="1801.00" text-anchor="middle" font-size="13.89" textLength="48.88" lengthAdjust="spacingAndGlyphs" fill="#000">minute</text>
<rect x="979.17" y="1524.00" width="216.32" height="24.60" rx="2.8" ry="2.8" fill="#fff" fill-opacity="0.8" stroke="#cccccc" stroke-opacity="0.8" stroke-width="1.39"/>
<line x1="983.67" y1="1535.25" x2="1011.77" y2="1535.25" stroke="#1f77b4" stroke-width="2.083" stroke-dasharray="7.71 3.33"/>
<circle cx="998.17" cy="1536.25" r="1.15" fill="#1f77b4"/>
<text x="1027.47" y="1540.40" text-anchor="start" font-size="13.89" textLength="161.62" lengthAdjust="spacingAndGlyphs" fill="#000">Ws_E14_drain_rate_ma</text>
</g>
<g>
<defs><clipPath id="c6"><rect x="64.50" y="1812.50" width="1138.00" height="245.00"/></clipPath></defs>
<path d="M116.50 1812.50V2057.50M259.50 1812.50V2057.50M403.50 1812.50V2057.50M547.50 1812.50V2057.50M691.50 1812.50V2057.50M834.50 1812.50V2057.50M978.50 1812.50V2057.50M1122.50 1812.50V2057.50M64.50 2037.50H1202.50M64.50 2003.50H1202.50M64.50 1969.50H1202.50M64.50 1935.50H1202.50M64.50 1901.50H1202.50M64.50 1867.50H1202.50M64.50 1833.50H1202.50" stroke="#b0b0b0" stroke-width="1.111" fill="none"/>
<g clip-path="url(#c6)">
<path d="M116.9 2000.3l.7 7.5 .8-8.3 .7 7.6 .7-7.2 .7 7.2 .7-7.5 .7 7.6 .8-7.6 .7 7.6 .7-8.3 .7 9.2 .7-8 .8 6.8 .7-7.7 .7 9.2 .7-8.4 .7 8.7 .8-9.3 .7 8.7 .7-8.3 .7 8.2 .7-8.9 .7 8.1 .8-7.5 .7 7.6 .7-8.8 .7 9.2 .7-7.4 .8 7.4 .7-8.3 .7 7.1 .7-6.1 .7 6.1 .8-6.1 .7 6.8 .7-8 .7 8.3 .7-7.5 .7 7.1 .8-6.5 .7 6.4 .7-7.8 .7 7.4 .7-7.6 .8 8.3 .7-8 .7 7.2 .7-7.4 .7 7.5 .8-7.3 .7 8.7 .7-8.9 .7 7.4 .7-8.1 .7 8.4 .8-7.2 .7 8.3 .7-9 .7 9.4 .7-9.1 .8 8.6 .7-9 .7 7.9 .7-6.5 .7 7.6 .7-8 .8 8.2 .7-8.5 .7 7.5 .7-6.6 .7 6.4 .8-6.4 .7 5.6 .7-6.6 .7 7 .7-6.6 .8 7.7 .7-8.1 .7 7.4 .7-8.7 .7 10.2 .7-8.4 .8 6.9 .7-6.9 .7 7 .7-7.1 .7 8.6 .8-8.5 .7 8.9 .7-10 .7 10 .7-5.4 .8 0 .7 0 .7-4.5 .7 8.5 .7-8.5 .7 7.4 .8-6.4 .7 7.5 .7-7 .7 7.2 .7-7.8 .8 7.2 .7-6.7 .7 7.7 .7-8.6 .7 8 .8-7.4 .7 7.8 .7-8.1 .7 7 .7-7.5 .7 9.2 .8-9.8 .7 9.8 .7-9.7 .7 9.3 .7-9.6 .8 8.9 .7-8.9 .7 9.2 .7-7.4 .7 6.8 .7-8.3 .8 8 .7-7.6 .7 8.4 .7-6.9 .7 6 .8-7.1 .7 6.7 .7-6.5 .7 7.1 .7-6.1 .8 6.8 .7-7.9 .7 7 .7-6.7 .7 7.7 .7-7.1 .8 6.1 .7-6 .7 6.5 .7-7.1 .7 6.3 .8-5.6 .7 6.1 .7-6.6 .7 6.4 .7-7.3 .8 7.2 .7-7.1 .7 7.6 .7-8.2 .7 8.8 .7-7.2 .8 6.7 .7-3.7 .7 0 .7 0 .7-4.7 .8 8.3 .7-7.7 .7 7.4 .7-7.5 .7 7.6 .8-7.5 .7 7.6 .7-6.7 .7 6.2 .7-7.1 .7 7.1 .8-5.7 .7 5.5 .7-5.7 .7 7.2 .7-8.2 .8 7.4 .7-6.2 .7 6.5 .7-7.1 .7 5.9 .7-6.6 .8 8.3 .7-7.7 .7 8.3 .7-9.5 .7 8.9 .8-8.9 .7 8.4 .7-7.8 .7 7.6 .7-7.5 .8 7 .7-6.3 .7 6.7 .7-6.8 .7 6.5 .7-6.8 .8 6.5 .7-7 .7 7.9 .7-7.5 .7 7 .8-7.5 .7 4.2 .7 0 .7 0 .7 0 .8 3.9 .7-7.9 .7 8.4 .7-8.8 .7 8.1 .7-7.6 .8 6.6 .7-6.6 .7 7.8 .7-7 .7 7.1 .8-7.5 .7 7.2 .7-8.4 .7 7.9 .7-7.8 .7 8.7 .8-7.9 .7 8.1 .7-7.9 .7 8.5 .7-8.3 .8 7.2 .7-7.6 .7 7.9 .7-7.5 .7 7.6 .8-7.8 .7 7.6 .7-8.8 .7 8.7 .7-8.4 .7 8.7 .8-7.7 .7 8 .7-9.4 .7 8.2 .7-7.8 .8 9 .7-8.8 .7 8.4 .7-7.7 .7 7.2 .8-8.6 .7 9.8 .7-8.6 .7 7.4 .7-7.1 .7 6.3 .8-7.5 .7 9.2 .7-7.4 .7 6.4 .7-6.6 .8 6.8 .7-7.5 .7 6.8 .7-6.1 .7 6.6 .8-6.7 .7 6.9 .7-7.3 .7 6.9 .7-8 .7 7.9 .8-6.3 .7 7.7 .7-8 .7 6.8 .7-7.8 .8 7.6 .7-7.4 .7 7.4 .7-7 .7 7.9 .7-7.3 .8 7.1 .7-7.8 .7 6.6 .7-6.3 .7 7 .8-7 .7 7.1 .7-6.1 .7 5.9 .7-6.1 .8 5.9 .7-6.2 .7 6.7 .7-8 .7 8.8 .7-8.8 .8 8.9 .7-7.6 .7 6.8 .7-7 .7 7.6 .8-8.6 .7 8.2 .7-7.6 .7 6.6 .7-6.4 .8 8 .7-8.4 .7 7.1 .7-6 .7 2.8 .7 0 .8 0 .7 0 .7 4.3 .7-8.9 .7 9.2 .8-9.3 .7 9.2 .7-9.1 .7 8.5 .7-7.7 .8 7.5 .7-3.7 .7 0 .7 0 .7-2.9 .7 6.5 .8-6.9 .7 6.1 .7-6.6 .7 3.8 .7 4.2 .8-7.8 .7 7.8 .7-7.3 .7 7.4 .7-8.3 .7 8.6 .8-8.6 .7 8.5 .7-7.9 .7 6.5 .7-7.7 .8 8.7 .7-9 .7 8.2 .7-7.6 .7 8.2 .8-7.7 .7 7.8 .7-7.8 .7 6.6 .7-5.8 .7 6.1 .8-7 .7 7.3 .7-7.4 .7 7 .7-7.4 .8 8.3 .7-8.6 .7 9.7 .7-8.7 .7 7.3 .8-7.9 .7 8.6 .7-7.6 .7 6.7 .7-6.4 .7 6.7 .8-6.8 .7 6.3 .7-7.9 .7 4.7 .7 3.1 .8-6.7 .7 8 .7-8.3 .7 7.9 .7-8.5 .8 8.8 .7-8.4 .7 8.3 .7-8.1 .7 8 .7-7.8 .8 6.6 .7-6.8 .7 7.2 .7-7.4 .7 8.8 .8-9.7 .7 9.2 .7-8 .7 7.9 .7-8 .7 8.7 .8-8.1 .7 7.8 .7-7.8 .7 6.7 .7-6.2 .8 5.5 .7-5.8 .7 6.5 .7-6.8 .7 7.7 .8-8.3 .7 8.2 .7-8.6 .7 7.6 .7-7.6 .7 7.9 .8-3.5 .7 0 .7 0 .7 0 .7 0 .8-2.9 .7 6.6 .7-6.8 .7 6.5 .7-6.9 .8 6.4 .7-6.9 .7 7.5 .7-6.6 .7 6.7 .7-7 .8 7.1 .7-8.4 .7 8.1 .7-6.4 .7 7.2 .8-8.8 .7 9.4 .7-9.3 .7 8.5 .7-8 .8 8.3 .7-7.7 .7 6.9 .7-8 .7 8 .7-7.4 .8 8.8 .7-9 .7 7.1 .7-6.9 .7 8.7 .8-8.8 .7 8.8 .7-9.4 .7 9.1 .7-7.8 .7 8.3 .8-5 .7 0 .7 0 .7 0 .7 0 .8 0 .7-3.2 .7 7.3 .7-7.5 .7 7.1 .8-6.9 .7 6.4 .7-7.4 .7 7.4 .7-8.3 .7 9.9 .8-9.4 .7 9.4 .7-9.7 .7 9.5 .7-9.7 .8 10.1 .7-10.2 .7 9.6 .7-4.4 .7 0 .8 0 .7 0 .7 0 .7 0 .7 0 .7 0 .8 0 .7 0 .7-4.5 .7 8.5 .7-8.7 .8 7.8 .7-7.3 .7 4.2 .7 0 .7 0 .8 0 .7 0 .7 0 .7 0 .7 3.7 .7-7.1 .8 6.7 .7-7 .7 7.4 .7-7.4 .7 7.9 .8-8.3 .7 8.6 .7-7.7 .7 7.4 .7-9.1 .7 9.5 .8-7.9 .7 7.8 .7-7.9 .7 7.8 .7-9 .8 7.5 .7-7.1 .7 7 .7-6.1 .7 6.7 .8-7.3 .7 7.6 .7-7.9 .7 7.7 .7-7.7 .7 8.1 .8-9 .7 10.1 .7-8.8 .7 7.1 .7-7.2 .8 8.1 .7-7.4 .7 6.7 .7-7.3 .7 8.3 .8-8.4 .7 8.6 .7-8 .7 7 .7-7.3 .7 6.5 .8-6.7 .7 7.1 .7-6.2 .7 6.7 .7-7.3 .8 6.7 .7-6.2 .7 7.1 .7-8.8 .7 8.6 .8-8.1 .7 8.5 .7-8.5 .7 7.7 .7-6.4 .7 6.9 .8-8 .7 8.3 .7-8.7 .7 9.5 .7-9.3 .8 8.5 .7-8.8 .7 8.8 .7-8 .7 8.4 .7-8.4 .8 8 .7-8.2 .7 8M538 2024.4l.8-12.5 .7-3 .7-6.1 .7 1.3 .7-.4 .8-.2 .7-.1 .7 0 .7 0 .7 0 .7 4.6 .8-8.5 .7 8.2 .7-9 .7 9.9 .7-9.8 .8 8.9 .7-8.2 .7 7.2 .7-6.9 .7 6.4 .8-7.3 .7 9.7 .7-9.3 .7 8.6 .7-9.7 .7 5.2 .8 0 .7 0 .7 0 .7 0 .7 0 .8 0 .7 0 .7 3 .7-7.2 .7 8.7 .8-9.3M566.8 2033.4l.7-16.2 .7-9.7 .7 .4 .8-6 .7 4.8 .7-7.2 .7 7.2 .7-7.4 .8 6.6 .7-6.5 .7 8 .7-7.2 .7 6.4 .7-7.4 .8 7.6 .7-8.6 .7 8.7 .7-7.8 .7 8.2 .8-8.5 .7 9.5 .7-8.9 .7 7.2 .7-8.6 .8 10.2 .7-8.9 .7 7.6 .7-8.5 .7 8.7 .7-8.5 .8 4.8 .7 3.6 .7-6.8 .7 7.6 .7-8 .8 7.3 .7-8.5 .7 8.5 .7-7.8 .7 7.7 .8-6.8 .7 7.8 .7-8.6 .7 8.3 .7-8.7 .7 7.6 .8-6.9 .7 8.8 .7-8.5 .7 7.9 .7-8.8 .8 8.4 .7-4.1 .7 0 .7 0M607.7 2033l.8-17.8 .7-4.3 .7-15.4 .7 14 .7-13.3 .8 12.7 .7-12 .7 11.7 .7-11.7 .7 6.5 .8-12 .7 12 .7 0 .7 0 .7 6.4 .7-12.6 .8 10.9 .7-11.8 .7 13.9 .7-12.7 .7 10.8 .8-11.4 .7 11 .7-9.7 .7 9.7 .7-10.7 .8 13.4 .7-14.5 .7 14.2 .7-13.4 .7 11.3 .7-11.3 .8-8.7 .7 7.2 .7 14.2 .7 5.5 .7-6.8 .8-11.4 .7 13.5 .7-14.4 .7 13.5 .7-11.5 .8 11.5 .7-15.5 .7 18.3 .7 3.5M642.2 2046l.8-22.1 .7-6.9 .7-5.2 .7-13 .7 13.8 .8-18.3 .7 17.2 .7-13.5 .7 11.1 .7-13.2 .7 12.3 .8 6.6 .7-11.4 .7 0 .7 0 .7 0 .8 0 .7-5.1 .7 11.8 .7-15 .7 13.5 .8-12 .7 14.9 .7-15.9 .7 15.9 .7-15.8 .7 14.2 .8-15 .7 16.2 .7-15.2 .7 13.3 .7 9.1 .8-9.4 .7-12.9 .7 14.7 .7-13.2 .7-7.4 .8 25.2 .7-6.4 .7-12.2 .7 12.5 .7-12.4 .7-7.9M674.6 2032l.7-13.6 .7-7.7 .7-9 .8 8.7 .7-13.8 .7 13.4 .7 5.8 .7-6.8 .8-12.1 .7-5.7 .7 6 .7 12.6 .7-12.8 .7 12.4 .8-11.7 .7 14.5 .7-15.5 .7 12.9 .7-12.6 .8 12.3 .7-12.2 .7 11.1 .7-4.8 .7 0 .7 13.8 .8-28.4 .7 8.7 .7 13.6 .7 3.7 .7-3.5 .8-14.2 .7 6.3 .7 14.4 .7-14.4 .7 6.8 .8-13.6 .7 13.5 .7-20.1 .7 19.3 .7-13.3 .7 13.4 .8-13.8 .7 14.8 .7-15.1 .7 15.3 .7-14.4 .8 13.6 .7-12.4 .7 11.6 .7-12.2 .7 11.4 .8-12.2 .7 14.1 .7-11.6 .7 11.3 .7-13.7 .7 12.8 .8-10.5 .7 12.4 .7-13.8 .7 12.4 .7-10.9 .8 9.6 .7-12.2 .7 16.2 .7-17.9 .7 14.9 .8-14.7 .7 15.2 .7-14.5 .7 16.4 .7-14.4 .7 18.2 .8-11.9 .7 0 .7 0 .7 6.8 .7-18.4 .8 19.8 .7-15.3 .7 14.3 .7-7.2 .7 0 .7 0 .8 0 .7 0 .7 11.5 .7-16.2 .7 11.5 .8-13.9 .7 14.2 .7-12.6 .7 18.4 .7-18.4 .8 10.7 .7-11 .7 10.7 .7-10.5 .7 10.5 .7-10.4 .8 12.6 .7-13.9 .7 12.2 .7-10.3 .7 10.3 .8-12.4 .7 11.4 .7-10.1 .7 9.9 .7-9.9 .8 10.6 .7-9.8 .7 9.5 .7-11.4 .7 11.4 .7-9.6 .8 9.3 .7-10.7 .7 12.3 .7-11.4 .7 5.5 .8 0 .7 5.3 .7-10.5 .7 11.2 .7-10.3 .8 9.9 .7-10.2 .7 8.3 .7-9.4 .7 11.1 .7-9.5 .8 8.3 .7-4.2 .7 0 .7 0 .7 0 .8 0 .7 0 .7-3.7 .7 7 .7-7.2 .7 7.1 .8-6.6 .7 8.4 .7-8.6 .7 7.3 .7-8.7 .8 8.3 .7-6.9 .7 8.3 .7-8.3 .7 8.6 .8-9.3 .7 8.9 .7-8.2 .7 7.6 .7-7.2 .7 7 .8-7.2 .7 7.2 .7-7.2 .7 6.9 .7-7.5 .8 8.4 .7-8.3 .7 7.9 .7-8.7 .7 9.1 .8-7.6 .7 7.5 .7-8.7 .7 8.1 .7-8 .7 8.6 .8-7.2 .7 5.6 .7-6.4 .7 6.9 .7-5.8 .8 6 .7-6 .7 6.2 .7-6.3 .7 6.3 .8-7.3 .7 6.7 .7-6.5 .7 3.5 .7 0 .7 0 .8 0 .7 0 .7 0 .7 4.4 .7-8.7 .8 8.4 .7-7.5 .7 6.2 .7-6.1 .7 7.5 .7-8.5 .8 7.3 .7-6.1 .7 7 .7-8.4 .7 8.2 .8-7.6 .7 7.7 .7-7.2 .7 7.8 .7-8.9 .8 7.8 .7-7.1 .7 6.2 .7-4.9 .7 5 .7-6.6 .8 7 .7-5.4 .7 6.4 .7-7.4 .7 7 .8-6.9 .7 6.7 .7-6.6 .7 6.6 .7-3.3 .8-3.6 .7 6.9 .7-7.2 .7 7.9 .7-7.8 .7 7.9 .8-9 .7 8.8 .7-6.8 .7 6.9 .7-8.1 .8 7.4 .7-6.2 .7 6.9 .7-7.7 .7 7.7 .8-8.1 .7 6.9 .7-6.1 .7 6.2 .7-6.8 .7 8.2 .8-7.9 .7 7.4 .7-7.3 .7 7 .7-7.2 .8 6.4 .7-6.9 .7 7.7 .7-7 .7 7.4 .7-8 .8 6.8 .7-6.2 .7 3.5 .7 0 .7 2.9 .8-6 .7 6.7 .7-6.1 .7 5.2 .7-7.1 .8 7.4 .7-7.5 .7 9.3 .7-9.3 .7 8.4 .7-8.6 .8 9.5 .7-4.8 .7 0 .7-3.1 .7 5.6 .8-5 .7 6 .7-6.4 .7 5.2 .7-4.8 .8 7 .7-8.8 .7 8.5 .7-8.5 .7 8.3 .7-7.9 .8 8.2 .7-8 .7 7.6 .7-7.5 .7 6.1 .8-6.5 .7 7.7 .7-6.7 .7 3 .7 0 .7 0 .8 0 .7 4.3 .7-7.9 .7 7.4 .7-6.6 .8 6.2 .7-7.5 .7 6.9 .7-6.3 .7 6.6 .8-6.2 .7 7.6 .7-8 .7 7.4 .7-7.7 .7 7.3 .8-7.2 .7 8 .7-7.3 .7 6.5 .7-7.5 .8 7.8 .7-7.3 .7 6.5 .7-6.5 .7 6.8 .8-7.4 .7 8.4 .7-4.3 .7 0 .7 0 .7 0 .8 0 .7 0 .7 0 .7-3.8 .7 6.7 .8-6.4 .7 7 .7-8.2 .7 8.4 .7-7.3 .8 7.6 .7-8.2 .7 7.4 .7-6.8 .7 7.6 .7-7.8 .8 7.7 .7-8.2 .7 7.1 .7-6.5 .7 7.6 .8-7.5 .7 8.1 .7-8.1 .7 3.6 .7 0 .7 3.5 .8-7.9 .7 7.9 .7-6.8 .7 7.1 .7-7.5 .8 6.7 .7-6.9 .7 7.7 .7-7.7 .7 7.4 .8-6.8 .7 7.4 .7-7.5 .7 6 .7-6.1 .7 6.3 .8-5.8 .7 6.6 .7-7.7 .7 7.5 .7-7 .8 7.5 .7-7.7 .7 3.8 .7 0 .7 0 .8 2.6 .7-6.3 .7 6.5 .7-5.7 .7 6.5 .7-6.3 .8 6 .7-7.3 .7 6.6 .7-6.5 .7 7.6 .8-6.4 .7 6.7 .7-7.5 .7 6.2 .7-6.6 .8 7.8 .7-7.5 .7 7.7 .7-7.3 .7 3.2 .7 0 .8 0 .7 0 .7 0 .7 0 .7 0 .8 3 .7-6.9 .7 8.4 .7-7.8 .7 6.6 .7-7.9 .8 8.7 .7-8.2 .7 7.2 .7-7.8 .7 8.7 .8-7.6 .7 7 .7-6.1 .7 5.6 .7-6.9 .8 8.1 .7-8.1 .7 7.2 .7-6.2 .7 6.3 .7-7.2 .8 6.9 .7-7.5 .7 8.2 .7-7.3 .7 7.6 .8-8.2 .7 8.6 .7-7.7 .7 7.8 .7-4.5 .8-4.5 .7 7.5 .7-7.4 .7 7.4 .7-6.1 .7 6.3 .8-6.6 .7 7 .7-6.7 .7 6.4 .7-6.6 .8 6.9 .7-6.7 .7 5.5 .7-5 .7 5.8 .8-6.2 .7 7.4 .7-8.7 .7 7.7 .7-7.7 .7 7.6 .8-7.9 .7 9 .7-7.7 .7 6.5 .7-6.8 .8 7.7 .7-8.5 .7 8.7 .7-8.2 .7 7.4 .7-7.6 .8 4.1 .7 0 .7 0 .7 3.8 .7-8 .8 8 .7-6.8 .7 6.5 .7-7.8 .7 7.4 .8-6.1 .7 7.2 .7-7.7 .7 6.7 .7-6.5 .7 6.2 .8-6.4 .7 7.4 .7-6.6 .7 5.4 .7-6.2 .8 3.5 .7 0 .7 3.8 .7-7.3 .7 7.7 .8-7.7 .7 6.6 .7-7.3 .7 7.9 .7-7.3 .7 6.6 .8-6.4 .7 7.5 .7-8.3 .7 8 .7-7.2 .8 7.1 .7-8 .7 7.1 .7-7.1 .7 7.4 .8-6.9 .7 6.6 .7-6 .7 6.4 .7-6 .7 5.7 .8-2.9 .7 0 .7 0 .7 0 .7-3.4 .8 7 .7-7 .7 7 .7-7.4 .7 6.6 .7-5.6 .8 6.6 .7-7.4 .7 7.8 .7-8 .7 7.7 .8-7 .7 5.9 .7-5.7 .7 6.4 .7-6.9 .8 6.6 .7-7.1 .7 6.6 .7-5.7 .7 5.8 .7-6.1 .8 6.5 .7-6.6 .7 3.4 .7 4.9 .7-8.6 .8 6.9 .7-7.3 .7 8.7 .7-9 .7 9.1 .8-9.2 .7 8.4 .7-8.1 .7 8.6 .7-9 .7 8 .8-7.1 .7 7.5 .7-7.1 .7 7.1 .7-7.1 .8 7 .7-8 .7 6.9 .7-5.7 .7 5.6 .8-6.1 .7 7.1 .7-7 .7 6.3 .7-5.5 .7 6.7 .8-6.6 .7 5.5 .7-5.8 .7 5.6 .7-5.6 .8 5.4 .7-4.9 .7 5.3 .7-6.5 .7 6.3 .7-2.7 .8 0 .7 0 .7 0 .7-4.1 .7 7.7 .8-7.5 .7 6.8 .7-6.4 .7 7.3 .7-7.2 .8 8.1 .7-9.3 .7 9.1 .7-7.7 .7 7.8 .7-8.1 .8 6.6 .7-7.1 .7 7.2 .7-7.8 .7 7.9 .8-7.6 .7 4.3 .7 0 .7 0 .7 0 .8 0 .7 0 .7 0 .7 0 .7 0 .7 0 .8 2.7 .7-6.3 .7 6.3 .7-2.7 .7-3.1 .8 6.3 .7-7.1 .7 7 .7-7.3 .7 7.5 .8-8.3 .7 9.9 .7-7.9 .7 6.3 .7-7.1 .7 6.4 .8-6.2 .7 7.3 .7-6.9 .7 5.9 .7-5.7 .8 5.7 .7-2.7 .7 0 .7 0 .7 0 .7 0 .8 0 .7-3.1 .7 6.3 .7-7.1" fill="none" stroke="#1f77b4" stroke-width="2.30" stroke-linejoin="round" stroke-linecap="round"/>
<path d="M536.6 2007.5l.7-181.5M537.3 1826l.7 198.4M565.4 1998.6l.7-165.9M566.1 1832.7l.7 200.7M606.3 2003.4l.7-176.1M607 1827.3l.7 205.7M640.8 2015.8l.7-182.8M641.5 1833l.7 213M673.1 1988.9l.8-159.9M673.9 1829l.7 203" fill="none" stroke="#1f77b4" stroke-width="2.083" stroke-dasharray="7.71 3.33"/>
<line x1="536.50" y1="2057.50" x2="536.50" y2="1812.50" stroke="#ff0000" stroke-width="3.00" stroke-dasharray="7.71 3.33"/>
<line x1="565.00" y1="2057.50" x2="565.00" y2="1812.50" stroke="#ff0000" stroke-width="2.08" stroke-dasharray="7.71 3.33"/>
<line x1="606.50" y1="2057.50" x2="606.50" y2="1812.50" stroke="#ff0000" stroke-width="3.00" stroke-dasharray="7.71 3.33"/>
<line x1="640.50" y1="2057.50" x2="640.50" y2="1812.50" stroke="#ff0000" stroke-width="3.00" stroke-dasharray="7.71 3.33"/>
<line x1="673.00" y1="2057.50" x2="673.00" y2="1812.50" stroke="#ff0000" stroke-width="2.08" stroke-dasharray="7.71 3.33"/>
</g>
<rect x="64.50" y="1812.50" width="1138.00" height="245.00" fill="none" stroke="#000" stroke-width="1.111" stroke-linejoin="miter"/>
<text x="116.20" y="2078.00" text-anchor="middle" font-size="13.89" textLength="8.75" lengthAdjust="spacingAndGlyphs" fill="#000">0</text>
<text x="259.93" y="2078.00" text-anchor="middle" font-size="13.89" textLength="26.25" lengthAdjust="spacingAndGlyphs" fill="#000">200</text>
<text x="403.66" y="2078.00" text-anchor="middle" font-size="13.89" textLength="26.25" lengthAdjust="spacingAndGlyphs" fill="#000">400</text>
<text x="547.38" y="2078.00" text-anchor="middle" font-size="13.89" textLength="26.38" lengthAdjust="spacingAndGlyphs" fill="#000">600</text>
<text x="691.11" y="2078.00" text-anchor="middle" font-size="13.89" textLength="26.38" lengthAdjust="spacingAndGlyphs" fill="#000">800</text>
<text x="834.84" y="2078.00" text-anchor="middle" font-size="13.89" textLength="35.12" lengthAdjust="spacingAndGlyphs" fill="#000">1000</text>
<text x="978.57" y="2078.00" text-anchor="middle" font-size="13.89" textLength="35.12" lengthAdjust="spacingAndGlyphs" fill="#000">1200</text>
<text x="1122.30" y="2078.00" text-anchor="middle" font-size="13.89" textLength="35.12" lengthAdjust="spacingAndGlyphs" fill="#000">1400</text>
<text x="53.80" y="2042.55" text-anchor="end" font-size="13.89" textLength="26.75" lengthAdjust="spacingAndGlyphs" fill="#000">-2.5</text>
<text x="53.80" y="2008.56" text-anchor="end" font-size="13.89" textLength="21.88" lengthAdjust="spacingAndGlyphs" fill="#000">0.0</text>
<text x="53.80" y="1974.57" text-anchor="end" font-size="13.89" textLength="21.88" lengthAdjust="spacingAndGlyphs" fill="#000">2.5</text>
<text x="53.80" y="1940.58" text-anchor="end" font-size="13.89" textLength="21.88" lengthAdjust="spacingAndGlyphs" fill="#000">5.0</text>
<text x="53.80" y="1906.58" text-anchor="end" font-size="13.89" textLength="21.88" lengthAdjust="spacingAndGlyphs" fill="#000">7.5</text>
<text x="53.80" y="1872.59" text-anchor="end" font-size="13.89" textLength="30.75" lengthAdjust="spacingAndGlyphs" fill="#000">10.0</text>
<text x="53.80" y="1838.60" text-anchor="end" font-size="13.89" textLength="30.75" lengthAdjust="spacingAndGlyphs" fill="#000">12.5</text>
<path d="M116.50 2057.50v4.86M259.50 2057.50v4.86M403.50 2057.50v4.86M547.50 2057.50v4.86M691.50 2057.50v4.86M834.50 2057.50v4.86M978.50 2057.50v4.86M1122.50 2057.50v4.86M64.50 2037.50h-4.86M64.50 2003.50h-4.86M64.50 1969.50h-4.86M64.50 1935.50h-4.86M64.50 1901.50h-4.86M64.50 1867.50h-4.86M64.50 1833.50h-4.86" stroke="#000" stroke-width="1.111" fill="none"/>
<text x="633.50" y="2097.00" text-anchor="middle" font-size="13.89" textLength="48.88" lengthAdjust="spacingAndGlyphs" fill="#000">minute</text>
<rect x="1039.17" y="1820.00" width="156.32" height="24.60" rx="2.8" ry="2.8" fill="#fff" fill-opacity="0.8" stroke="#cccccc" stroke-opacity="0.8" stroke-width="1.39"/>
<line x1="1043.67" y1="1831.25" x2="1071.77" y2="1831.25" stroke="#1f77b4" stroke-width="2.083" stroke-dasharray="7.71 3.33"/>
<circle cx="1058.17" cy="1832.25" r="1.15" fill="#1f77b4"/>
<text x="1087.47" y="1836.40" text-anchor="start" font-size="13.89" textLength="101.62" lengthAdjust="spacingAndGlyphs" fill="#000">Ws_E14_dydt1</text>
</g>
<g>
<defs><clipPath id="c7"><rect x="64.50" y="2113.50" width="1138.00" height="245.00"/></clipPath></defs>
<path d="M115.50 2113.50V2358.50M259.50 2113.50V2358.50M403.50 2113.50V2358.50M547.50 2113.50V2358.50M691.50 2113.50V2358.50M834.50 2113.50V2358.50M978.50 2113.50V2358.50M1122.50 2113.50V2358.50M64.50 2344.50H1202.50M64.50 2311.50H1202.50M64.50 2279.50H1202.50M64.50 2246.50H1202.50M64.50 2213.50H1202.50M64.50 2180.50H1202.50M64.50 2147.50H1202.50M64.50 2114.50H1202.50" stroke="#b0b0b0" stroke-width="1.111" fill="none"/>
<g clip-path="url(#c7)">
<path d="M116.9 2310.2l.8 3.7 .7-4.2 .7 4.2 .7-3.6 .7 3.5 .8-4.4 .7 4.5 .7-3.8 .7 4.3 .7-4.6 .8 3.9 .7-3.7 .7 3.9 .7-2 .7 0 .7-1.9 .8 3.6 .7-3.7 .7 3.6 .7-3.6 .7 3.9 .8-3.8 .7 4.1 .7-3.8 .7 3.4 .7-3.6 .8 3.3 .7-3.5 .7 3.6 .7-3.9 .7 4.6 .8-4.3 .7 4.3 .7-4.9 .7 4.2 .7-1.6 .8-2 .7 4.7 .7-5.4 .7 5.1 .7-4.5 .8 4.4 .7-2.3 .7 0 .7-1.5 .7 3.3 .8-3.5 .7 1.7 .7 0 .7 0 .7 2 .7-3.8 .8 3.9 .7-4.3 .7 4.6 .7-4.4 .7 4 .8-4.2 .7 4.6 .7-4.9 .7 4.2 .7-4.1 .8 4.2 .7-3.9 .7 3.7 .7-3.6 .7 3.8 .8-4.1 .7 4.2 .7-4.4 .7 4.5 .7-4.2 .8 4.7 .7-4.6 .7 4.2 .7-4.6 .7 4.3 .8-4 .7 3.8 .7-3.2 .7 3.8 .7-4 .8 3.9 .7-4 .7 3.5 .7-3.2 .7 3.9 .7-2.3 .8 0 .7-1.8 .7 3.4 .7-3.9 .7 4.3 .8-3.6 .7 3.2 .7-3.5 .7 3.4 .7-3.5 .8 4.2 .7-4.2 .7 3.6 .7-3.5 .7 3.6 .8-3.8 .7 4.1 .7-3.3 .7 3 .7-3.9 .8 3.8 .7-3.3 .7 3.4 .7-3.3 .7 3.6 .8-3.4 .7 3 .7-1.6 .7 0 .7-1.8 .8 4.3 .7-4.7 .7 4.4 .7-4.1 .7 3.4 .7-2.8 .8 2.8 .7-3.2 .7 3.4 .7-3.6 .7 3.5 .8-3.6 .7 2 .7 0 .7 0 .7 0 .8 0 .7 2.3 .7-4.2 .7 3.4 .7-3.5 .8 3.5 .7-3.6 .7 4.5 .7-4.5 .7 4.5 .8-4.1 .7 3.3 .7-4.2 .7 5.2 .7-4.7 .8 4.6 .7-4.6 .7 3.6 .7-3 .7 3.4 .8-4.2 .7 4 .7-3.7 .7 4 .7-3.8 .7 3.2 .8-3 .7 3.8 .7-4.1 .7 4.2 .7-4.6 .8 4.6 .7-4.5 .7 4.2 .7-4 .7 3.8 .8-3.5 .7 3.6 .7-4.4 .7 4.6 .7-4.2 .8 4.1 .7-3.6 .7 3.7 .7-4.2 .7 3.6 .8-3.6 .7 2.1 .7 0 .7 0 .7 1.8 .8-3.3 .7 3 .7-3 .7 3 .7-1.5 .7-1.7 .8 3.8 .7-3.5 .7 3.4 .7-4.2 .7 4.4 .8-3.9 .7 4.2 .7-4.3 .7 4.4 .7-5 .8 4.9 .7-5.1 .7 4.4 .7-4.1 .7 4.8 .8-4.9 .7 4.2 .7-3.5 .7 3.5 .7-3.6 .8 3.7 .7-3.5 .7 3.8 .7-4.6 .7 4.4 .8-4 .7 3.9 .7-1.9 .7-1.7 .7 3.2 .8-3.5 .7 4.1 .7-3.9 .7 3.8 .7-3.7 .7 3.6 .8-4 .7 3.9 .7-3.2 .7 2.8 .7-3.3 .8 3.5 .7-3 .7 3.1 .7-3.7 .7 3.8 .8-3.5 .7 3.3 .7-3.4 .7 1.8 .7 0 .8 2.3 .7-4.5 .7 4.7 .7-4.9 .7 4.2 .8-1.8 .7 0 .7 0 .7 0 .7-1.6 .8 3.7 .7-4.3 .7 4.3 .7-3.7 .7 3.7 .8-4 .7 4.5 .7-2.6 .7 0 .7 0 .7 0 .8 0 .7 0 .7 0 .7 0 .7 0 .8 0 .7-2.2 .7 3.9 .7-3.5 .7 3.7 .8-4.4 .7 4.7 .7-4.5 .7 4.5 .7-4.1 .8 4.4 .7-4.1 .7 3.6 .7-4.1 .7 3.7 .8-4 .7 4.6 .7-4.8 .7 4.5 .7-4 .8 3.8 .7-3.6 .7 3.8 .7-3.9 .7 3.7 .8-3.2 .7 3.4 .7-4 .7 4.2 .7-4.1 .7 3.7 .8-3.9 .7 4 .7-3.6 .7 3.1 .7-2.8 .8 2.8 .7-3.1 .7 3.2 .7-3.4 .7 4 .8-3.9 .7 3.7 .7-3.6 .7 4.2 .7-4.9 .8 4.2 .7-4.1 .7 4.4 .7-4.4 .7 3.9 .8-3.1 .7 3.7 .7-4.1 .7 4 .7-2 .8-2.1 .7 4 .7-3.7 .7 3.8 .7-3.5 .8 2.9 .7-3.4 .7 3.8 .7-3.3 .7 3.4 .7-3.4 .8 3.5 .7-3.6 .7 3.6 .7-4.3 .7 4.2 .8-3.8 .7 3.4 .7-3.1 .7 3.7 .7-3.9 .8 4.2 .7-4.8 .7 4.6 .7-4.8 .7 4.8 .8-4.2 .7 4.2 .7-4.6 .7 4.9 .7-5.1 .8 5 .7-4.7 .7 3.9 .7-3.5 .7 3.5 .8-4 .7 4.2 .7-1.8 .7 0 .7 0 .8 0 .7-2.1 .7 4.4 .7-3.8 .7 3.6 .7-4.5 .8 4.1 .7-4.1 .7 4.2 .7-4 .7 4.4 .8-4.1 .7 3.5 .7-3.3 .7 3.7 .7-3.6 .8 3.5 .7-3.6 .7 3.3 .7-4 .7 4.7 .8-4.7 .7 4.1 .7-3.5 .7 4.1 .7-4.6 .8 3.8 .7-3.9 .7 3.8 .7-1.4 .7 0 .8 0 .7 0 .7-1.8 .7 3.5 .7-3.7 .7 3.5 .8-3.3 .7 3.4 .7-3.7 .7 4.1 .7-4.5 .8 5 .7-5.1 .7 5.3 .7-4.9 .7 4.4 .8-4.9 .7 5.4 .7-5.4 .7 5.3 .7-2.6 .8 0 .7 0 .7 0 .7 0 .7-1.5 .8 3.2 .7-3.6 .7 3.7 .7-3.3 .7 3.9 .8-4.4 .7 4.4 .7-4.2 .7 3.6 .7-3.5 .8 3.2 .7-3.8 .7 3.9 .7-3.3 .7 3.5 .7-3.9 .8 3.9 .7-4 .7 4.5 .7-4.1 .7 3.4 .8-3.4 .7 3.8 .7-3.6 .7 4.2 .7-4.6 .8 3.3 .7-3 .7 1.7 .7 2.2 .7-4.2 .8 4.2 .7-4.5 .7 4.1 .7-3.8 .7 4.2 .8-3.7 .7 3.5 .7-3.9 .7 4.1 .7-4.2 .8 3.6 .7-3.5 .7 3.7 .7-3.5 .7 3.7 .8-4 .7 3.9 .7-3.5 .7 3.3 .7-4 .7 4 .8-3.3 .7 1.6 .7 1.9 .7-3.8 .7 4.4 .8-4.9 .7 4.8 .7-4.7 .7 3.6 .7-2.9 .8 3.5 .7-3.9 .7 3.4 .7-3.5 .7 3.8 .8-3.4 .7 3.1 .7-3.4 .7 3.3 .7-3.2 .8 3.6 .7-3.7 .7 4 .7-3.4 .7 3 .8-3.2 .7 3.4 .7-3.5 .7 3.7 .7-3.7 .8 1.7 .7 1.9 .7-3.8 .7 4.1 .7-4.4 .7 4.5 .8-4 .7 3.4 .7-3.4 .7 3.9 .7-4.4 .8 3.7 .7-3.1 .7 3.1 .7-3.9 .7 4.6 .8-4.2 .7 4.1 .7-3.7 .7 3.1 .7-3.9 .8 4.8 .7-4.9 .7 4.4 .7-3.9 .7 3.8 .8-3.8 .7 4 .7-4.2 .7 4.6 .7-4.7 .8 4.7 .7-4.4 .7 4.1 .7-3.9 .7 4.1 .8-4 .7 3.7 .7-4.4 .7 4.1 .7-3.7 .7 4 .8-4.2 .7 4.5 .7-4.1 .7 4.5 .7-4.8 .8 4.4 .7-4 .7 3.7 .7-4.1 .7 4.4 .8-4 .7 4.2 .7-4.1 .7 3.5 .7-4.2 .8 4.3 .7-3.9 .7 3.7 .7-3.3 .7 3.6 .8-3.7 .7 1.6 .7 0 .7 0 .7 0 .8 2.4 .7-4.3 .7 4.3 .7-4.3 .7 4.1 .7-3.6 .8 3.6 .7-3.9 .7 3.8 .7-4.1 .7 3.7M537.1 2327l.7-4.4 .7-2.7 .7-2.8 .8-.7 .7-2.4 .7 1 .7-2.7 .7 1.7 .8-2.4 .7 2.3 .7-3.1 .7 1.4 .7-.1 .8 2 .7-4.3 .7 4.2 .7-4.4 .7 4.5 .8-2.2 .7 0 .7 0 .7-2.2 .7 4.2 .8-3.8 .7 3.2 .7-3.5 .7 3.7 .7-3.3 .7 3.8 .8-2.1 .7 0 .7 0 .7 0 .7 0 .8 0 .7 0 .7 0 .7 0 .7 0M566.6 2342.5l.7-8.8 .7-5.8 .7-5.3 .8-2 .7-4 .7 .7 .7-3.6 .7 1.6 .8-3.4 .7 2.8 .7-3.3 .7 2.9 .7-3.4 .8 3.7 .7-4.4 .7 4.1 .7-4 .7 3.3 .8-3.4 .7 3.4 .7-4.2 .7 4.1 .7-4 .7 4.2 .8-3.8 .7 3.9 .7-3.7 .7 3.9 .7-4.6 .8 2.5 .7 0 .7 0 .7 0 .7 1.5 .8-3 .7 3.7 .7-3.7 .7 3.3 .7-3.4 .8 3.5 .7-4.1 .7 4.2 .7-3.5 .7 3.5 .8-3.6 .7 3.1 .7-3.3 .7 4.4 .7-4.3 .8 3.8 .7-3.8 .7 3.6 .7-4.5 .7 4.5 .8-4.6M607.6 2344.3l.7-9.5 .7-5.6 .7-6.1 .8-1.3 .7-5 .7 .9 .7-4.9 .7 3.2 .8-4.8 .7 5.1 .7-3.6 .7-.2 .7-4.5 .8 8.1 .7-7.2 .7 7.7 .7-8 .7 7.4 .8-4.1 .7 0 .7 0 .7 0 .7-2.9 .8 6.1 .7-6.5 .7 6.7 .7-6.1 .7 6.1 .8-6.5 .7 3.1 .7 0 .7 0 .7 4.6 .8-8.7 .7 7.7 .7-7.6 .7 8.8 .7-8.5 .7 7.4 .8-6.4 .7 10 .7-11.4 .7 7.9 .7-7.4 .8 6.6 .7-5.8M642.1 2348l.7-10.5 .8-8.5 .7-4.5 .7-1.9 .7-5 .7 .9 .8 1.7 .7-3.5 .7-5.7 .7 5.5 .7-7.4 .8 6.7 .7-7.1 .7 7.6 .7-7.4 .7 7.5 .8-8.3 .7 7.9 .7-8.3 .7-3.8 .7 3.8 .8-3 .7 2.7 .7 7.4 .7 3.8 .7-13.2 .7 2.5 .8 7.3 .7-7.3 .7 7.1 .7-6.4 .7 6.3 .8-6 .7 7.3 .7-7.8 .7 7.7 .7-7.7 .8-3.5 .7 2.7 .7 9.1 .7-8.2 .7 7.3 .8-3.9M674.5 2339l.7-7.7 .7-5.5 .8-3.9 .7-2.9 .7-2 .7 2.6 .7-5.1 .8-2.9 .7 4.4 .7-6.7 .7 6.8 .7-7.2 .7 7.1 .8 4.2 .7-8.1 .7-.1 .7 4.3 .7-8.5 .8 7 .7-7 .7 8.4 .7-7.9 .7 8 .8-8.4 .7 7.5 .7-6.5 .7-4 .7 2.3 .8 8.2 .7 3.1 .7-3 .7-7.2 .7 7.2 .8-6.7 .7 6.9 .7-6.9 .7-4.8 .7 4.1 .8 7.5 .7-7.9 .7 8.4 .7-8.8 .7 7.5 .8 3.5 .7-3.2 .7-6.3 .7 6 .7-6.1 .7 6.4 .8 4.4 .7-4.3 .7-6.5 .7 5.9 .7-6 .8-3.4 .7 3.4 .7 6.4 .7-6.9 .7 6.5 .8-5.2 .7 5.1 .7-6.5 .7 7.1 .7-6.8 .8 7.1 .7-6.2 .7 6.6 .7-6.4 .7 6.1 .8-6.6 .7 6.6 .7-7.3 .7-3.9 .7 14 .8-3 .7-6.9 .7 6.6 .7-7.7 .7 8.6 .8-7.1 .7-3.9 .7 4 .7 6.5 .7-7.2 .7 7.2 .8-6.7 .7-5.2 .7 4.8 .7 7.8 .7-8.3 .8 7.9 .7-6.7 .7 6.4 .7-6.5 .7 7 .8-8.4 .7-1.6 .7 6 .7 0 .7 0 .8 0 .7 0 .7 0 .7 0 .7 0 .8-3.4 .7 6.3 .7-6.4 .7 6.6 .7-6.7 .8 7.3 .7-7 .7 6.9 .7-6.1 .7 5.7 .8-5.8 .7 2.6 .7 0 .7 3.3 .7-5.3 .7 4.3 .8-4.9 .7 5.6 .7-5.6 .7 5 .7-5.2 .8 5 .7-4.6 .7 4.4 .7-4.7 .7 5.7 .8-6.1 .7 6.1 .7-5.8 .7 5.1 .7-5 .8 4.7 .7-4.4 .7 4.5 .7-4.8 .7 5.8 .8-5.8 .7 5.5 .7-6 .7 6.1 .7-5.2 .8 4.8 .7-5.3 .7 4.5 .7-4.2 .7 5.2 .8-4.7 .7 4.3 .7-4.1 .7 4.2 .7-4.5 .7 4.3 .8-4 .7 3.6 .7-4 .7 4.5 .7-4.2 .8 4.3 .7-4.4 .7 4.1 .7-4.5 .7 4.7 .8-4 .7 3.3 .7-3.9 .7 4 .7-3.5 .8 3.5 .7-3.5 .7 3.5 .7-3.5 .7 3.5 .8-4.1 .7 3.9 .7-3.5 .7 4.4 .7-4.4 .8 2 .7 0 .7 0 .7 0 .7 2.2 .7-4.6 .8 4.2 .7-3.4 .7 3.7 .7-4.1 .7 4 .8-3.8 .7 3.6 .7-3.2 .7 3.1 .7-3.3 .8 3 .7-3.2 .7 3.8 .7-4.1 .7 3.8 .8-3.6 .7 4.1 .7-4.4 .7 4.1 .7-3.6 .8 3.5 .7-3.6 .7 3.5 .7-3.6 .7 1.9 .8 0 .7 1.5 .7-3.1 .7 3.6 .7-4 .8 3.8 .7-4 .7 4 .7-3.7 .7 3.4 .7-3.1 .8 3 .7-2.9 .7 3.4 .7-3.5 .7 3 .8-3.4 .7 3.9 .7-3.5 .7 3.3 .7-3.5 .8 3.7 .7-3.7 .7 3.8 .7-2 .7-2.1 .8 4.2 .7-3.9 .7 3.6 .7-4.1 .7 3.9 .8-3.7 .7 4.4 .7-4.4 .7 3.7 .7-3.2 .8 3.3 .7-3.4 .7 3.3 .7-3.3 .7 3.6 .8-4.1 .7 4.1 .7-4.2 .7 4 .7-3.5 .7 3.4 .8-3.2 .7 3.5 .7-3.4 .7 3.3 .7-3.2 .8 3.3 .7-3.4 .7 3.2 .7-3.7 .7 3.6 .8-3 .7 2.7 .7-2.6 .7 2.9 .7-3.5 .8 3.8 .7-4.3 .7 4.7 .7-3.9 .7 3.7 .8-4.1 .7 3.6 .7-3.7 .7 2.1 .7 0 .8 1.5 .7-3.2 .7 3.7 .7-4.2 .7 3.6 .8-3.6 .7 4.1 .7-4.1 .7 4.1 .7-3.9 .7 4.2 .8-3.8 .7 3.6 .7-3.9 .7 4 .7-3.9 .8 3.5 .7-4 .7 4.6 .7-3.8 .7 3 .8-1.5 .7 0 .7-2.4 .7 4 .7-3.2 .8 3.1 .7-3.7 .7 4.5 .7-4.3 .7 3.7 .8-3.6 .7 4.2 .7-2.3 .7-1.9 .7 4 .8-4.1 .7 3.7 .7-3.4 .7 3.6 .7-4.5 .8 4.7 .7-4.7 .7 4.7 .7-4.7 .7 4.6 .7-2 .8 0 .7 0 .7 0 .7 0 .7 0 .8-1.7 .7 4 .7-4.2 .7 4 .7-4.1 .8 3.4 .7-3.6 .7 3.9 .7-3.7 .7 4.1 .8-3.7 .7 3.5 .7-3.5 .7 3.3 .7-3.7 .8 3.6 .7-3.8 .7 4 .7-3.8 .7 3.5 .8-3.3 .7 4.2 .7-4.6 .7 4.6 .7-4.6 .8 4.4 .7-3.7 .7 1.5 .7 0 .7 2.2 .7-4.1 .8 3.6 .7-3.7 .7 3.7 .7-3.5 .7 3.2 .8-3.1 .7 1.7 .7 0 .7 0 .7 0 .8 0 .7 0 .7 1.7 .7-3.5 .7 3.7 .8-4 .7 3.9 .7-3.1 .7 3.4 .7-3.6 .8 3.5 .7-4.1 .7 3.4 .7-2.7 .7 3 .8-3.7 .7 4.2 .7-3.7 .7 3.6 .7-3.9 .7 3.4 .8-3.3 .7 4 .7-4.4 .7 4.2 .7-3.6 .8 3.1 .7-3.5 .7 4.1 .7-2.1 .7 0 .8 0 .7-2.1 .7 4.3 .7-4.1 .7 4.4 .8-4.1 .7 4.1 .7-5 .7 5.1 .7-4.8 .8 4.7 .7-4.2 .7 3.6 .7-4.5 .7 4.4 .8-3.9 .7 4.2 .7-4.1 .7 3.8 .7-3.5 .8 4 .7-4.5 .7 3.9 .7-3.6 .7 4.1 .7-3.7 .8 1.5 .7 0 .7 0 .7 0 .7 1.7 .8-3.4 .7 3.3 .7-3.8 .7 3.8 .7-3.2 .8 3.8 .7-3.8 .7 2.9 .7-3.3 .7 3.4 .8-3.4 .7 3.8 .7-3.9 .7 4 .7-3.8 .8 3.7 .7-3.2 .7 3 .7-3.1 .7 3.4 .8-3.5 .7 3.4 .7-3.2 .7 3 .7-3.7 .8 2.1 .7 0 .7 2.1 .7-3.7 .7 3.6 .7-4.2 .8 4 .7-4.1 .7 4.5 .7-4.4 .7 4.8 .8-4.4 .7 3.8 .7-4.4 .7 4.1 .7-4 .8 4.7 .7-5 .7 4.3 .7-3.8 .7 4.2 .8-4.3 .7 4.5 .7-2.3 .7 0 .7 0 .8 0 .7-1.6 .7 3 .7-2.9 .7 3.6 .8-3.5 .7 2.8 .7-3.8 .7 3.9 .7-3.6 .8 4.1 .7-4.1 .7 4.2 .7-3.6 .7 3.5 .7-4 .8 2 .7 2 .7-4 .7 4.4 .7-4.2 .8 3.7 .7-3.5 .7 3.3 .7-3.5 .7 4.1 .8-4.7 .7 4.4 .7-4.6 .7 4.2 .7-3.8 .8 4.4 .7-3.8 .7 3.2 .7-4 .7 4.7 .8-4.3 .7 4.2 .7-4.7 .7 4.3 .7-3.5 .8 3.6 .7-3.7 .7 3.9 .7-3.9 .7 3.8 .8-3.8 .7 3.3 .7-3.5 .7 4.1 .7-4.1 .7 4.1 .8-3.8 .7 3.6 .7-3.8 .7 4 .7-3.8 .8 3.7 .7-3.5 .7 3.1 .7-3.4 .7 3.1 .8-3.4 .7 4.2 .7-3.5 .7 3.4 .7-4.1 .8 3.8 .7-3.7 .7 3.4 .7-2.9 .7 3.4 .8-4 .7 4.1 .7-3.5 .7 1.5 .7 0 .8 0 .7 0 .7 1.4 .7-3.1 .7 3.6 .7-3.6 .8 3.2 .7-3 .7 3.4 .7-3.9 .7 3.3 .8-3.2 .7 3.7 .7-3.6 .7 3.7 .7-4.2 .8 3.9 .7-3.9 .7 4.1 .7-3.5 .7 1.7 .8 1.7 .7-3.7 .7 3.3 .7-3.2 .7 3.7 .8-1.8 .7 0 .7-2.1 .7 4 .7-3.7 .8 4.2 .7-4.7 .7 4.5 .7-4.5 .7 4.6 .8-4.2 .7 3.4 .7-3 .7 1.5 .7 2.6 .7-4.9 .8 4.7 .7-4 .7 3.7 .7-3.8 .7 3.9 .8-4.5 .7 4.5 .7-4.1 .7 3.7 .7-3.7 .8 3.4 .7-2.9 .7 2.8 .7-3.2 .7 3.4 .8-3.1 .7 3.6 .7-4.2 .7 4 .7-3.7 .8 4 .7-4.1 .7 3.7 .7-3.5 .7 3.9 .8-4.4 .7 4 .7-3.3 .7 3.5 .7-3.6 .8 3.4 .7-3.1 .7 3.3 .7-3.4 .7 3.4 .7-3.9 .8 3.8 .7-3.9 .7 3.5 .7-3.6 .7 3.8 .8-3.3 .7 3.3 .7-4 .7 4.3 .7-3.8 .8 1.8 .7 0 .7 0 .7 0 .7 0 .8 2.5" fill="none" stroke="#1f77b4" stroke-width="2.30" stroke-linejoin="round" stroke-linecap="round"/>
<path d="M535.6 2313.6l.8-190.9M536.4 2122.7l.7 204.3M565.1 2311.9l.8-181M565.9 2130.9l.7 211.6M606.2 2309.2l.7-179.2M606.9 2130l.7 214.3M640.7 2309.1l.7-176.1M641.4 2133l.7 215M673.1 2311.9l.7-180.9M673.8 2131l.7 208" fill="none" stroke="#1f77b4" stroke-width="2.083" stroke-dasharray="7.71 3.33"/>
<line x1="536.00" y1="2358.50" x2="536.00" y2="2113.50" stroke="#ff0000" stroke-width="2.08" stroke-dasharray="7.71 3.33"/>
<line x1="565.00" y1="2358.50" x2="565.00" y2="2113.50" stroke="#ff0000" stroke-width="2.08" stroke-dasharray="7.71 3.33"/>
<line x1="606.00" y1="2358.50" x2="606.00" y2="2113.50" stroke="#ff0000" stroke-width="2.08" stroke-dasharray="7.71 3.33"/>
<line x1="640.50" y1="2358.50" x2="640.50" y2="2113.50" stroke="#ff0000" stroke-width="3.00" stroke-dasharray="7.71 3.33"/>
<line x1="673.00" y1="2358.50" x2="673.00" y2="2113.50" stroke="#ff0000" stroke-width="2.08" stroke-dasharray="7.71 3.33"/>
</g>
<rect x="64.50" y="2113.50" width="1138.00" height="245.00" fill="none" stroke="#000" stroke-width="1.111" stroke-linejoin="miter"/>
<text x="115.50" y="2379.00" text-anchor="middle" font-size="13.89" textLength="8.75" lengthAdjust="spacingAndGlyphs" fill="#000">0</text>
<text x="259.39" y="2379.00" text-anchor="middle" font-size="13.89" textLength="26.25" lengthAdjust="spacingAndGlyphs" fill="#000">200</text>
<text x="403.27" y="2379.00" text-anchor="middle" font-size="13.89" textLength="26.25" lengthAdjust="spacingAndGlyphs" fill="#000">400</text>
<text x="547.16" y="2379.00" text-anchor="middle" font-size="13.89" textLength="26.38" lengthAdjust="spacingAndGlyphs" fill="#000">600</text>
<text x="691.04" y="2379.00" text-anchor="middle" font-size="13.89" textLength="26.38" lengthAdjust="spacingAndGlyphs" fill="#000">800</text>
<text x="834.93" y="2379.00" text-anchor="middle" font-size="13.89" textLength="35.12" lengthAdjust="spacingAndGlyphs" fill="#000">1000</text>
<text x="978.82" y="2379.00" text-anchor="middle" font-size="13.89" textLength="35.12" lengthAdjust="spacingAndGlyphs" fill="#000">1200</text>
<text x="1122.70" y="2379.00" text-anchor="middle" font-size="13.89" textLength="35.12" lengthAdjust="spacingAndGlyphs" fill="#000">1400</text>
<text x="53.80" y="2349.96" text-anchor="end" font-size="13.89" textLength="13.62" lengthAdjust="spacingAndGlyphs" fill="#000">-2</text>
<text x="53.80" y="2317.08" text-anchor="end" font-size="13.89" textLength="8.75" lengthAdjust="spacingAndGlyphs" fill="#000">0</text>
<text x="53.80" y="2284.20" text-anchor="end" font-size="13.89" textLength="8.75" lengthAdjust="spacingAndGlyphs" fill="#000">2</text>
<text x="53.80" y="2251.32" text-anchor="end" font-size="13.89" textLength="8.75" lengthAdjust="spacingAndGlyphs" fill="#000">4</text>
<text x="53.80" y="2218.44" text-anchor="end" font-size="13.89" textLength="8.88" lengthAdjust="spacingAndGlyphs" fill="#000">6</text>
<text x="53.80" y="2185.56" text-anchor="end" font-size="13.89" textLength="8.88" lengthAdjust="spacingAndGlyphs" fill="#000">8</text>
<text x="53.80" y="2152.68" text-anchor="end" font-size="13.89" textLength="17.62" lengthAdjust="spacingAndGlyphs" fill="#000">10</text>
<text x="53.80" y="2119.80" text-anchor="end" font-size="13.89" textLength="17.62" lengthAdjust="spacingAndGlyphs" fill="#000">12</text>
<path d="M115.50 2358.50v4.86M259.50 2358.50v4.86M403.50 2358.50v4.86M547.50 2358.50v4.86M691.50 2358.50v4.86M834.50 2358.50v4.86M978.50 2358.50v4.86M1122.50 2358.50v4.86M64.50 2344.50h-4.86M64.50 2311.50h-4.86M64.50 2279.50h-4.86M64.50 2246.50h-4.86M64.50 2213.50h-4.86M64.50 2180.50h-4.86M64.50 2147.50h-4.86M64.50 2114.50h-4.86" stroke="#000" stroke-width="1.111" fill="none"/>
<text x="633.50" y="2398.00" text-anchor="middle" font-size="13.89" textLength="48.88" lengthAdjust="spacingAndGlyphs" fill="#000">minute</text>
<rect x="1039.30" y="2121.00" width="156.20" height="24.60" rx="2.8" ry="2.8" fill="#fff" fill-opacity="0.8" stroke="#cccccc" stroke-opacity="0.8" stroke-width="1.39"/>
<line x1="1043.80" y1="2132.25" x2="1071.90" y2="2132.25" stroke="#1f77b4" stroke-width="2.083" stroke-dasharray="7.71 3.33"/>
<circle cx="1058.30" cy="2133.25" r="1.15" fill="#1f77b4"/>
<text x="1087.60" y="2137.40" text-anchor="start" font-size="13.89" textLength="101.50" lengthAdjust="spacingAndGlyphs" fill="#000">Ws_E14_dydt2</text>
</g>
</svg></body></html>
